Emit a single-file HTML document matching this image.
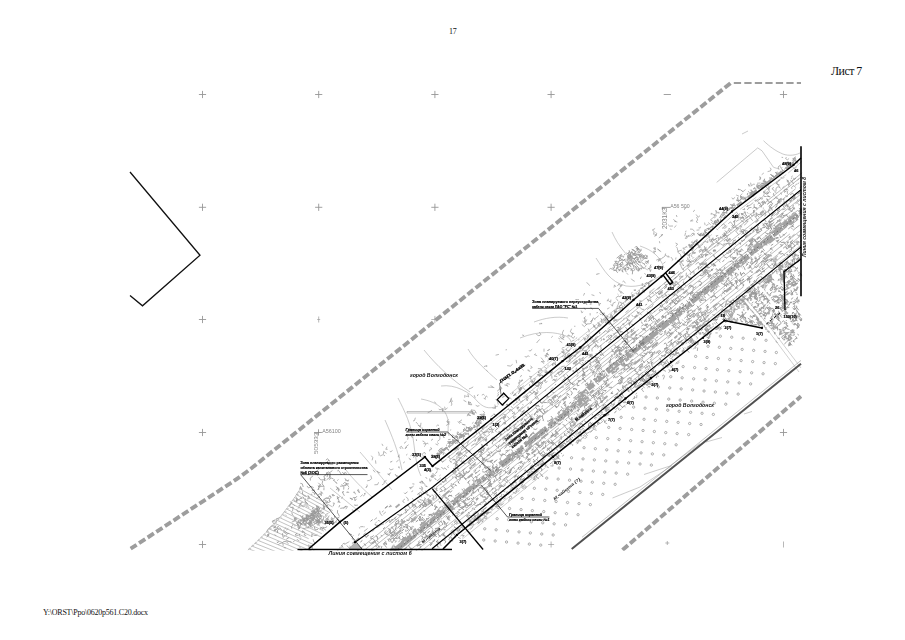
<!DOCTYPE html>
<html><head><meta charset="utf-8"><title>Лист 7</title>
<style>
html,body{margin:0;padding:0;background:#fff}
body{width:905px;height:640px;overflow:hidden;position:relative;font-family:"Liberation Serif",serif;color:#111}
svg{position:absolute;left:0;top:0;will-change:transform}
.pn{position:absolute;left:449px;top:27.3px;font-size:8px;line-height:10px;letter-spacing:-0.3px}
.sh{position:absolute;left:831px;top:63.6px;font-size:11.9px;line-height:14px;white-space:nowrap;letter-spacing:-0.5px}
.ft{position:absolute;left:43px;top:608.2px;font-size:8px;line-height:10px;white-space:nowrap;letter-spacing:-0.24px}
text{font-family:"Liberation Sans",sans-serif}
</style></head><body>
<div class="pn">17</div>
<div class="sh">Лист 7</div>
<div class="ft">Y:\ORST\Ppo\0620p561.C20.docx</div>
<svg width="905" height="640" viewBox="0 0 905 640">
<defs><clipPath id="mc"><rect x="129.5" y="81" width="672.6" height="469.7"/></clipPath></defs>
<path d="M198.9 94.5h7.2M202.5 90.9v7.2M198.9 207.3h7.2M202.5 203.7v7.2M198.9 319.5h7.2M202.5 315.9v7.2M198.9 432.5h7.2M202.5 428.9v7.2M198.9 544.5h7.2M202.5 540.9v7.2M315.1 94.5h7.2M318.7 90.9v7.2M315.1 207.3h7.2M318.7 203.7v7.2M431.3 94.5h7.2M434.9 90.9v7.2M431.3 207.3h7.2M434.9 203.7v7.2M547.5 94.5h7.2M551.1 90.9v7.2M547.5 207.3h7.2M551.1 203.7v7.2M779.9 94.5h7.2M783.5 90.9v7.2M779.9 432.5h7.2M783.5 428.9v7.2M663.7 94.5h7.2" stroke="#969696" stroke-width="0.9" fill="none"/>
<path d="M318.7 316.5v6M317.2 319.5h3M783.5 541.5v6M431.3 319.5h7.2M434.9 315.9v7.2M548.1 544.5h6M551.1 541.5v6M665.3 543h4M667.3 541v4" stroke="#9a9a9a" stroke-width="0.7" fill="none"/>
<polyline points="130,172 200,255.3 142.5,305.8 130,295.5" fill="none" stroke="#111" stroke-width="1.3"/>
<g clip-path="url(#mc)">
<path d="M130.6 548.7L232 482.2Q244.7 473.8 257 463.8L731.4 82.4" fill="none" stroke="#9d9d9d" stroke-width="3.9" stroke-dasharray="7.38 2.93" stroke-dashoffset="0.2"/>
<path d="M733.8 82.9H801" fill="none" stroke="#9d9d9d" stroke-width="2" stroke-dasharray="7.3 3.2"/>
<path d="M622.5 550L801 396.3" fill="none" stroke="#9d9d9d" stroke-width="3.9" stroke-dasharray="7.2 2.8"/>
<path d="M447.8 457.6L509.2 408.2M522.6 397.7L560.5 367.2M568.6 360.7L605.2 331.2M607.3 329.2L678.9 271.5M682.4 269.3L753.3 212.3M757 209.1L809 167.3M449.6 459.9L534.7 391.4M554 376.3L589.5 347.7M595.9 341.9L640.6 306M647.7 300.3L755.1 213.9M767.2 204.3L823.5 159M452.9 464.1L490 434.2M495.4 430.2L590.1 353.9M597.3 348.2L683.2 279M690.2 273.6L795.7 188.7M801.5 183.8L827 163.3M317.5 582.9L416.9 502.9M436 487.6L478.2 453.6M493.4 441.5L538.7 405M541.1 403.3L634.7 327.9M646.4 318.2L759.4 227.2M773.5 216.1L831.8 169.2M320 585.9L429.6 497.6M439.4 489.1L532.6 414.1M547.1 403.1L638.7 329.4M654.8 316L712.6 269.5M726.1 258.6L759.4 231.8M763.8 228L805.9 194.1M821.3 181.8L833.8 171.7M322.1 588.6L434.8 498M444.7 490.6L527.2 424.2M543.2 410.8L655.1 320.7M664.3 313.8L729 261.7M747.5 246.3L792.8 209.9M798.6 205.4L836.4 175M324 590.9L379.7 546.1M389 539L454.7 486.2M473.3 471.1L569 394.1M581.4 383.7L675.8 307.8M693.8 293.9L797.9 210.2M813.5 197.2L838.3 177.3M332.5 601.5L422.9 528.6M425.7 526.5L476.4 485.7M484 479.4L520.1 450.4M524.5 447.1L565.1 414.4M567.2 412.9L680.1 322.1M684.2 318.5L739 274.5M747.3 268.2L789.9 233.9M809.1 218.1L846.8 187.8M335.1 604.7L375.8 571.9M382 566.8L490.7 479.3M492.8 477.9L612.8 381.3M616.8 377.7L698.8 311.7M710.1 303.3L832.7 204.6M846.6 193L849.2 190.9M338 608.3L441.3 525.1M456.7 512.5L518.7 462.6M535 450L658.2 350.8M674.2 337.8L781.9 251.2M787.3 246.5L852.1 194.4M340.4 611.3L374.2 584.1M380.6 579.4L476.5 502.2M486.1 494.6L604.9 399M623.2 383.6L688.5 331.1M694.1 326.5L743.6 286.7M756.6 276.7L854.7 197.7M342.8 614.3L435 540.1M438.1 537.6L531 462.8M546.4 450.1L647.7 368.6M652.4 364.7L757.3 280.2M773.3 267.5L856.8 200.3" fill="none" stroke="#a0a0a0" stroke-width="0.7"/>
<path d="M513.2 395.4L653.4 282.5M511.3 393L651.5 280.2M459.9 536.5L545.6 467.5M462.1 539.2L547.8 470.2" fill="none" stroke="#a0a0a0" stroke-width="0.5"/>
<path d="M511.1 406.2l1.6 2M680.4 278.5l2.1 -1.7l-0.2 -1.2M491.5 433.3l1 -2M527.6 395.2l-1.1 2.1l2.3 0.9M731.1 243.2l-2.2 1.2l2.1 2.6l-1.9 1.5M742.2 229l1 1.2M657.4 292.1l1.5 1.9l2.5 -2l-1.8 -0.1M663.2 295.3l-2.2 -0.1M644.1 309.4l-2.4 -0.1l-1.1 -1.4M799.4 188.1l2.4 -2M595.9 341.3l-1.4 1.1l1.7 2.5l1.8 2.2M785.1 200.9l-2.3 1.8M513.2 414.3l-1 -1.2M574.9 356l-0.9 -1.1l1.6 1.9M594.7 346l1.9 -1.5l-2.7 2.2M556.1 384.1l-1.4 1.1M770.1 207.7l-1.3 -1.7l2.2 -1.8M747 217.3l1.4 -1.1M746.9 215.6l-1.3 0.4M578.1 360l2 -1.6l-0.3 3.3M522.4 411.7l-0.5 1.8l-1.8 1.5l3 0.7M457.8 456l-1.9 1.5M493.4 433l-1.7 -2.1l2.7 -2.2M763.9 213.3l1.5 -0.2l-2.4 2l-1.7 1.4M777.9 201.3l2.5 0.7l1.3 -1M553.4 387.3l-1.5 1.2l-1.3 1.1l1.3 1.6M546.1 389.8l-1.4 1.1M669.3 283.7l1.5 -1.2l2 -1.9M595 342.3l-1 -1.2l1 -0.8M687.5 275.2l1 1.2l1.9 2.4l-1.1 0.9M615.6 320.6l-2.6 0.2M454.7 463.7l2.8 1.8l-2.4 0.4l0.3 3M731.3 230.8l-2.2 -2.7l-0.3 1.3l0.4 1.2M673.6 279.1l2.3 -1.8l-1 0.8l2.7 -2.2M701.7 255.8l1.2 1.4l-2.2 -2.7l3.4 0.4M625.3 326.9l2.2 2.7l-1.1 0.9M757.6 214.7l-2.2 1.8M595.2 339.1l1.7 2.2l1.4 1.7M760.6 203.1l2.4 -2l-0.7 2.8M589.1 348.2l0 -1.4l2.5 -2l2.4 -2M542 383.8l0.4 -1.9l-1.7 1.4l-3.1 -1M715.9 239.9l1.4 1.6l2 2.5l-1 -1.2M564.3 374.5l-0.6 1.7l1.6 1.9l-2.1 1.7M656.2 295.3l2.2 2.7l1.9 -1.5M575.1 354l0.6 2M461.7 459.5l-1.3 -1.7l-1.8 0M664.3 287.1l1.5 -1.8l1.3 -1.1l-1.9 0.9M570.3 371l-0.9 -1.2M482 444.2l0 3.2l1.1 -0.9l-2 -2.7M736.4 230.8l2.3 -1.9l-1.1 -1.4l-1.5 1.2M647.8 301.8l1.1 -0.9M593.5 341.6l-0.8 -0.9l1.4 -1.2l1.8 -1.4M461 451.7l-1.5 1.2l2.8 1.6l-1.1 -1.3M531.5 388l-1.8 -2.2l-0.1 -1.7M637 306.2l0.2 1.9M536 397.7l-1.1 -0.9l2 2.5M595.4 339.9l1.2 -1l-1 -1.3l2.6 -1.2M571.2 358.9l-2.3 1.8l-2.9 1.1l1.1 -0.9M586.3 360.7l-1.8 1.7M736.6 228l0.5 1.3l-1.5 -1.9M590.6 356.2l-2.1 1.7M461.9 444.1l2.4 -1.9M733.8 241l1.6 -1.3l-0.7 1.6M549.5 373l3.1 -1.2l-1 0.8l-1.8 -2.2M749.9 228.3l0.9 1.2l1.3 -2.7M740.8 230.1l2 2.5l1.5 1.9M539.5 382.2l1.4 1.8M478.7 431.7l1.6 3.1l0.9 1.2M733.6 240.2l-0.8 2.8l-1.4 1.2l2.3 -1.8M517.9 402.6l-2 -2.5l1.1 -0.8M638.2 305.8l2.2 1.6M631.2 322.1l-2.6 2.1l1.4 -1.1M797.5 180.1l1.7 -1.4M491.3 430.7l-1.6 1.3l-1.2 1l1.1 -0.7M758.3 219.8l-2.2 1.7l-1.1 0.9M651.9 291.7l1.7 2.5M651.9 302.4l-1.8 -2.2l1.7 2.1M568.2 368.2l-1.7 1.3l-1.7 -2.1M787.3 189.3l-2.1 0.5M658.3 297l-1 1l-1.8 1.5M508.4 409.1l0.9 1.1M566.6 374.4l2.2 2.7M679.3 280.1l1.5 -2.9M513.3 416.4l0.9 2.5M628.3 319.8l-1.3 -1.7M582 349.5l2.4 -1.9l-2.1 1.7l-1.6 -2M691.8 264l-2.1 0.7M610.5 324.3l-2.2 -2.7l-2.9 0.8l1 1.3M474.7 439.7l0.9 1.1l-1 0.8M741.7 227.5l-1.7 -2.4M739.9 220.2l1.4 -3.2M527.6 408.5l0.5 -1.8l0.5 2.7M763.3 212l-0.2 1.5l-2.4 1.9M526.6 396.1l1.1 1.4l-1.3 1l1.4 2.4M740.9 221l1.3 -0.3l1.4 1.7l-1.1 -1.4M725.6 237.9l-2.2 -2.7l1.5 -1.2M519.1 411l-1.2 -1.5M694.2 274.4l-0.4 -3.3l-2.3 1.8l-1.6 -2M782.4 187.9l2 -1.6M450.5 459.1l-1.5 -1.9M669.9 286.8l1.1 1.7M458.8 460.5l1.2 -1l-2.6 1.9l-1.4 1.1M673.9 283.3l0 3.4l2.6 -2.1l1.7 -1.3M788.3 182.7l1.5 1.9l-1.7 -0.1l1.2 2.4M564.8 366.1l-3.5 0.5M651.1 298l-1.8 -2.3l-0.1 1.6M688.3 263.5l-0.3 3.3l-0.6 -1.2l2.7 -0.5M565.2 377.2l0.9 1.1M545.9 380.2l-1.3 1l1 1.3l1.8 -1M651.2 299.7l-2.6 1.1l-1.8 -2.2l1.9 2.3M659.3 287.7l1 -0.8M576.6 353.7l1 -0.8M713.6 254.3l1 3M702.6 265.8l2.6 -2.1l1.3 -1l-0.7 3M484.6 426.9l-1.3 1l-1.4 1.1l1.1 -0.7M739.4 231.1l3.1 0.6l1.3 1.7M582.3 359.4l1.2 -2.2l-2 1.6l0.9 -0.8M452.4 460l2.7 -0.6l-2.6 -0.2M663.9 283.7l2.6 -2.1M493.2 429.9l-2.2 -0.9M488.4 428.1l1.3 1.7M610 336l1.3 -1l0.2 2.1M623.5 323.1l-1.7 2.4l-1.5 1.2l1.3 2.4M617.4 332.4l1.3 -1.1l1.8 -1.5l-0.5 -2.8M674.9 278.3l1.5 -1.2M513.8 413.7l0.6 -2M724.5 240l-0.3 1.4M781.5 194.6l-0.7 -2M639.2 312.3l-1 0.8l-0.9 0.8M713.8 251.4l1.7 -1.4l-2.6 0.8l1.6 1.1M610.3 338.3l-2.2 1.8l-1.8 1.4l1.7 -1.7M783.8 190.3l1.3 1.6M465.5 450.5l0.9 2.7M584.1 360.5l-2.4 -0.2l-2.6 -0.4M608.3 342.9l2.7 -2.2M724.5 243.3l-1 0.8l-1 0.8l-2.3 -1.3M490 426.4l2.1 2.6l-3.4 0.8M516.2 416.7l-3 0.6M658.6 289.3l0.8 -1.8M755.8 215.5l0.5 -2.9l0.3 2.3M715.8 251.6l-1.7 -2.2l-0.9 1.8M633.3 316.9l-1.7 -2.1M766.4 199.4l2.1 2.5l3.1 0.3l-0.7 -1M540.8 381.8l-2.5 2M577.3 353.3l2.4 -1.9l0.6 -2.7M761.8 205.7l-1.3 1.1l2.1 -1.7l1.4 -1.1M628.3 319.7l-1.8 1.4l1.4 -1.1M509.2 411.2l1.3 -2.1l1.3 1.6l1 1.3M454.5 450.2l2.6 -2.1l1.5 1.8l-0.9 -0.9M580.7 363.5l-1.9 -0.7l-2.6 2.1M609.3 334.9l-1.5 1.1l-1.8 1.5M745.5 221.2l2.2 -1.8l-2.3 1.9M650.8 292.3l-1.1 0.9l0.6 -2.5M792 188.9l-0.6 -1.4l2.5 -2l1.7 2.1M485.9 427.4l1.7 -1.4M591.7 354l-1.9 1.6l1.3 -1M613.2 333.4l1.5 1.8M739.5 227.7l2.1 2.6l1.7 2.2l1.4 1.8M481.6 436.2l1.7 2.1M703.2 251.5l-1.3 1.1M459.5 458.5l2 -1M589.9 354.1l2.7 1.6l-2.6 0.6l2.6 -2.1M714.7 240.2l-2.4 -2.2M594.6 342.3l-1.6 0.1l-0.8 -1l1.8 -1.4M588 353.7l-1.9 -2.4l-3.1 -1.4l-1.5 1.2M778 202.2l-1.1 2.9M614.6 336.8l1.3 1.6l2.4 -1.9M569 362.1l1.9 -1.7M469.6 452.4l0.5 -1.5l-2.5 0l-1.5 -1.9M746.3 218.2l2.6 -2.1l1.7 2.1l2.1 2.6M746.5 222.7l1.9 -1.5M538.6 392.3l-2 -2.5l1.8 -1.5M519.9 400l-1.2 -1.5l1.3 1.7l-1.8 0.1M773.7 199.3l2.3 -1.9l1.2 1.6M483.4 429.9l-1.5 -1.8l2.6 -2.1l1.4 -3.1M462.4 446.7l1.6 -1.3M662.6 297.8l1.8 -1.4l2.8 -1.5M711.3 244.3l2.4 -0.7l-1.7 -2.1M767.4 204.3l2.7 -2.2M473.5 444.2l-2.4 2M468.5 440.7l-1 3.2M674.3 286.3l-1.4 -1.8M497.1 423.9l1.9 -1.1M784.2 192.6l2.4 -1.9M481 439.4l-2.5 2l-2.6 2.2M455.2 450.2l1.5 -1.2l2.1 -1.7M723.2 236.4l1.9 -1.6l1.1 1.4M461 454.6l-1.5 1.2l-0.9 -1.1M497.8 432.4l2.4 -1.2M663.2 296.6l-1.4 1.1M610.3 328.8l-2.6 2.1M603.3 332.6l2.7 -2.2l1.4 1.7l2.1 -0.8M556.7 373.7l2.6 -2.1M499.6 416.4l2.2 -1.8M764.3 216.3l1.8 -1.5l-1 -1.1l1.3 -1M477.5 444.3l-3.1 -0.4l-1.6 1.3M483.8 433.3l0 1.5l2.4 0.6M714.1 250.9l2 -0.4M476.3 438.4l-1.3 2.8M715.7 246.1l-1.5 1.2M613.6 321.8l1.2 -0.9l1.3 -1.1l1.2 1.5M461.9 460.3l-1.3 1l1.9 1.4l3.1 0.9M496.8 424.4l2.3 -1.9l1.7 -1.3l-2.5 2M727 233.1l-2.1 -2.6M675 282.9l0.4 -2.1M575.1 356.7l-2.6 -1.1l-2.7 2.2M763.8 201.4l-0.9 1.2l3.2 0.2l-1.1 0.9M612.8 331.2l-1.1 -1.3M745.1 232.6l1.3 -0.2l-0.9 -0.9l-2.3 -2.4M748.2 213.6l-1.1 -1.4M535.2 385.1l1.4 1.3M677.1 287.6l2.5 -2.1l-1.4 -1.7l-2.1 -2.6M538.2 383.6l1.2 1.4l-2.1 1.7l-1.4 -1.8M624.5 318.2l-1.5 1.2M793.4 179.6l-1.5 1.2M561.7 381.1l1 -0.8l2 -1.6M647.1 309.6l2.3 -1.8l3.2 -1.4M608.2 337.9l1.6 -2.2M758.1 214.5l3.2 -0.1l-1.2 -1.3l1.8 2.2M454.8 463.1l0.9 1.1l1.5 -1.5l-1.6 -2M708 250.7l-1.2 -1.5l-2.1 1.7M591.4 344.7l-1.5 1.2l-2 1.6l1 -1.7M614 337.7l-1 0.8M563.3 371.6l-2.4 -0.3l-1.8 1.5M585.5 354.8l1.7 -1.4l-1.9 1.5M639.5 312.3l-1.2 1l-1.5 -1.8l2.3 1.5M585.3 350.8l1.9 2.4M694.3 261.8l2.4 -2l-1.7 1.4M753.4 212.6l1.7 -1.3M587.3 360.6l2.9 0.2l-1.1 -0.4l2.1 2.6M671.5 286.9l-1.5 -0.7M780.1 203.7l-2.2 -2.7l2 -1.6l-1 0.8M759.6 215l-2.4 -1.3M502.3 415.2l1.2 -1l2.9 1.2M523.6 405.1l-1.2 -0.7M680.5 272l1 1.2M572.1 371.1l1.8 -0.5l0.1 2.3M598.6 346.6l-1.3 -1.7M462.5 458.8l1.2 -1M457.1 463.4l-1.9 1.6l1.9 -0.5M612.4 338.9l-1.4 1.1l-1.2 -1.6l2.1 -1.7M538 384.6l1.3 1.3M619.6 331.8l-1.2 1M595.9 353.1l1.2 1.5M535.4 392.5l-2.8 -1.9M619.9 334.3l0.4 1.7l2.5 -2l-1.9 1.5M463.5 455.2l1.2 1.5M713.1 255.4l1.5 1.2M659.8 290.8l-2.3 1.8l-1.1 0.9l-1.2 -1.4M744 232.4l-2.6 2.1M706.4 258.7l-2.5 2l-1.1 1.4M683.2 268.7l0.4 1.8M703.3 256.5l-1.2 1l-1.5 -0.5l-2.4 -1M536 392.9l-1.1 -1.4l-2.6 2.1l-2.8 -1.7M715.3 257.2l0.4 1.4l2.8 1.7l1.8 2.2M552.3 372.3l-1.7 1.4l0.6 2.3M705.6 262.7l-1.8 1.5M513.1 405.2l1.4 -1.1l1.2 -1l1.3 -1M707.3 254.8l-1.4 1.1l-0.5 -1.4M502.6 423.6l1.9 -1.6l1.2 2.2l-1.7 -2.1M763.9 207.8l-1.1 0.9M628.7 310l-1.5 1.2l-1.7 1.4M617.9 328.3l1.2 -1l-2.3 0.2M728.8 234.7l-1.9 1.6l-2.1 -2.6l-0.8 -1M689.5 277.3l2.5 1.3l-2.3 1.8l2.4 -2M787.4 193.9l-0.1 -3M570.2 359.6l-1.2 -1.5l2.4 -2M466.9 449.8l-2.7 1.9l-1 0.8l-1.8 1.5M677.3 281.5l-2.2 1.7M688.1 268.7l2 2.5M716.8 238.4l-2.8 1.4l-1.8 -0.2l-1.7 1.4M458.2 463.9l-2.6 2.1M455.1 463.6l1.6 -1.3l-1.5 -1.9l2.3 -2.6M685.4 278.3l-2.2 1.8M661.4 290.5l-0.7 2.2l2 0.3M523.1 406.6l-2.2 1.7l-1.6 1.9M540.2 388.5l1.1 -0.9l-1.9 1.5M691 262.5l-1.1 -1.4l1.1 1.3l-2.6 -1.2M770.9 207.2l0.9 1.2l-2.6 -0.3M624.5 325.1l-1.5 -0.6l2.3 -1.9l1.7 -1.3M457.4 457.9l1.8 -1.4M613.6 337.6l2.7 -2.2l1.6 2.9l2.3 -1.8M756.2 208.8l-1.5 -1.9l-2.2 1.8M488.5 432l-0.7 -1.3l-1.4 1.1l-1.2 0.5M746.6 223.2l-2.4 1.9M779.1 200.4l-2 1.6M575.8 354.6l1.8 -1.5l-0.8 -1.1l2.5 -0.5M709.5 252.3l2.9 1.5M571.4 359.2l2 -1.6M759.2 217.4l-1.6 -2l-1.5 1.2M571.4 355.7l-2.2 -2.4l-2.2 1.8M553.1 379.2l1.3 1.6l2.7 -2.2M779.5 201.9l-2 1.6l2.4 -1.9l-2.2 1.7M727.5 239l-0.4 -1.7l-0.9 -1.7l-3.2 -0.1M788 195.8l-1.2 1l-1.3 -1.7M799.2 182.7l-1.5 1.2M475.6 435.9l-2 1.6M739.8 227.6l2.4 -2M551.8 375.7l0.2 2.9M454.3 450.4l1.1 -1.3l2.1 -1.7M483.3 441l1.5 -1.2l1.8 0.2l-1.5 1.2M575.3 365.9l0.7 -2.2l0.5 -1.5l0.2 -1.4M458.8 451.7l-2.7 2.2l1.2 -1l1.3 0.8M754.5 215.6l1.6 2.3l2.2 2.7l-2.3 1.8M738.7 234.8l-1.7 -2.1l-1.6 -1.9M630.1 320l-1.3 0.9l-2.4 -2.4M496.9 425.1l-1.9 1.6M730.2 243.9l-3.1 -0.6l-1.9 0.7l-2.5 2M786.8 189.1l1.5 1.2M721.2 235.9l-2 2.7l-1.1 -1.3l0.5 3.3M542.9 383l-1.4 1.1l-0.9 2.8M660.8 286.3l-2.6 2.1l-1.4 1.2M774.7 196.2l-1.7 -2.2l1.3 -1.1M771.3 207.8l1.2 2.7M778.3 206.9l1.6 2.3l-2.6 2.1M509.3 418.7l-1.8 -2.3M483.2 432.5l2.8 -0.4l1 -0.8l0.8 1M667.6 290.6l-0.5 1.1l-2.5 2l2.2 2.7M519.4 409.6l1.7 2.1M652 305.7l1.6 -1.3M722.3 238.8l1 -0.8M520.3 397.3l-2.6 2.1l-2.7 -0.8l2.4 -0.3M779.6 200.8l-1.4 -1.7l-2.2 -2.7M783.2 199.5l1.1 -0.5l-1.3 1.2l1.4 -1.1M484.4 436.7l-2.6 2.1M706.4 254.7l1.9 0l-2.9 -0.2l0.3 2.6M688.4 274.7l-1.6 1.3l-1.1 2.3M686.4 272.7l-0.3 3.3M768.5 212.3l1.5 1.9l-2.7 2.2M647 304.1l-1.4 1.1l1 -1.3M698.3 269.7l0.9 -1.9l-1.2 0.9M589.9 347.1l-1.9 -2.4l-2.1 1.7l-3.3 1.1M632.4 320.8l-1 1.1l-1.9 1.5l-0 2.4M654.4 288.5l-1 0.8l-2.6 2.1M759.1 205.9l1.8 -1.5l-1.6 -1.5l-1.6 1.3M587.3 343.3l-2.2 -2.7l1.3 1.6M793.9 179.7l2 -1.6l-1.5 1.2l-1.3 -1.6M743.4 218.9l-1.4 -1.8l1.4 1.7l1.4 1.7M703.7 262.4l-0.7 2.4l-1.2 -1.5M492.5 422.8l-2 1.6M486.1 437.7l0.7 2.1l-1.9 -0.6l1.9 2.3M599 334l1.2 -1l-1 -1.3l-0.9 -1.1M658.7 294.3l2.2 -1.7l2 -2.5M544.3 380.8l1.5 -0.7M698.1 266.2l0.6 1.9M795.1 185.4l2.2 -1.8M604.3 339.1l-1 0.8l0.6 -1.8M671.8 282.8l2.1 0.8l2.1 0.7l-2.5 2M522 411.9l2.3 -1.8l-0.8 2.6l1 1.3M791.4 182l1.8 -1.4M695.1 260.5l2.2 -1.7l2.6 -2.1M761.7 207.5l-0.9 -3.1M718.1 242.8l1.1 1.6l-2.4 1.9M462.1 450.2l-0.6 -1.8l1.3 -1l1.6 1.4M757.3 207.9l-3.4 -0.6M558.2 372.3l1 3.1l1.4 -1.2M525.9 400.5l2 -1.6M468.1 444.5l-1.8 1.4l-0.5 1.5M477.3 441.2l2.3 -1.8M673.2 281.8l-0.8 -1M689.4 262.7l2.4 -2l1.7 1.1l0.6 -1M562.2 367.5l-2.5 2M552.4 380.5l1.8 -1.4l1.5 1.8M557.3 376.7l-3.2 -0.7M536.9 384.9l2.1 2.6M706.1 251.1l1.2 -1M610.5 335.2l1.6 0.9M664.8 284.4l1.9 2.3l-2.4 1.9l2.7 -2.2M754.1 214.5l-2 1.6l-2.1 -2.6M465.5 454.9l1.7 2.3M576.4 353.8l-0.9 -3.2M776 191.3l0 -3l2.1 -1.7l2.6 1.7M717.8 243.9l-1.9 -2.4M504.2 424.5l1.6 -2.9l-1.9 -2.4M596.4 346.9l-1.9 -0.4l-2.6 2.1l0.2 2.9M671.1 285.3l1.9 -1.6l-1 0.8M687.6 275.9l1.9 2.4l0.4 -1.7M702.5 266.3l-2.4 1.9l1.9 -1.8M627.8 317.4l1.8 -1.4l-0.9 -1.1M680.6 272.8l-2.7 2.2M603.5 339.3l1.4 0.4M755.8 210.3l1.5 -1.2l-1.3 -1.1M784.2 191.3l0.5 -1.9l2.5 -0.5M592.7 338.4l-1.1 0.9M727.8 241.7l-1.5 -2.5l-0 1.5l-1.4 -1.7M621 332.9l-0.7 -1.8l3.1 1.2M695.6 264.4l2.7 -2.2l1.6 1.9l2.8 0.6M569.2 359.6l1 1.2l-2.7 2.2M683.1 269.8l-0.8 -1l-1.2 -2.4l-0.5 -2M707.2 251.1l2 2.4M746.3 220.9l1.5 0.6M566.2 369l-1.5 1.2l-2.2 2.6l-2.2 1.8M523.1 400.1l-1.4 1.6l-1.9 0.3M496.7 432.3l-1.5 -1.7l2.3 -1.9l-1.2 -1.4M730.3 232.5l-1.8 -2.2l-2.5 2M735.2 224.2l-1.9 1.6l1.4 -1.1l-2.5 2M764.7 212.7l1.2 -1l-1.9 -2.3M600.4 341.1l1.6 -1.3l-1.5 -1.9M499.4 419.5l2.6 -2.1M770.9 206.9l-1.7 1.4l1.8 -2.4l1.2 -0.9M641.6 315.2l-1.7 -2.3M776.1 192.9l-2 -2.5l-2.2 -1.7l2 -1.3M565.2 366.8l-2.2 2.7l-2.2 1.8l1.1 1.3M618 327l1.6 2l1 0.8M535.9 395.3l2.1 2.7l0.4 1.6M767.5 212.2l2.2 -1.8l-0.8 -1l-0.3 2M480.9 430.2l1.5 1.9l2.6 0.9M590 350l-2.7 2.2l-1.6 -2l1.3 1.1M515.1 414.5l-1.8 -2.3M744.1 230.7l-1.3 1l2.6 -1.4l2.6 1.1M775.7 204l1.5 1.9l-1.9 1.6l1.5 -1.2M708.6 252.5l1.9 2.4M582.3 362.2l1.9 2.3l-3.3 0.5M754.9 210l-1.9 1.5M526.9 395.7l-2.6 2.1M616.2 332.6l-1.4 0.6l-1.2 1M464 456.6l1.8 -1.4M770.4 201.3l2 2.5l-0.9 0.8l1.6 -1.3M668.5 293.9l1.8 2.2l1.6 -1.9l1 -1.2M629.8 324.3l-1.2 -0.9l1 -0.8l0.8 0.9M690 273.3l0.5 1.7M450.9 460.8l0.3 1.7l-1.8 -2.1M792.5 182.2l1.4 1.8M738.3 237.1l0.8 1.4M638.8 303l2.6 -2.1l-2.5 -0M683.5 276l-1.1 0.9l-2.1 -0.8l-1.3 1.1M530.8 400.9l1.1 1.3l-2 1.6l2.1 -1.7M771.7 209.6l-1.1 0.9M732.8 228.1l2 -1.6l0.9 -0.8l0.6 2.7M599.3 350.8l2 -1.6l-0.7 -3.2l0.7 -1M374.4 529.9l-2 1.6M407.5 491.8l-2.5 2l-0.9 -1.1M420.5 492l-1.4 1.1l-1.9 1.5M438.2 468.5l-3.2 -0.6M355.7 540.3l-1 0.8l1 1.2M441.3 467.4l2.4 1.5l1.3 -1.1l1.8 2.2M446.5 459l-2 1.6l-2.3 1.8M441.7 461.4l-1.5 -2.2M411.3 486.8l-0.9 2.4M384 523.8l-3.1 1l-2.5 2.1l-2 0.7M409.2 487.6l2 0.4l2.4 -1.9M424.7 485.6l2.4 1.2l-0.7 -1.2M352.3 536.5l1.2 -1M365.7 532.8l-2 1.6l0.8 0.9l2.1 2.7M344.7 544.4l2.3 -1.5l1.4 -0.7l1 -0.8M420.7 492.1l1.7 2.1M425.6 477l1.4 1.8M377 524.7l1.3 1.7M437.6 470.8l-1.1 0.9M370.6 521.3l1.9 -1.6l-1.8 1.5M381.9 512.2l1.8 -1.5M439.9 469.6l-1 -1.1l-1.1 0.9l-1.3 0.2M346.8 545.4l1.7 2.1l2.6 0.5l-1.4 -2.3M368.4 534.9l-2 2.1l2.6 -2.1M411.7 492.1l1 -1.6M351.7 537.9l2.1 2.6M343.1 547.8l-1.5 -2.8l0.6 1.6l-1.8 1.4M412.4 483.8l2 0.3M360.1 528.4l-1.2 -1M377.7 521.2l1.2 -1l1.1 1.4M447.4 457.6l2.5 -2l-1.7 1.4M419.2 482.4l2.6 -0.7l-1.5 1l1 0.8M355.3 546.9l-1.4 -1.7M425.2 484.9l-1.6 -2l-1.7 -2.1l1.2 3.1M387.8 506.4l-2.9 1.8l2.6 -2.1l-2.2 1.8M338.9 548.4l1.7 -1.4M374.3 519.8l2.7 -2.2M385.8 512l-2.5 2.1M363.9 531.4l1.2 -0.9l2.5 -2M435.7 475.8l-0.9 -1.1l-2 1.6l-0.7 -1.8M408 501.1l0.2 -2l-2.1 -2.3M413.6 499.9l-1.2 -1.6M375.9 524.8l-1.1 -0.7l1.3 1.7l1.1 -0.9M439.5 475.8l1 -0.8M443.5 461l-1.1 0.9l-1.4 -1.7M361.1 541.5l1.2 -1l-2.2 1.8M358.5 535.7l0.9 -2.4M419 493.3l0.3 2.1l2.5 1.7M390.1 504.7l1.4 1.7l-2.6 0.5l1.7 -1.4M342.3 544.5l1.9 -1.5l0.2 1.3M352.7 543l1.7 -1.4l-1.3 1l-1.2 0.9M421.7 490.9l0.9 -2.6l-1.3 -1.6l1.1 0.7M433.3 474.9l-0.4 -1.9M434.3 478.2l1.9 1.5l-0.9 -1.1M382.2 515.8l-2.1 -2.6l-0.4 -2.4M350.8 533.8l0.9 1l-3 -1.1M431.6 479.9l-1.7 1.4l-0.2 -2.8M404.9 499l-1.1 0.9l-1.2 1l1.8 2.2M375.3 523.2l1.4 -1.1M437.2 472l-2 1.6M363.1 526.6l-2.9 0.2M432.4 476.6l0.8 1M448.5 465.4l-0.9 1.3l1 1.3M432.3 477.7l2.3 -1.9M440.8 477.8l-1.3 1.1l-2.6 2.1M364 527.4l0 -1.2M419.2 488.2l2.9 1M432.4 470.3l-2.4 1.9M367 535.1l-0.8 -1.5M422.4 490.9l2 2.5l3 -0.4l-2.1 -2.6" fill="none" stroke="#989898" stroke-width="0.75"/>
<path d="M790.4 180.2l1.8 2.2M691.3 253l-2.6 2.1M780.4 179.7l-2.1 1.7l-2.6 2.1M722 228.5l2.3 -1.8l2 -1.6M687.6 257.5l0.8 3.1M728.3 223.7l2.2 -1.8l1.4 1.8l1.8 2.2M702.8 243.3l2.3 -1.9l2.8 1.1l-0.2 -2M701.3 248.9l-2.6 2.1M780.7 176.9l1.6 2M706.6 248.1l-2.5 2l1 -0.8l-0.7 -3.2M776.5 183l2.1 2.6l1 1.2M738.4 218.6l2 -1.6l1.5 1.9M788.7 180.7l-1.5 -0.4l0.2 1.7l1.6 -0.2M777.1 181.2l-0.4 2.8l3 1M791.2 177.1l1.5 -1.2M784.2 177.1l-1.1 1.4M738.3 215l1.3 -1.1l-2 1.6l-1 -1.3M786.7 179.6l2.1 2.6l1.4 1.8M710.1 238.2l-2.1 -2.7l-2.3 1.8M768.6 192.5l-1.9 1.5l1.8 -1l-1.3 -1.7M701.2 249.2l1.8 2.3l0.5 -2l-1.4 2.2M732.8 217.7l1.5 -0.2M766.7 198.5l1.5 1.8l-1.3 -1.6M767.8 193.3l-1.6 -0.7l-2.5 2M689.7 260.5l-1.9 1.5l-1.2 -1.5l1 -0.8M779.4 179.7l-1.3 1.1l1.2 -0.8M691.1 250.8l2.6 -2.1l-1.7 1.4l2 2.5M767.9 196.2l2.5 0.6M682.7 264.8l1 1.2l-0.8 -1.4l-2.2 -2.7M723.4 228.2l1.7 -0.1l2.2 -1.8M767.1 196.2l2.4 0.5l-2 -1M744.1 217.6l-2.6 -0.2l1.2 -1l1.3 2M768.9 192.7l-1.9 1.5l-1.9 -0.9l-1.8 -2.2M763.5 194.8l0.4 1.6l2.7 0.1M758.6 198.8l-2.3 1.8l-1.6 0.1l1.6 0.9M700.9 250.9l-1.7 1.3l2.2 -1.8l1.1 -0.9M762.9 196.7l-2.4 1.9l-2.1 1.7l2.4 -2M768.7 190.1l-1 -1.3l-1.8 -2.4M718.2 235.4l-2.1 0.4l0.9 1.2M770.8 185.5l-1.7 2.3l-0.2 3.2l1.5 1.8M692.7 258.6l1.2 -1.2M688.3 254.9l1.3 -1l-0.2 2.7l0.3 1.6M796.9 166.7l-2.6 2.1l-2.3 -2.5M755.3 208.3l-1.1 -1.3l-0.1 -3.1M710.7 239.2l1.8 2.9l-1.7 -2.2l2.6 -1.9M746.9 216l-1.3 -1.6l-1.1 1.2l2.2 2.6M762.9 203.6l2 -1.6l-1.2 -1.5M741.4 213.2l1.8 2.2l-1.2 -2.1l-0.6 1.9M680.1 264.9l0 -2.4M709.2 235.8l-1.5 -3l2.2 -1.8M720.2 237.1l0.8 1l1 -0.8l2.6 -2.1M726.6 232.8l-2.7 2.2l-0.2 1.4M698.2 247.9l1 -0.8l-2 -2.9l-1.5 -0.5M731.2 228.2l1.9 -1.5l1 1.2M700.8 247.6l-0.9 -1.1l1.9 -1.5l1.4 -1.1M714.3 240.9l-2.5 -1.6M738.4 217l0.9 -1.5M741.8 214.6l2 -1.6M716.5 238.5l-1.5 1.2M690.5 259.4l-1.4 1.1l1.7 1.4M753 211l1 -0.8l-0.7 3l1 -0.8M747.9 205.4l-1.3 1.1l1.4 0l1.1 1.3M735.8 219.9l-2.7 2.2l2.1 -1.7M735.7 221.9l1.1 -0.9l2.1 -1.2M692.4 254.4l-1.4 1.1l1.6 1.9M742.5 209.4l2.2 0.3l-0.3 -1.6M790.9 178.8l1.1 -0.9M712.1 244.2l-1.3 1.5l-2.2 1.8M736.6 212.3l1.5 1.9M765.5 191.1l-2.2 1.8l1.1 -0.9M683.4 259.7l-2.7 2.2l3.2 -1.1M755.8 199.4l1.2 1.2l1.3 1.6l1.8 1.9M681 262.6l-1 -1.3l-1.4 0.5l-1.3 -1.6M753.3 202.6l-1 0.8l-2.2 1.8l-3.1 0.9M689.6 254.8l-1.3 1.1l-1.8 -2l2.2 -1.8M725.7 226.4l-2.1 -2.7l-2.4 1.9M745.9 214.1l-1.8 -2.3l1.6 0.4l-1.2 0.9M736.2 216.7l-1.3 1l0 1.3l1 -0.8M736.3 215l-1.8 1.5l-1.4 -1.7M706.2 246.9l-1 1.8l1 2.6l-1 -0.8M717.7 230.1l-1.1 -1.4M695.8 252.5l-2.7 -0.2l-1.2 0.9l3.5 0.3M709.3 238.6l0.1 1.8l1.6 2M751.5 207.4l-1.8 0.2l-2.7 2.2M743.7 214.3l-2.9 -0.9M734.5 224.3l-0 -3.5M724.2 233.5l0.9 -0.8l-1.3 1l-1.8 1.5M753.7 211.1l0.9 1.1M732.7 226.5l-1.1 -1.3M763.1 198.2l-1.4 1.2l-2 -2.4" fill="none" stroke="#989898" stroke-width="0.75"/>
<path d="M692 252.7L711.9 234.4M717.9 228.8L737.1 211.7M740 209.4L756.4 197.1M763.7 191.5L786.3 174.5M788.3 172.9L802 161.4" fill="none" stroke="#a0a0a0" stroke-width="0.55"/>
<path d="M599.4 373.6l-1.7 0.5l2 2.4M677.3 318.6l1.9 2.4l-0.1 2.7M651.2 319l2 -2.2l-1.2 -1.5l-2.2 1.8M493.7 476.8l3.2 -1.3l-0.1 -3.1l-1.5 1.2M585.1 395.8l2.4 1.9M631.5 329l-0.4 3.4l2.5 -2l-1.1 0.5M762.1 261.3l-1.4 1.1l2.5 -2l0.9 1.2M669.7 313.5l3.3 -0.2l-0.4 2.2l-0.4 -3.3M435.6 490l1.6 -1.9l-1.5 0.3l1.9 2.3M481.8 502l-1.4 1.1l-1.3 1.1l-1.8 1.4M723.6 303l-1.7 1.3l-2.4 1.6M590.1 369.2l1.4 1.8M659.1 319.1l-2.4 1.9l-1.6 1.3l1.3 1.6M500.9 478.4l-1.7 -0.6l1.8 1.8M723.8 269.5l1.2 -2.8M559.3 423.6l-1.3 1l-0.7 1.5M659.4 329.4l1.2 -1l1 1.2M556.1 416.5l0.4 1.2M624.1 363.8l-2.2 -2.3M647.9 367.6l-1.7 -2.1M758.3 281.1l2.2 -1.7M783 216.4l1.1 -0.9M456.3 478.5l-1.2 -1.5M465.3 511l1.1 -0.9l-1.4 0.4M568.8 378.9l-1.3 1.1M553.7 442.9l-1.1 -1.3l-1.7 -2.1M480.3 496.1l1.3 -1.1l1.4 1.8M790.4 223.8l-0.8 -0.9M762.6 248.4l2 2.5M400.4 535.6l-2.1 1.7M700.8 301l1.5 -1.2M485.6 489.7l1.6 2.6l1.4 -0M491.5 484.3l-1.8 -2.1l2.1 2M568.2 405.9l1.3 1.6l-1.6 1.3M671.5 342.4l1.5 1.9l-0.2 2.5M795.5 203.8l2.3 -1.9l2 -1.6M454.1 501.9l-0.7 -1.2l-2.8 1.1M711.1 268.9l1.3 1.7M743 258.2l1.1 -0.9l-2.5 -0.9M628.7 333.4l-1.9 -2.4l2 -1.6M632.9 381.8l2.1 2.6l2.5 -2l-2 1.6M672.5 310.6l-1.7 1.4l1.5 -1.2l-0.9 -1.1M436.9 490.3l-2.4 2l-1.3 -1.6l1.6 2M471 502.8l2.4 -1.9l1.9 2.4l-1.1 1.4M696.6 327.8l1.9 1.3l-2.1 1.7M660.9 333.7l-1 0.8l-1.3 -1.6M674.4 324.6l-1.5 1.1l1.3 1.6l3.4 -0.2M578.8 417.4l2.2 -1.7M769 266.6l-2 -2.5l1.2 1.5M769 254.7l-1.4 -0.3M586.1 413l0.3 1.5l-2.5 2l-1.5 1.2M442.1 506.2l2 2.5l-1.2 0.8M456.2 502.1l1.8 2.2l1.4 -1.1M535 461.3l-1.9 -2.3M621.4 381.7l-2 -2.5M526.6 422.5l-1.8 -3l1.2 1.5l-1.9 -2.4M577.7 372.6l-1.7 -2.2l0.5 -2.7M557.9 412.7l1.5 -1.2l2.4 -1.9l-1.3 1.1M422 514.7l-1.5 -1.6l0.7 1.4l0.9 1.1M791.1 241.1l2.1 2.6l1.9 2.3l-1.7 1M733.1 269.9l1.5 -1.2M772.9 262l1.5 -2.4l1.6 2M553.2 444.8l-1.5 -1.9l-1.4 0M552.3 419.6l-0.9 -1.1M665.7 315.4l0 3.1M623.2 355.4l2.5 0.9l-1.5 1.2M567.9 409.8l-2 1.6l1.8 0.5l1.1 1.5M700.5 311.6l0.4 -1.2M449.1 495.7l2.9 -0.4M728.9 283.8l3.2 -1M457.5 496.6l-2.6 2.1l-1 -1.2M797.5 194.5l2.4 -1.9l-1.3 0.9M623.6 386.5l-1.5 1.2M393.3 536.2l0.8 -1l-2.2 0.2l2.4 -2M739.1 253.6l-0.1 1.3M783 215.6l2.6 -0.3l1.7 -0.9M496.3 475l-1.5 0.5l1.2 2.8l1.6 2M460 504.9l-2.5 2l2.3 -1.9l-1.3 -2.6M745.7 266l1.1 -0.9l1.2 -1M681.6 336.7l-2.1 1.7l-1.5 1.2M705.1 312.6l1.5 -1.4l-0.8 -1.1l-2.3 1.8M549.7 403.6l2.4 -1.9l-2.1 -2.6l-2.5 2M525.6 425.6l-2.3 1.9l-1.3 1l-1.7 2.6M661.3 334.9l-1.6 -2.5l-1.2 -1.5l-0.5 1.9M785.5 247.4l1.5 1.8l2.3 -2.4l2.1 0.3M774.8 258.6l-2.9 1.4l-0.2 -1.2M693.9 315.9l0.3 1.4M520.5 440.1l-2.6 0.8l1.4 1.7l-0.9 -1.1M732.9 298.9l1.3 1.6l-1.7 -0.1l-2.7 2.2M492 467.6l0.8 1l2.6 0.9M471.4 460.4l-1.6 0.6M607.2 377.1l2.2 -1.8M680.9 309l2.4 -1.9l-1.2 1l-1.3 1.1M507.1 476.4l-2.1 1.7l-2.7 2.2M432.1 534.2l0.2 -3.4l0.6 -1.4M709.9 267.7l-3.4 -0.7l-2.1 1.7M530.7 443.6l-0.8 -1l-1 2.8M455.1 509.3l-1.6 -0.6l-1.8 1.4M632.8 369l-1.5 -1.9l1.5 1.8l1.8 -1.5M505.4 473l0.2 -1.8l1.7 2.1l1.2 1.4M696.2 286.3l-1.6 1.3l-1.8 -0.9M425.4 534.8l1.3 1.6M493.2 481.8l1.7 -0.7l-0.6 -1.7M611.6 357.6l-1 0.8l-0.2 3l-1.2 -1.6M475.3 482.1l-1 -1.2l-1.2 -1.5M460.7 497.6l1.5 1.8l0.5 -1.9M618.1 365l-2.6 2.1l2 -1.6M773.1 215.1l-1.9 1.5l1.3 1.6l-1.5 0.7M682.7 288.2l1.3 1.6l-3.4 -0.4M402.9 532.6l-1.7 0.3l-2.6 2.1M444.1 522.1l1.1 3.3M622.9 387.8l1.7 2.2M627.7 335.9l-0.2 -1.4M498.3 473.4l-0.9 -1.1l-2.1 -2.6M581.1 414l1.2 2.8l-1.3 1M676.1 315.5l2.9 1.7l-2.2 -1.7l-1.1 0.5M644.7 363l-2.1 -2.6l-1.9 1.5M428 499.2l1.7 2.1l1.5 1.8l-2.2 -0.1M640.2 368.5l-1.7 1.3M427.7 535.6l-2.4 1.9l1.4 -1.2M570.5 413.2l-1.4 -0.3l1 1.3l-1 0.8M434.8 488.1l-1.3 0.1M787.3 241.5l1.1 1.3l-1.5 0.3l1.8 -1.4M757 282l1.8 2.2M708.9 307.4l-2.1 -1.1l1.5 0.5l-1.4 1.1M614 348.5l2.1 -1.7l-1.6 -1.9M399.1 529.1l2.7 -2.2l-1.5 1.2M563.3 415.8l0.8 1l-0.7 3.1M564.3 399.7l2.6 -2.1M569.6 424.1l1.7 -1.4l1.9 -2.4M556.2 396l-1.7 1.4M671.5 322l1.5 0.1l1.3 1.7l1.6 2M619.7 355.2l-0.4 -2.6l-0.3 -2.4M596.7 403.2l0.9 1.2l2 2.5M793.5 226.1l-3.1 1.1l-2.2 1.8M442.4 514.1l1.3 -1l-2.2 1.8l-1.3 -1.7M405.8 529.6l-0 2.2M677.3 312l-2.4 1.9l-3.5 -0.3M626.9 338.6l-1.9 -0.5l-1.1 0.5l1.1 -0.9M380.4 546.2l-1.5 1.2l-1.4 -2.8M675.9 294.5l2.4 2.1l-1 0.8l-2.5 2M428.7 518.2l2.3 -1.8l2.5 -2l0.4 -2.1M620.1 376.7l1.6 -0.2l-0.5 2.6l1.4 -1.1M629.6 366l2.6 -2.1l-3.2 -0.3M483.9 478.8l-1.9 1.5M593.5 384.9l-2.1 -2.6l1 1.2l1 -0.8M418.9 515.6l2.1 2.7l1.9 2.4l1.9 -1.5M389.4 531.4l1.3 -1l-1.5 -1.9M528.2 455.3l1.3 -1.5l-3.2 -0.7l1.9 2.3M624.8 367.3l-2.5 2M434.8 539l-1.2 2.8l-0.5 -1.4M516.6 439.2l2.1 2.6M499.7 451.6l1.1 -0.9l-1.7 1.1l-3 -1.1M510 440.5l2.4 -1.9M691.1 316.7l-1.3 -0.2l-1.6 -1.9M391.5 534.5l-1 -1.2l2.8 -1.3l1 -0.8M729.6 301.1l1.3 2l-0 -2.4M534 432.9l0.1 1.2l-1.2 -1.5M792.2 199.8l-3.1 1l-2.5 -0.5M797.3 234.5l1.5 1.9l0.9 -1.8M535.5 461.2l-2.3 0.5l0.9 1.1l1.1 1.4M559.7 415.7l-2.1 -2.6l2.3 -0.2l-1.1 -1.3M389.3 541.8l-1.2 -2.1M429.9 503l-1.3 1.1M463.7 463l-1.8 -0.7l2 -1.6M571.2 402.1l-1.7 1.3l1.2 -1.1M777.7 256.1l-2.5 2l2.2 1.9M512.3 457.2l-1.6 3M707.7 312.4l-1.4 -0.9M742.3 241.5l2.7 -2.2l-2.6 2.1l-1.1 -1.3M467.3 491.3l-0.9 -1.1l2.5 -2M494.8 438.6l1.1 1.4l-1 -1.4M499.1 441.8l1.7 -2.4M553.6 403.2l-2.1 -2.6M750.7 258.3l1.3 1.7l-1.3 -0.4M758.3 228.3l-1.2 -1.6l1.7 -1.4M755 258.8l1.2 -1.4M774.2 222.2l-2.7 2.2M482.2 450.7l-1.1 -1.4l1.3 -1.1M377.6 544.2l-2 1.6l1.2 1.5M738 268.3l0.8 1.8M574.5 425.4l-1.1 0.9M756.9 231l-1.8 -2.3l-1.6 1.3l-0.6 2.3M781.9 215.2l-0.1 -1.7l1.8 -0M543.5 451.5l1.5 1.9l-0.8 1.5M421.6 522.4l1.4 1.8l1.9 -1.5l-1.4 0.9M649.9 343.2l1.6 -0.6l1.9 -2.8M766.5 261.1l3 -1.7l1.8 2.2M679.7 324.4l1.7 -1.9l-1.8 1.4M734.6 274.1l1.9 2.3M726.5 257.6l-2.1 -0.4M666.1 353.9l-2.5 2l-2.6 -0.3M699.9 327.3l0.4 -2.5l2.9 1.6l-2.3 1.8M767.9 237l-1.5 0l1.8 2.2l-1.2 -1.5M702.1 321l-1 0.8l-1.6 -2M479.5 456.5l2.5 -2M442 520.8l-2.1 1.2l-1.4 1.1l1.2 2.3M466.1 489.3l2.5 -2M589.1 413.2l-1.7 -2.1l-2.6 -0.7l2.2 -1.8M711.5 299.2l-1.2 1M526.9 458.1l0.9 -0.8l-2.5 2M510.1 443.3l-1.8 1.5M674.8 329.4l2.1 2.5M757.6 253.2l0.9 1.2M599.6 363.6l1.6 2l-2.1 1.7l0.6 1.2M499.6 444.7l-1.4 1.2l0.3 2.5M515.1 426.5l-1.3 1l1 1.2l3 -0.1M596.4 409.8l1.4 -1.1M576.5 411l2.1 -1.7l1.3 0.2M678.6 322l-2.3 1.8l-1.1 -1.4l-1.9 -0.8M632 383.7l-3.4 -0.8l2.8 -0.7l0.7 3.4M620.6 361l1.4 1.7M579.5 393.3l-1.4 1.1l-2.4 1.9l-2.2 1.8M500.5 434l-0.5 1.5l1.8 -1.5M569 432.8l-1.5 -1.8l1.6 2M505.8 446.5l0.9 -1.9l1.3 -0.9l1.3 -1.1M638.8 376.2l0.2 2.6l1.7 2.2l-2.2 -2.7M526.1 448.6l1.3 1.6l0.3 1.8M468.9 485.8l1.1 -0.9l-2.2 -2.7l2.4 -1.9M522.3 461.5l-0.9 1l2.2 2.3M762.4 261.6l1.5 2M576 398.5l-0.3 -2.1M460.2 513.4l-2.6 -1.8l0.7 1.1M443.3 486.4l2.2 2.5l-1 0.8l1.8 -0.7M554.5 403.7l2.5 -2l1.8 -1.5l-1.7 1.4M493.1 460.1l-1.3 1M559.6 437.8l2.3 -1.8M685.5 285.6l-0.9 -1.2l-1.6 -2l1.1 -0.9M380.9 534.9l1.1 1.4M721.1 282l2 -1.6M672.1 294.7l2.6 0.2M458.2 481.7l1.1 -0.9M622.1 369.4l-1.3 1M726.9 279.9l1.1 -0.9M467.2 504.8l1.3 1.6l-2 1.6l-2 -2.5M565 402.4l-2.1 1.7l2 -1.6l-0.8 -1M604.4 377.4l2.6 -2.1l1.1 1.4M536.7 449.8l-1.6 1.3M445.5 480.9l-2 1.6l-1.2 -1.5l1 1.2M682.3 319.6l0.9 1.1M489.6 478.2l-2.1 -2.6l-1.4 -1.8M508.2 481.2l-1.7 -2.1M506.8 441.7l-1.1 0.9M641.1 356.7l0.8 1l2 -1.6l2.2 -1.7M438.4 530.5l-0.4 3.4l2.1 2.7l-1 -1.3M629.1 383.5l-1.7 -1.4l1.7 -1l2.6 -2M759 236.8l-2.3 1.9M432.5 543.4l-2.2 1.8l1.4 -1.1l-1.8 1.4M489 472.6l-1 -1.2M721.4 272.2l-1.1 0.9M648.7 340.8l1.1 1.3l-2.2 1.8l-1.5 1.2M579.9 390.5l-2 1.8l1.1 1.4l2.1 -1.7M484 491.8l-0.9 -1.3l0.9 -1.6l2.4 -2M537.3 423.6l-1.9 -2.3M583.1 397.2l1.1 -0.9l-1.5 -1.9M770.8 260.9l1.6 -1.1M583.4 371.7l1.2 1.5l-2.2 2.6M484 499l0.1 2.9M685.8 323l-1.3 -1.6M611.1 393.1l1.5 -1.2l-1.8 1.5l2.3 0.2M618.3 349.6l1.4 2.1l1.4 -2.6M748.9 286.7l1 1.3l-2.5 2l-0.8 3.1M511.3 446l-2.3 0.9M579.3 423.8l2.7 -0l1 1.3M738.7 265.5l1.3 -1.7M705.5 323.3l-1.2 1l-0.9 -1.1l1.2 -1.6M699.6 316.9l-1.3 1l-1.7 -2.1M794.3 208.3l-1.9 1.5l-0.6 2.1l-1.4 -1.8M541.2 416.7l1.2 -1l0.3 3.2M771.1 260.4l-0.1 -2.3M707 271.2l-1.7 -2.1M720.1 304.3l2.1 2.6l0.9 -1.1M518.2 439.5l2.7 -2.2l0.1 1.3l-2 0.6M413.6 527.2l-1 -1.3M649.9 347.7l-1 -1.2l-1.4 1.1M635.9 373.6l3 0.8l0.8 1.1M713.5 264.4l1.5 1.8M523.9 443l2.4 -1.9M694 305.1l-1.9 1.5M678.8 291.1l-1.8 1.5l0.2 -1.3l2.5 -1.2M597.5 362.1l-2.2 -2.7M669.2 331.8l1.7 2.1l1.5 -1.6l-2.7 2.2M740.2 273.1l0.8 1.5l-0.7 -2.7M678.2 312.2l-2.5 -1.8l1.8 -0.4l2.6 -2.1M688.5 329.2l-1.4 -1.7l1.7 2.1l-1 0.8M642 348.9l0.2 1.4M675.9 314.8l0.8 1l-1.5 -1.9l0.3 -1.6M561.2 419.5l1.9 -1.5M644.5 346.7l-2.5 2l-1.9 -2.4l1.3 -1M555.2 405.8l1.3 1.6l-2 -2.5M520.5 454.3l-2.3 1.9l1.2 1.5M424.1 497.7l1.7 1.1M408.4 544.7l0.7 1.8l2.2 2.7l0.9 1.1M741.9 263.6l2.5 -1.6l2 -1.6l0.8 1.1M589.4 363.1l1.9 2.3l-2.3 1.9M453.8 474.4l2.1 -1.7l-0.2 -1.2l-2.5 -1M734 252l0.7 1.1M702.9 270l-1.3 1.1M395.2 542.6l1.3 -1.9M429.6 542l1.6 1.9M431 495.5l-0.7 1.5l-1.9 -2.3l-1.4 -0.1M647.7 327.7l-2.1 -2.6l1.2 -1l-0.2 1.5M358.6 547.1l2.1 1l-1.8 1.5l-1.8 1.5M786.2 223.3l2.3 -1.8M766.3 258.8l-2.3 -0.1l1.6 1.9M761.7 272.9l-1.4 1.1l-2.5 2M466.1 506.1l-1 -1.3l-1.2 -2.2l1.3 1.7M406.9 527.3l1.7 2.2l-2.1 1.7M480.4 473.6l-1.8 1.4l-1.7 1.4M749 278.1l-1.2 1.3M574.1 427.6l1.6 -1.3l0.9 -0.8l-1.3 -0.5M667.7 342.9l2.3 -1.6l2.2 -1.8l-1.4 2.1M390.8 539.4l1.7 -1.4l1.1 1.4l1.9 -1.6M473.8 496.9l-1.2 2.7l-1.8 -1.6M542.3 454.6l-1 -1.6l2.4 -2M709.8 270.9l-3.5 -0.1l-2.5 2l-1.4 -2.7M471.2 490.9l-1.5 1.2l1.4 -1.2M658.3 336.3l-2.6 2.1M600.4 370.4l1.5 -1.2l-1.4 -1M763.9 252.8l1.9 2.4M406.1 548.4l0.7 -1.1l-2.1 1.7l-1.1 0.9M455.4 521.2l1 -0.8l-2.3 1.8l1.1 1.3M542.4 455.4l2.6 1l-3.2 -0.3l-1.6 -2M473.2 484l1.4 1.8M437.7 512.1l-2.2 1.8l2 2.5l-2.2 1.7M535 421.1l1.8 -1.5M703.8 290.1l-1.8 1.5l2.1 2.7l2.4 -1.9M576.3 405.8l-1.3 -1.6l0.3 -3.2M416.7 521.1l1 -0.8M671.8 322.8l1.7 2.1l-1.5 1.2l0 -1.3M775.8 227.8l1.1 1.4l-3.3 -1M561.1 439.8l0.3 -2.6M455.2 513.9l1.2 -1l0.8 1l1.6 0.4M396.5 520.1l-1 -1.2l-1.4 -0.4l2.4 -1.9M692.6 323.8l2.2 -1.8l1.4 2.2l2.4 0.4M459.7 492.4l-2.2 1.8l-2.5 2M602.6 394.3l-2.7 2.1l-1.7 1.3M732.3 258.3l1.6 1.6l0.5 -2.3l-1.6 1.3M661.5 322.7l-1 0.8M678.1 332.7l1.6 2l1.6 2l-2.6 2.1M483.6 469l-1.5 1.2M592.7 362.5l2.2 -1.8l2 2.5M663.9 344.1l1.5 -1.2l1 1.3l0.8 1.8M532.7 448.6l1.1 -0.9M383.2 544l1.5 -1.2l1.3 -1l-0.9 -1.1M748 278.7l1.3 -1l-2.3 1.9l2.6 -2.1M633.8 339.9l1.2 1.5l-1.9 1.6M386.4 530.4l-2 1.6l1.8 2.3l1.4 -1.1M797 200.6l1.1 -0.9M757 228.1l1.6 2.2l-0.9 -1.1l1 1.3M469 504.7l3.1 -1l-2.1 1.7l-3 0.4M612.2 370.3l-0.8 -3.2l-1.7 1.4l-1.4 1M698.3 281.8l1.9 -0.6l1.5 1.9l-1.7 2.9M715.6 283l1.8 2.2l2.1 1.4M707.3 314.9l0.2 1.3l1.5 -0.8M628.9 357l-1.6 1.1l-1.8 1.5M676.8 301l-1.9 -2.4M554.1 436.3l-1.5 -1.8l-1.9 1.6l1.9 -1.5M547.8 410.1l-2.7 2.2l-2.3 1.9M499 482.2l1 1.3M731.8 249.2l-1.7 1.4l-1.6 -0.8M391.1 536.9l1 -2.7M565.9 419.7l1.2 1.5M597.1 372.8l-2.6 2.1l0.6 1.3l-1 0.8M649.5 368.3l-1.6 1.3l1.2 -0.5M682.6 340.1l-1.4 1.1l-1.3 1.1l1.7 -1.4M459.6 480.5l1.1 -2.4l-1.4 -1.7M443.6 497.5l2.5 -2M424.4 503.7l2.3 -1.9l2.2 -1.8M571.4 382.9l1.6 2.2l1.9 -1.5M543.8 446.7l0 1.5M460.1 474.7l-1.4 -1.8l3.1 1.4l1.7 2.1M766.1 255.4l2.1 1.8M747.7 251.8l0.1 -3l1.3 1.6M501.4 473.4l-2.2 1.8M531.2 446.7l-1.3 -1.6M533.7 449.8l-2.1 0.4l1.5 -1.2M703.1 293l0.7 -1.7M471.4 467.7l-1.5 1.2l2.6 -2.1M573 389.7l1.5 -1.2l2.5 1.5l-1.7 -2.1M759.5 237.2l1.6 2l-1.4 -1.7l-2.7 2.2M689.4 316.3l-1.2 -1.5M562 387.1l2 -0.2M388.7 535.4l-2 -1.2M615.3 397l-1 0.8l1.8 -1.4l2 -0.4M650.4 319.4l-1.2 1l1.2 -1l-2.3 1.9M733.6 263.3l-1.5 1.2M513.4 440.9l-1.6 1.3l1.6 2M766.8 241.1l-1.8 2.2l1.3 1.6M500.7 450.1l-1.2 1M795.6 195.9l-2.4 1.9l-1.8 1.5M708.4 274.4l-1.5 -1.8l-2.7 0.4M622.4 346.4l1.7 2.1l-1.6 1.3l-2 -2.5M795.2 199l-1.1 -1.3l-2.5 1.4l1.1 -1M692.9 290.1l0.5 -2.2l-1.9 -2.4M665.6 355.4l-1.4 1.1M489.6 480.1l-2.7 -1.6l2.3 -1.8M603.9 386.2l-1.6 1.3l-1.9 2.2l-1.4 -1.7M400.8 524.5l0.3 -1.3l-0.8 2.4l-2.2 2M578.8 382l-0.9 -1.2l2.9 -0.4M725.1 292l-1 -1.3l2.8 -0.2M652.4 321.5l-2 -2.4l-1.7 -2.2l-0.9 -0.8M550.8 443.9l2 -1.6l1.3 1.7M568.9 389.7l1.4 -1.1M480.7 466.6l-1.2 1l1.1 -0.9l-1.2 -1.5M691.9 286.1l-1.5 1.2M409.9 528.8l2.4 -2.3M492.4 467.9l0.9 -3.4l-2 -2.5M505.3 453.4l2.5 -2.1l2.1 -1.7M634.9 368.6l0.2 2.6M665.5 347.9l-1.3 1.1l3.2 -1.2M485.7 497.6l-1 -1.3l0.9 1.1l-2.9 -0.4M619.1 347.9l-0.4 -2.3l-2.3 1.8l1.8 -0.3M789 252.6l2.5 -2l0 -3.4l1.8 1.3M635.7 335.5l1.3 -0.6l-1.4 0.5l0.8 -1.1M439.6 492.3l1.1 -0.9M713.8 296.4l1 -0.8l1.7 2.2l1.4 -0.2M487.8 462.2l-0.8 -1l2 0.1l3.1 -0M734.1 251.1l2.5 -2l2.1 2.6l3 -0.8M603.9 355.9l-2 -2.5l-2 -2.5M606.4 400.9l1.5 -1.2M683.4 310.1l2.3 -1.8M559.5 440.6l-0.7 2.5l2.2 -1.7M485.2 492.5l-1.1 0.9l-2.4 2.4M691.8 320.1l-2.6 2l-1.3 1l-0.8 1.7M517.9 430.6l-2.5 2l-2.1 -2.6l2.5 -2M798.9 208.2l2.8 1.9l-0.5 1.5l-2.6 2.1M634.5 350.7l-0.3 -1.9M635 378.3l1.8 2.3M791 200.5l-0.8 1.2l1.1 -1.8M712.9 287.1l1.5 -0.2l2 2.5l-1.9 2.2M716.6 284.7l1.6 -0M681.2 343.2l2.1 -0.9l-2.2 1.8M529.9 416.2l1 1.2M613.6 372.6l2.2 -1.8l1 1.2M435.8 520.4l-1.5 -1.4l-0.9 -1.9l1.9 2.4M633.7 355.3l-2.5 -2.4l-2.5 1.7M581.3 391.7l-2.3 1.8l-1.2 1M604.9 391.5l1.3 -1l-2.5 0.2l-1.6 -1.3M713.9 276.5l1.6 1.9M540.3 419.9l-2.2 1.8l2.4 -1.9M512.6 458l-1.2 0.3l2 1.4l-2 1.6M534 414.2l2.2 -1.7l0.6 -1.7l-0.7 1.7M728.4 270.3l-1.5 1.2l-1.2 0.9M587.8 370.5l-1.3 1M541.7 444.9l-2.7 0.5l-3.2 -1.1l1.6 -1.3M528.9 448.1l-2.7 2M468.1 477.4l-1.9 1.5l-2.7 -1.8l-1.3 -1.7M638.4 375.8l2.6 -2.1l1.7 -1.3M439.3 494.1l1 1.2M789.9 242.4l1.8 -1.4l1.4 -1.2M714.3 275.5l-1.8 1.5l-2.6 2.1l1.8 -1.4M434.4 535.7l1.4 -1.1M544 433.3l1.5 -1.2l-0.8 -1.1l1.3 1.6M790.1 208.6l-1.5 -2.3l-1.5 -1.8M562.3 386.8l-1.3 1l-2.4 1.5M467.9 499.8l2.1 -0.8l-0.8 -1M791.9 244.1l-1.5 -1.8l1.3 1.7l1 -0.8M622 350.3l-2.7 1.1l0.2 -2.2M788.6 220.3l-0.1 2.5M511.1 449.4l1.9 2.3l-1.3 1.1l1.4 1.7M671.6 301.2l2.1 -1.7l-1.9 1.5M526.6 431.2l-1.4 2.4l-1.4 -1.8l-2.5 1.2M572.7 431.2l-1.8 1.5l1.2 1.5M755.6 259.6l1.2 -0.9l-1.9 -0.3l0.3 -1.9M688.5 329.2l1 -0.8l-3 1.3l1.8 -1.5M759.8 257.8l-1.7 1.4l-1.7 1.3M487.3 481.7l1.7 -1.3l-1.4 -1.7M492.2 492.2l1.1 0.4l1.2 1.5l2.3 -1.8M471 462.1l-0.8 -1.5l-1.8 0.4M423.3 537.8l-1.7 -1.9l1.6 2l-1.9 1.5M730.2 281.8l0.9 1.1l-0.8 -1l-0.9 -1.2M486.4 444.8l1.6 0.4l-1.9 -0l1 -0.8M773.2 244.1l-2.4 1.5M576.1 412.6l1.8 2.2M394 525.3l1.7 -1.4l-0.1 -1.7l2.2 -1.7M395.5 532.3l-1.9 -2.8l-1.9 -2.4M619.2 362.9l2.3 1.9l1.9 0.6l-0.6 -2.9M486.3 475.1l-1 -1.2l-0.7 2.9l0.6 2.1M549.5 428.9l-2.2 1.8l-0.9 1.8M680.6 308.8l-1.2 1l0.9 -2.2M594.2 371.2l-1.9 1.5l1.7 -1.3M634.4 340l-1.9 -2.4M710.5 271l2.7 -2.2l-2.1 1.7M555.9 435.4l-1.8 -1l-2.5 2l1.6 -1.3M564.9 407.2l1.3 -1l-1.6 -2M604.2 404.3l-1.7 1.3M509.4 437.7l-0 -2.9l-2.4 0.1l1.6 2M708 304.2l-2.3 1.9M474.6 483.6l1 -0.8M498.5 481.2l2.3 -1.8M429.9 537.4l-0.3 -2.1l1.3 1.6M541.9 412.4l1.1 1.3l-2.2 -2.7M446.8 517.6l2.5 -2l-1.3 2.6l-1.1 0.9M583.7 395.9l1.8 -1.5M543.6 410l-1.3 -1.7l-1.3 1.1l-1.6 1.3M521.4 446.6l-0.5 -1.3M469 481.7l-1.3 1M665.7 330.7l-1.3 1.1l1.7 -1.4M433.1 532.5l1.4 1.7l-2 1.6l-1.3 -1.6M765.4 242.9l1.9 2.3M500.6 446.5l1.8 -1.4l1.6 -2.9l1.4 1.7M421 533l0.9 -1.6M793.3 204.9l-0.2 1.6l1.5 1.8M432.1 502.4l-1.4 1.1l2 2.5l-0.8 -2.2M532.5 433.1l-1.7 2.3l-2 1.6l2.6 -2.1M595.9 358.2l-0.4 -2M596.3 407.4l0.4 -3.2l1.3 -0.6M643.1 365l-1.5 -1.1l-1.3 0.7l-1.5 2.1M687.1 314.6l0.3 2.4l0.5 1.2l2 2.5M494.2 468.4l-2 -2.5M409 540.2l1.6 -1.3l-2.2 1.8l-1.7 -2.1M482 487l-2 0.1l-1.8 1.4l-1.9 2.1M504.9 460.5l-2.3 1.8l2.6 1.6l1.1 1.3M501.6 486.3l-2.6 2.1M712.6 314l1.1 1.4l1.6 -0.9M436.8 506.1l-1.1 1.7l-1.1 -1.4l0.6 -1.7M617.7 355.5l-1.5 -1.9M486.2 497.5l-0.6 2.3l2.3 -1.8M493 444.4l-1 -1.3l2 -2.7l-1.9 -1.6M777.3 220.2l0.8 1l-1.9 1.5M520.3 447.7l2.3 -1.8l0.7 1.8M769.8 234.8l0.4 -3l-0.2 1.7M600.7 373.4l-2.2 -2.7M737.2 260.2l-2.1 1.8l2.2 -1.8M583.6 369.7l-1.2 1M727.6 278.2l-1.9 1.6l-1.9 -2.4l1 1.1M598.9 358.3l-1.1 -1.4M648.7 337.8l-2.2 1.7l1 1.2M522 453.2l-1.1 0.9l-0.8 -1M498.7 473.7l2.7 -2.2M441.2 499l1.4 -1.1l-1.1 0.9l1.7 -1.3M710.6 309.9l0.8 1l-1.4 1.2l-2.6 1.2M507.3 462.8l1.7 2.1l-2.5 0.3M587.6 400.3l-1.1 1.3l0.3 2.7l-2.6 2.1M797.7 203.2l1.1 1.4M686.5 293.9l1 -0.8M674.6 315.9l0.9 1l-1.9 -2.4l-1.8 -2.2M504.7 459.2l1.9 2.3l-1.5 1.2l-1.9 -2.3M517 420.6l1.3 1.6M532.4 434.3l-1 0.8M452.6 472.9l0.2 -2.7l1.5 1.9l-1.3 1M644.2 337.1l-1 3M582 416.7l1 -0.8M585.9 382.1l-2.1 -2.6l-1.5 -1.8M387.5 539.3l2.4 -0.1l1.5 0.7M658.1 322.5l-1.9 -2.4l-1.5 -1.8l-1.4 1.1M776.1 228.5l0.3 -1.7M429.9 517.2l-2.4 1.9M716.7 309.6l-0.9 -1.5l-1.4 -1.7l-1.3 1.1M725.4 276.4l1.1 -2.9M736.5 284.7l-0 -3.2M492.2 453l-1.2 -1.4l0.7 1.7M745.2 270.1l-0.9 -2.5l-1.4 -1.8M584.4 370l-1.7 -2.2l0.4 3M665.1 351.2l1.4 1.7l2.4 0.3M773.9 233.9l-1.5 -0.9M523.6 465.7l-1.1 0.9l-1.2 1l-1.8 -2M786.8 245.8l-1.6 -2l-1.6 -2M679.7 306.1l-0 2.6M537.9 437l-3.3 0.9l1.6 -1.3l1.8 -1.4M613.3 370.5l-2.3 1.5l1.6 -1.3M656.4 340.9l-2.1 -2.6l-2.7 0.7M641.5 342.2l-0.9 -1.1l-2 1.6M578.5 405l1.7 -0.4M603.2 370.5l-1.5 1.2l-2.5 2M556 395.4l-2.1 1.7l-0.2 3.3l1.1 0.9M674.3 302.7l1.2 1.5l-2 -2.5l-2.3 -1.7M390.7 527.9l1.8 -1.4M515.2 440.7l1.5 -1.2M752 268.8l-2.1 -2.6M508.6 473.4l2.2 -1.8l0.6 -2.4l-1.7 2.6M782.9 205.4l-0.9 -1.1M684.7 340.8l2.3 -1.9l-2.1 1.4M692.7 291.2l-1.2 1l2.1 0.4M645.9 323.5l-0.5 2.3M410 519.4l-2 1.6l-1.2 -1.4M434.4 509.9l2.2 -2.5l-1.6 1.3l0.1 1.2M552.5 420l-2.1 -0.2l-1.6 1.3l-1.8 0M488 468.2l2.5 -2M661.3 305.2l-1.5 0.7l2.2 1.4l0.6 -2.3M712.7 300.6l1.2 -1M787.8 206.9l-1.1 -1.1l-2.7 -1.1M766.4 222.1l-0.9 -1.1l-1.4 -2.4M415.6 533.6l2.3 -1.8l-1.8 1.4M732.6 250l2.5 -2M509.6 462.6l-1.6 -0.9l-1.5 0.9M691.7 292.5l1 1.2l1.1 1.4M591.9 415.2l1.1 -0.9M632.7 359l-2.3 2.6l2.9 1.5l2.5 -2.1M697.9 328.5l-2.2 -0.8l-2.2 -2.7M649 363.4l-1.8 -2.3l2 2.4M568.1 379l1.5 1.8l0.4 -1.4M410.7 529l-2.3 2.7M560.5 424l-1.2 0.6l1.2 -1M509.5 453.9l1.2 1.5M764.7 253.6l1.6 2M389.3 522.6l1.7 -1.3l2.6 -2.1l-2.6 0.9M624.9 351.5l2.2 -1.7l-2.5 2M602.4 387.4l-1.1 0.9l0.2 -2.5M670.5 349.9l1.8 2.3M471.9 496.1l-0.7 -2.3l2.6 -2.1l-1.5 -1.9M738.4 297l2 -1.6M703.7 320.8l3.3 0.7l2.4 -1.9l-0.9 -1.1M445.5 498.1l1.2 -0.9l1.4 1.7M533 417.4l1.4 1.7l-1.9 1.6M556.7 437.2l-2.9 -1.3M599 394.2l-0.5 -3.2l0.6 1.6l-1.8 -2.3M770.1 253.1l1.4 -1.2M790 239.4l0.2 -3.1l-1.5 1.2l1 -0.8M707.6 316.9l-2.3 1.9l-2.3 1.9M448.4 499l-2.1 1.7M621.3 379.5l2.9 -1.7M700 275.4l2.2 0.4l2.6 -2.1l1.3 0.5M440.4 483.7l0.9 1.2M747.5 275.8l1.5 1.8l1.4 -1.1l1.5 -1.2M708.3 306.3l-1.5 1.2l0.8 3M680.2 298.4l2.6 -2.1l1.3 1.7l2.1 -1.7M617.3 383.7l3 -0.5M424.8 514.3l-1 1.7M645.4 330.5l-1.2 -0.9l-0.4 -1.4l2.1 2.6M450.1 501.5l-1.8 -2.2M672 313.5l0.4 2.2l1.7 2.1M722.4 262l2 -2.3M680 332.5l1.6 2l-1.8 -0.7l-1.6 -1.9M749.4 247.6l2.4 -2l1.3 -1l-3.1 0.1M624.9 352.8l1.1 -0.9l1.6 -1.3l1.9 -1.5M503.2 486.8l2.6 -2.1M642.6 337l-1.5 -1.8M673.7 332.8l-2.4 1.9M583.7 380l-1.5 -1.9l1.6 2M783.9 224.6l-0.4 -2.2M686.5 305.1l1.9 2.4l-1.5 0.8M545.4 438.8l-1.4 -1.8M746.3 251.9l-1.5 1.2M452.9 512.8l0.2 -1.4M695.5 310.4l-1.4 1.1M735.7 276.9l2.2 2.7l-2.5 2l-0.2 -1.6M452.5 485.3l1.4 -1.1M527.2 416.5l-2.1 -2.7M420 518l0.5 1.7l-1.4 1.1M478.1 483.2l2 2.5l-1.5 -1.9l-3.2 -1M766.4 256l-1.9 1.5l-1.7 1.4l1.7 -1.4M462.3 476.7l-1 0.8l1.4 0M665.6 351.2l1.6 -1.3l-0.2 -2.8l-2.7 2.1M568.5 396.2l1.4 1.7M396.4 530.6l-1.2 -1.5l1.3 -2.8M483 453.4l-1.3 -1.9l-3.4 0.1M635.8 371.8l-1.2 -1.4l1.8 -1.4M630.8 368.2l-0.6 1.2l-1.7 1.4l-1.7 1.4M603.7 381.8l1.7 -1.4M499.1 470.9l-2.6 2.2M741.9 276.1l-1 -1.3l2.6 -2.1M428.1 501.2l2.3 -0.6l0.2 2.4l-2.6 2.1M663.6 315l-1.7 1.4l1 -0.8M432.4 502.1l-1.7 -1.5l-1.2 -1.5M635.3 354l1.2 -1l1.3 1.7M432.9 516.1l-2.5 -1.5l-1.4 1.1l-0.9 1M467.9 463.6l2 -1.6M775.1 259.7l1.3 -1M479.5 488.9l-1.2 -0.3l0.3 3.2M415.7 516.3l-2.6 2.1l-1.7 1.4l2 2.5M713.6 292.2l0.9 2.5M602.4 402.9l-1.3 -1.6l-0.8 -2.1l-1.4 -1.7M679 320.3l-1.1 -1.4l1.3 -1l0.8 -1.6M475 505.2l0.9 1.1M544.8 412.3l-0.8 -1.7l1.3 1.7M495.5 493l1.8 2.6M452.1 477.2l1.1 -0.5M583.1 398.5l3.1 0.7l-1.5 -2.6M686.2 331.3l1.7 1.2l-1.5 1.2l3.2 1M423 519l-2.4 1.9l-2.1 -2.6l1.6 1.9M744.6 290.7l1.4 -1.1l-1.9 1.5M476.1 469.8l-2.1 2.8M741.1 242.6l-1 1.6M793.1 230.3l1.6 -1.3l1.1 -0.9l2.6 -2.1M428.6 537l1.9 -1.6M498.1 490.3l1.3 -1M724.4 256.3l-1.6 -2M590.2 379.6l1.5 1.8M493.6 488.1l-1.9 1.5l1.3 -1.8M735.6 275l-0.2 -2l1.4 0.3l1.3 1.6M480.4 449.5l0.8 1l-1.5 1.2l-1.5 1.2M428.9 518.8l-2.9 -0.1l1.1 0.9l-1.4 1.1M680.3 341.4l-1.2 1l-2.4 1.9M467.7 500.2l-1.7 -2.2l-2.7 -1l-2.4 2.2M423 518.2l-0.8 -1l1.2 1.5M653.3 362.3l-1.8 1.4l0.6 2.6M419.8 540.7l-1.5 1.2l1 1l-1.2 0.9M681.4 287.8l-1.7 1.2l2.4 -1.9M647.4 341l2.2 0.7l2.6 -2.1M770.3 218.1l0.2 1.3l-1.7 1.4l1.1 1.4M769.1 256.9l-1.6 -2l-1.8 -1.6M441.3 506.6l-2.5 2M734 258.6l2.1 -1.6l-0.8 1.8M672 303.5l0.8 -2.6l2.2 2.7l-0.3 -1.8M513 443l2.7 -2.2M598.8 360.6l-0.2 2.5l1.2 -1M697.6 328.8l-1.2 1l-1.4 1.1M513.5 443.7l-1.4 1.1l-1.3 1.1M795 213.5l-0.8 -1l-2.6 1.9M774 265.9l-1.2 2.3M622.9 384.9l-0.2 2.8l2.5 -2l2 -1.6M591.5 383.2l-2.6 2.1l-1.2 -0.7M765.3 227.2l-2.4 0.3l-1.6 1.3l-1.1 0.9M626.9 365l-2.5 0.9M497.3 459.7l-1.6 1.2l-1.9 1.5l1.8 -1.4M756.5 282.9l-1.8 -2.2l-1.1 0.9l1.5 -1.2M702.8 313.6l-0.9 -1.1M466.1 492.3l-1.6 -1.2M675.3 323l-1 2.4M457.4 522.6l-0.7 2.1M672.4 315.4l2.8 2.1l-1.5 1.2M391.1 536.8l-1.7 -2.1M476.1 505.8l1.4 -1.1l2.4 -0.2l1.4 0.2M698.6 318.4l-2.3 2.5l1.8 2.2M555.2 444.4l1 1.3M720.6 273.3l1 1.2M358.9 548.3l3.3 -0.7M480.2 487.8l3.3 0.5M668.9 353l2.3 -1.9l-0.8 -1M583.3 368.4l3 -0.2l1.7 -1.4l-2.4 0.6M500.5 433.2l1.1 1.4M582.8 374.2l0.2 2.1l1.2 1.5l-1.9 1.5M662.4 322.3l-2.7 1.4l2.4 0.3M793.7 241.3l1.2 1.5M662.4 318l1.6 -0.9l-0.9 -1.1M704.8 287l-0.4 1.5l2 2.4l-2 1M553.5 434.6l-1.8 -2.2M770 223.1l-1.4 -1.7M486.4 498.5l-2.5 2M607 383.2l-1.3 -2l2.1 -1.7l-1.9 -2.7M518.4 463.5l1.8 -1.5M568.5 417.3l0 -2.4l1.7 -1.3l-1.7 -0.3M476.9 472.4l-1.9 0.8M424.4 537.4l1.1 -0.9M627 387l1.8 2.3l0.2 2.4M650.3 354.2l-1.6 -2l2.7 0.4l-0.3 -1.3M460.4 509.4l-1.9 0.3M437 519.8l1.2 -1M696.9 305.7l1.8 2.2l-1.1 0.9M566.1 409l-2.2 0.2l-1.8 -1.2l-0.9 -1.7M455.9 474.1l0.9 2.4l1.6 -0.3l0.4 1.2M758 241.6l1.9 -0.3M611 362.2l0.2 1.4l-2.6 2.1M597.1 391.7l-1.9 1.5l-2.7 2.1M539.9 421.8l-2.1 1.7l-1.5 1.2M558.8 434l-3 -0.4l0.7 -2.1l1.5 2M726.9 281.7l-0.2 -1.7l2.4 -1.9M613.6 369.2l1.5 0.6l-0.3 3.3M702.9 319.9l-1.8 1.5l1.3 0.4M690.5 315.9l1.4 -1.1M622.4 354.4l-2.7 -0.7l1.3 1.7l-1.4 -2.7M780.2 218.8l-1.6 1.3l0.5 1.3l2.2 -0.9M770.1 224.2l-1.1 0.7l1.1 2.1l1 -0.8M567.3 393l-0.4 1.4l1 -0.8l1.4 1.7M794.7 198.7l-0.2 -3.1l-2 -2.5l-2.4 1.9M699.6 299.2l-1.2 -1.5M721.1 296.2l1.1 -0.9M596.4 360.4l0.2 -1.7l1.8 2.2M570 386.8l-2 1.6l-2.2 1.8M613.1 372.3l2.7 -2.1M762.1 271.7l2.8 -1.2l-1.7 1.4M407.3 535.5l-1.6 -1.1M779.9 244.6l2.6 0.6l-1.7 1.4M574.8 388.2l-0.6 1.1l-1.2 -1.3M445.7 517.2l1.5 -1.2M603.2 380.4l2.1 2.7l0.9 1.1M397.2 546.4l1.7 2.1l-1.8 -1.1l-1.4 1.1M533.3 428.9l2.6 0.6l1.5 -1.2M715.9 287.9l-2.6 2.1M709.5 284.7l2 -1.6l-1.9 1.5M755.6 260.9l0.3 -1.4M552.7 424.1l1 -0.8M452.7 506.1l1.3 1.6M460.5 500.5l2.6 1.8l2.9 0.8M569.4 407l1.5 -1.2l2 2.5l-1.9 -2.3M508.6 454.9l1.2 -1l0 1.6M377.6 539.5l-0.4 -2.7l-1 -1l1.6 2M487 454.4l0.9 1.1l2.1 -1.7l-1.8 -2.2M390 522.6l-0.2 -2.8l-1.8 1.3l-2.6 2.1M449.8 495.2l-1.8 1.5l1.7 -1.4l2.6 1M406.8 512l-1.9 -2.3l1.1 -0.9M584.8 375.3l-2.2 -1.4l1.1 1.5l-1.1 0.9M626.3 357.8l3.3 0.5l-2.5 -1.3l1.5 1.8M452.7 523.9l-1.3 1M569.1 430.2l1.5 -1.2M481.9 453.5l-2.3 1.2l2 2.4M628.2 353.6l-1 0.8l1.8 0.8l-0.8 1.4M524.4 438l-2.6 0.6l1.3 -1.7M450.9 510.6l2.5 -1.4l-1.5 -1.9M765.5 226.6l-1.1 -1.4l-1.5 -1.8M422 499.6l1.9 2.4l2.4 2l-2.7 0.4M553.6 426.6l-2.6 -0.2M558.6 430.8l1.8 -1.5M589.8 405.8l0.9 1.2l1.5 -2.5M430 521.3l-2.6 2.1l1.6 -1.3l2.7 -0.7M462.5 495.9l2.1 -1.7l-2.3 1.9l1.4 1.7M575.4 423.6l-2.5 2l-1.5 1.2l0.9 1.1M776.6 265.7l-2.1 -2.6M627.5 337.1l-1 -1.2l-1.2 1M584.3 375.6l1.1 -0.9M667.6 311.9l1.2 2.9M525.6 457.7l1.3 -1l1.5 -1.2l-2.5 2M754.3 249.9l1.9 -1.6l0.5 -2.2l-1.9 -1.1M633.4 326l-1.7 -2.1M723.6 289.3l1 -0.8M715.4 283.6l-1.4 -1.5l-2.1 -0.6l-1.5 0.6M410.3 508.3l-1.7 -2.2l-1.7 -2.1M675.5 310.5l-2.4 0.6M615.9 352.1l-0.9 -1.1l1.6 -1.3l2.6 -2.1M438.7 500.9l1.1 1.4M596.3 401.8l-1.5 1.2M670.9 331.1l-2 -2.5M751.9 284.2l2 2.4M548.2 448.1l-1.1 0.9M641.4 320.1l-1.2 -0.3l0.4 -1.2l-1.3 -0.7M648.5 325.6l-1.2 -1.5M740 266.3l-1.5 1.2l1.9 -1.6l2.1 2.6M482.3 471.7l2.5 0.5l1.7 -1.3l-1 0.8M702.7 324.8l-2.5 2M497.6 465.4l-1.3 -1.1M753.2 283.3l-2.4 1.9l1.1 1.4l-2 1.6M415.8 507.2l-0.8 -2.5l-2.6 -0.5l-0.9 -2.2M393.8 544.6l-1.9 2.5l1.5 1.9l2.1 2.6M769.8 226.7l2.1 2.6l-2.1 1.7M564.1 405.8l1.6 -1.3l-1.6 -2M486.4 449.9l2.7 -2.2M468.3 461.8l2 2.4l1.1 1.4M654.8 333.8l-1.6 -1.2M578.5 397.3l1.8 -1.4l2.1 -1.2l1.9 1.8M783.7 217.4l-1.6 -0.2l-2.5 -0.4l-2.3 0.4M620.7 352.8l0.8 1.3M680.1 327.1l-1.6 -2M782.4 209.7l3.3 -1M529.4 445.2l-0.3 2.8l1.7 -0.4l0.8 -3.2M686 307.4l-1.4 -1.7l-2.4 -2.5l-1.6 1.3M756.2 231.3l1.6 -1.3M644.9 368.8l1.8 -1.5l2.5 -2l1.2 3M538.5 451.9l1.8 2.3M719.7 275.5l-2.5 2l-2.4 1.9M640.6 335.1l-0.1 1.4l-1 -1.3M535 446.5l1.4 1.7l2.1 2.6l0.8 3.3M440.8 501.6l-1.6 1.3M761 263.9l1.3 0l-1.1 1.9l-2.2 1.8M598.4 362.3l1.4 1.7M589.9 394.6l-0.9 -1.1M530.6 460.6l-2.1 1.7M472.5 474.9l-1.2 1l1.3 1.6l1.5 1.8M394.3 536.5l1.7 -1.4l-1 0.8l1.2 -1M763.2 271.1l1.4 0.7M669.4 309.2l2.1 -0.8l-2.4 -2.2M518.6 457l1.6 2M540.9 411.8l-1.2 -1.5l-2.3 -0.7l-1.8 -2.2M398.4 519.5l-0.1 3.4M565.4 401l-0.7 2M779 265.3l1.9 2.3M613.7 363.9l-2.6 0.9l2.2 -1.8l2.9 1.2M586.7 394.9l-2 1.6M569 421.7l1.7 2.1l0.3 2.5l-0.4 -1.2M723.8 298.5l1 -0.8M762.6 224.8l1.4 1.7M516.5 423.8l-1.9 1.6M627.5 343.8l-1.7 1.3l-1.2 -1.4M508.6 467.9l-1.5 1l1.5 -1M526.9 453.2l1.1 0.8l2.3 0.8M468.2 512l1.3 1.7M693.4 314.2l-0.1 1.3l-1.8 1.4M541 433.1l1.3 -1.1l-2.2 -2.7M407.1 511.5l-1.7 1.4l1.4 -1.1M749.9 270.1l2.2 2.7l0.4 -1.3M634.2 355.1l-1.5 1.2l-0.8 -1M550 448.3l-2.7 2.1l2 -1.6l2.2 -1.8M539 443.5l-1.4 1.1M678 297.6l1.7 1.7l-2.1 1.7M696.4 292.6l3.1 0.2l-1.9 1.5l-0.7 1.4M592.5 373.5l2.5 -2.1M473.3 507.7l-1.5 1.2M760.6 276.1l1.5 1.9M383.4 543.5l1.9 2.4l1.3 1.6M404.1 529l-2.3 1.9l2.2 -1.8M700.4 312.3l3.1 -0.1l2.9 1.8l-1.7 1.3M365.7 545.6l-1.5 -1.9l1.3 1.6M534.2 415.2l1 -0.8l-1.4 0.1M421 516.3l-2.2 1.8M620.3 347.7l-2.6 -0.2M730.6 247.3l1.3 -1.7l-1.7 1.4M503 486.9l-1.8 -2.3l-2.7 2.1M699 327.9l2 2.5l2 -1.6M481.5 456.2l2 2.5M722.1 293.4l1.7 -1.4l2.3 -1.8M505.5 451l2.6 -0.8M537.9 456.8l-0.5 2l-1.9 1.5M672.9 350.5l2.5 -2l2.2 1.2M473.9 481.8l-1.6 -2M571 412.9l-0.8 -2.2l-1.3 -1.6l1.4 -0M577.2 382.7l0.1 3.1l2.1 -0.5M456.9 521.6l-1 0.8M695.7 328.2l2 -1.6l1.8 2.2l-1.3 -1.1M533.5 445.8l-1.2 0.8M582.1 416.6l-2.3 1.8l2.4 -1.9l0.9 -0.8M647.9 323.7l-2.4 1.9l-2.2 -0.9l-1.9 1.5M643.2 358.3l-1.8 1.5M536.9 414.6l1.4 1.8l-0.9 3.1M387.7 528.3l2.3 1.5l0.6 2.4l-0.9 1M410.3 532.9l-1.2 2.4l1.4 -1.1l1.2 1.5M576.1 423.5l-1 0.8l-2.3 1.8M736.2 283.5l1.4 -1.2l-1.4 -1.6M413.3 508.1l1.3 -1.1l1.1 -0.9l1.1 1.4M607.2 383.2l-2.2 1.8l1.4 -2M483 497.2l-1.8 -1.2l-1.3 -2M633.7 341.6l-2.5 2M777.9 237.2l-1.4 1.1l2.3 -0.5M579.7 403.6l1.6 -0.7M769.8 225.5l-1.3 1l-1.5 -1.8M532.8 427.4l-1.3 0.3M597 369.2l1.3 -1.1l2.4 -1.9M508.6 445.9l-0.4 -2.3l-0.8 2.2M486.9 458.7l-1.2 2.1l-1.3 -2.5l-1.8 1.6M740.6 244.6l-1.6 -2M479.9 470.1l-2.4 1.9l-2.3 1.8M409 544.4l2.1 -1.7M470 490.8l3.3 -1M713.3 263.3l1.3 1.6l-1.9 -1.6M581.9 415.9l-1.9 1.8M550.9 416l2 2.4l-2.5 2.1M737.8 288.4l-0.9 -1.1l-1.8 1M749.7 283.2l-0.4 -2.9l0.4 -1.4l-2.6 2.1M394.5 536.5l-1.8 1.5l1 1.2M736.6 268l-1.4 1.2l-2.6 2.1M396.7 538.7l0.3 -3.1l1 -0.8M591.7 359.2l2.6 -2.1l-3.1 0.3l-1.7 -2.4M606 398.9l-1.6 -2M621.4 382.3l1 -2.2M698.8 323.6l-1.9 -2.3l-0.4 2.3M421.7 544.7l-3.4 -0.7l-1.7 1.4l3 0.3M602.4 400.1l-1.4 2.7M713.2 266.5l1.7 -1.4l1.2 0.3M449.1 491.2l0.9 1.1l2.3 -1.6M778.3 240.1l-0.8 2l-1.5 -1.9M610.7 364.1l-1.9 -2.4l2.3 0.8l-1.3 1M728.3 251.4l1 1.2l-1.1 0.9l-2 -0.6M659.2 318.5l-0.2 2.7M544.6 441.5l0.8 2.3l1.4 -1.1M466.2 480.2l-1.7 -2.1M441 529.8l1.5 -1.2l2.2 -1.8l-1.4 1.1M677.5 341.9l2.6 0.2l1.5 -1.2M548.4 401.8l1.1 1.3M527.1 448.2l0.9 1.1M522 456.8l1.3 -1.7l-2.7 1.8M440.4 488.4l2.2 2.7l-2.5 0.4M749.5 282.1l1 -0.8M647.1 318.7l-1.7 1.4l-1.3 1.2M615.6 365.3l1.3 1.6M499.5 453.6l1.9 2.3l2.1 -1.7M648.4 318.4l2.9 -0.7l1.9 -1.5l0.3 3.5M436.7 496.1l-1.1 0.9M710.4 296.7l0.8 1l2.7 -2.2l-2.4 1.9M571.5 432.3l2.2 -1.8l-3.3 -0.5l-0.3 -2M646.8 350l1.6 -1.8l2.3 -1.8l-1.1 0.9M702.5 274.7l2.1 -1.7l1.2 -0.9l-1.9 -2.4M463 507.1l-0.5 1.3l2.7 -2.2M720.7 282.7l1.7 1l1.4 1M765.3 232.2l0.9 1.2l2.4 0.5M704.1 317.4l-1.7 -2.1l1.5 -1.2l1.9 2.4M466.2 503.3l0.9 1l-2.3 1.9M458.5 523.4l2 -1.6l-0.5 1.8M521.5 449.7l0.4 -1.7M425.7 503l1.2 2.5l-1.7 1.3M581.5 414.8l0.9 1.2l1.5 -1.2M628.7 364.9l-1.3 1l2.1 -1.7M584.1 405.2l0.8 3.4M776.4 264.1l-2.5 2l-2 -2.6M370 538l3.1 0.7l1.9 2.3l1.3 2.9M686.9 326.2l-1.2 -1.5M618 381l2.2 -1.8l1.4 -1.1l1.5 -0.8M732.3 254l-2.5 2l1.6 2M738.2 252.1l1.5 -1.2l1.3 0.2l-1.7 1.3M484.1 467l1.5 1.9l2.2 -1.7l0.4 -1.3M556 423.7l2 -1.6l1.2 1.5M501.2 475.9l-2.1 1.7M666.1 303.5l2 -1.6M595.1 394.8l1.8 -1.4M536.6 416.4l0.8 1M422.2 507.8l1.9 -1.6l-1.7 -2.1l-2.7 1.2M396 526.5l0 -2.1l0.9 -1.5M798.5 216.7l1 -1.7l1.5 -1.5l1.9 -1.6M778.5 209.7l-1.3 1l1 -0.8M537.6 447.2l2.1 -1.7l-2.9 -0.2l1.1 -0.9M695.9 323l-1.5 -1.9M462.8 470.2l2.7 -2.1M406.8 537.2l1.6 -1.3M671.4 335.6l-1.6 1.3l-2.1 1.7M617.5 356.6l-1.9 1.5l1.8 -1.5M675.9 301.8l-1.3 -1.7l2.3 -1.8l2.4 -2M543.1 405.6l-1.6 1.3M638.4 337.5l-2.5 2l0.8 -2.1l-2.7 2.1M677.6 302.7l-1.9 1.5l1.6 -1.3l-2.1 1.7M519.8 438l-0.2 -1.2l0.9 -0.8l-0.9 1.1M467.1 493.7l1.1 -0.9l2.1 -1.7M762.6 267.6l-0.5 2.2l2.6 -2.1M785 224.1l-2.4 2.1M597 404.5l-2.2 1.8l2.1 -1.7l0.5 -3.4M662.3 304.7l-1.5 -1.8M768.3 240.9l-2.7 2.2l0.3 2.8M509.5 472.3l1.2 -2.6l2.5 -2.3l1.6 1.1M434.9 534.8l1.6 2l-2 -2.5l0.3 1.9M483.8 463.5l-1.5 -1.8l2.6 -2.1M734.1 263.1l-2 -2.5l-2.5 1.3M508.8 455.7l-1.6 0.3l3 -1.6l1.3 1.7M529 460.4l-1.5 -0.7l2.8 -0.5l-2.4 -0.4M571 395.3l1.4 -2.3l-1.8 -2.3M604.8 404.1l1.4 1.7M623.5 362.2l1.4 1.8l-2.6 2.1M499.2 470.5l1.9 -1.5l2.7 2.2l2 -1.6M484.4 448.3l-1.4 1.1M701.6 318.2l-1.9 1.6M419.5 548.4l1.6 -1.3l-2.1 -2.6l-1.7 2.1M472.1 492.7l2.4 -0l1.9 -1.5M654.3 324.3l1 -0.8l1.7 2.1l1 -1.2M744.8 255.8l1.1 1.4l-1.6 1.3l1.9 2.3M482.7 480.4l0.4 1.8M585.4 398.5l0.5 2M586 403.2l-0.3 2.8l2 -1.6l-1.2 0.9M601.2 402.3l2.1 -1.7l-1.4 1.2M703.1 323.5l1.3 1.7l-2.7 2.2M550.7 437.7l1.9 -1.5M624 368.7l3 0.7M687.2 295l1.6 -1.3l-1.2 -1.5M567 385l2.4 -2.2l-2 1.6l-1.9 1.4M756.7 230.2l1 0.6l-1.5 -1.8l1.9 2.4M514.9 472.9l2.2 -1.8M727.6 288.7l0.8 0.9l-1.4 1.1l0.1 -1.3M726.4 272.5l2.6 -2.1l-1.9 1.6l-0.9 -1.1M780 211.1l-2.3 1.3l0.8 1l-2.2 1.7M432.9 541.7l-1.8 1.5M784.4 219.6l2 2.3l-2.3 -0.7M535.8 455.4l-1.8 -1.2l0.8 2.6M523.3 422.6l-1.9 1.5l1.8 1.9l-1.1 0.9M411.3 518l2.1 2.6l0.4 -1.4l1.3 1.6M678.3 309.4l-1 -1.3M675.5 340.9l-2.4 1.9M414.3 512.4l1.4 -0.2l-2.2 1.8M504.5 439.5l-1.1 0.9M793 199.1l-1.4 -1.7l1.5 -1.2M660.8 332l1.4 1.7l-1.4 1.2M388.9 532.6l1.3 -1.1l-1.6 1.5M557.7 434.1l-2 1.6l-0.1 -1.2M437.8 507.5l-2.6 -1.4M435.5 522.1l2.7 -2.1l2.6 -2.1l-2.1 1.7M490.7 481.5l-1.4 1.1l1 -0.8l-1.7 1.4M452.2 509.1l-1.8 1.5l1.2 1.6l1.6 2M467.5 515l-1 0.8l1.6 2M565.3 425.7l-2.7 -1.3M537.9 405l1.7 2.1M757.9 242.8l-1.1 -1.4l2 2.4M598.6 384.8l-2.1 -2.6M751.9 264.8l-1.8 -2.3l1.5 -1.2l0.6 -2M683.2 304.8l0.6 2l-1.1 -1.4M418.8 508l2.3 -1.9l-1.6 -0.6l1.5 1.8M427.7 527l2.9 -0.8l2 2.6M671.7 344.9l-0.8 -1l-2.4 2M561.1 401.7l-2.5 2.1M662.6 332l-1.6 -2l0.4 1.1M587.1 386.8l-1.5 1.2M781.2 237.1l2.1 -1.7l2.2 -1.8l1.2 -1M407.8 527l-0.6 1.3l0.1 -1.6l-1 0.7M688.5 287.5l1.3 -2.4l1.5 0.2l-1.5 1.2M548.4 440.3l2.3 2.3l1.4 -0.3M566.1 427.5l-1.3 -0.8M722.2 272l0.9 1.1l2.7 0.9l-1.5 -1.8M395.6 541.4l-1.8 -2.1l2.4 -2M750.3 244.3l2 -0.6l-1.3 -0.9M529.7 438.7l-1.4 -1.8l-0.5 2.4M754 283l1.7 -1.4l1.1 -2.4l2.7 -2.2M793.9 227.4l-1.5 -1.8l1.5 -1.2M573.7 421.7l-1.9 0.9M619.5 382.4l-0.8 -1M532.5 416.2l-2.7 2.2M450.7 484l1.3 -0.2M635.5 331.5l-1.2 1M412.4 527.5l-0.9 2.3l-0.2 -1.3l-1.9 -2.4M687.9 314l0.6 -2.7l-1.5 1.5l2.1 -1.7M623.3 344.5l2.5 -2l-1.1 -2.3M659.2 354.4l-1.7 -2.1l-1.4 1.1M706.7 268.1l1.1 -1.5l-2.1 -2.6l-1.3 0.5M491.8 474.3l1.9 -1l-0.3 3.1l-2.2 1.8M752.9 259.7l-1 -1.3l-1.5 -1.9M381.9 546l-0.7 2.6M480 492.5l0.8 0.9M731.1 261.5l-1.6 -0.1M395.4 548.3l-0.3 -1.8M629.4 337.4l2.3 -0.6M423.3 506.7l-1.9 -2.4l2.2 -1.8l2.3 1.8M437.4 510.9l0.5 -1.1l1.2 -1M763.7 252.1l-2.6 -1.3M619.1 357l-1.7 1.5l2.5 -2l-3.4 -0.8M556.6 406.4l-0.5 1.5l2.5 -2l0.4 -1.7M700.1 296.3l-0 2.1M646.6 342.1l-2 -1.4M474.4 477.6l1.6 -1.3l0.5 2.3M728.7 301.2l0.6 1.1M394.1 533.9l1.2 -0.9l-2.7 -1.6M670.4 315.1l1.6 2l2.2 -1.8l-1.4 -1.7M725.6 273.1l1.7 2.1M492.5 456.1l0.6 -1.8l2.7 -2.2M760.4 252.9l2.4 -1.9l-1.7 1.4M475.7 455.8l-1.5 -1.6l1.2 -1l-2.1 0.8M600.7 378l-1.1 -1.4l1.5 1.9M796 217.4l-0.9 0.8l-2.2 1.8M576.6 376.7l1.9 -1.5M553.8 445.1l-1.8 -1.7M744.2 257.6l-2.3 1.9l1.6 -2.9l-2.7 -2.1M643 350.2l2.2 0.4l0.9 -3.2l-0.9 -1.1M457 514.9l0.4 1.5l-0.9 -1.2M515.2 450l-1.4 3l1.5 0.3l-1.5 1.2M443.5 520.6l1.6 1.4l0.1 1.6l-2.1 -2.7M731.4 285.4l0.7 -3.4M745 237.8l2.4 -1.9l2.3 -1.8l1.5 -1.2M410.7 515.3l2 -1.6M729.6 279.9l-1 0.8l-0.9 -1.6M689.4 316.7l2.4 -1.9l2.3 -1.8l1.3 1.7M776.3 238.4l1.1 -0.8l-2.8 0.7l-2.7 2.2M701.2 317.9l-0.7 -1.3l2 -1.6l-1.7 -2.2M671.2 351.1l-1.4 1.2M764.9 222.6l2 2.5l-1.3 -1.6l2.5 0.1M441.5 525.3l1.6 -1.2l-0.9 -1.1l-1.3 -1.6M798.3 226.2l1.3 -0.8M490.6 483.6l-2 -0.1l1.1 2.3l1.8 -1.5M578.4 423.6l-1.2 1M687.4 300.8l0.6 1.4l-1.5 -1.9M647.9 351.7l-1 0.8l-0.8 2.4M446.9 501.9l-1.8 1.5l-0.5 2.2M465.9 492l-1.5 1.2l-2.3 1.8l-1.5 1.2M739.1 281.7l2 -1.6M710.4 282.6l-2 1.6M639.5 340.1l1.9 2.3M628.5 341.8l-2.1 1.7M435.5 514.8l2.4 -1.9l-0.9 -2M461.8 488.9l1.5 1.9M667.5 303l-1 -3.1l2.5 -2M775.6 212.3l-1.8 1.4l-2.5 2M484.3 487.1l1.6 2l2.1 1.9l-2.5 2M600.7 389.9l0.9 -1.1M424.6 533.1l1.6 2l2 2.5l-2.1 -2.7M498.9 486l3 -0.1l-2 1.6M700.6 318.9l-0.4 1.3l-1.5 -0.3M705.8 297.9l-2.6 -2.3l-1.7 1.4l-2.3 1.9M508.3 467.7l1.2 -1M723.9 286.3l1.5 -1.2l1.5 1.9M760.9 273.2l1.2 1.4M689.1 326.4l3.3 -0.7l1.7 2.1M509.4 482.4l2.2 2.7l2.2 -2.8M778.7 240.4l-1.8 0.8M449.8 520.6l-1.7 -2.1l1.1 -0.9l1.5 -1.2M720.7 271l-1.1 -1.4l1 1.3M586.8 384.1l0.6 -1.4l-2.2 1.8l1.2 1.5M588.3 401.1l1.4 -1.1l1.6 0.7M617.7 393.4l-1.9 1.5l1.9 -1.5l-0.4 1.2M726.8 304.4l-1.3 -0.6l-0.1 2.8M748 245.4l1.7 2.1l-2.6 2.1M506.3 436.8l1.4 -3.1M790.7 246.9l-0.7 -1.4l1.4 -1M522.8 427l1.2 -1l-2.6 2.1M495.2 472.2l-2.2 1.6M558.8 427.9l-2.6 2.1l-1.3 1l1.7 2.1M543 442.2l1.2 -0.7l-2.5 2l2 -1.6M433.3 513.3l-2.3 1.8l-2.3 -0.4l3 -0.5M501.2 457.6l-1.5 1.2l2.1 2.7l-2.4 2M794 199.9l-1.7 -2.2l1.6 2M546.8 402.5l-3.2 0.1M500.6 471.2l1 1l-1.2 -1.5M456.4 471.4l-1.2 -1.2l-1.8 -2.2l1.6 2M667.3 345.4l-0.7 1.1M577.4 408.5l1.9 -1.5M655.3 327.6l-0.4 1.7l-2.1 -2.6M756.5 261.1l-2.3 0.6M487.9 470.6l1.6 -1.3l1.4 1.9M761.7 272.5l-2 -2.5l-1.4 1.1l-2.7 2.2M431.7 498.8l2.3 -1.9l-1.8 -2.3M736.9 252.7l1 1.2l-1.1 0.9M600.4 372.9l2.1 -1.7l-2 1.3M510.6 425l-1.2 1.7l1.9 2.4M536.7 434.3l-1.7 1.6l2.2 -0.1l-2.7 2.2M686.2 319.7l1.4 -0.2l1.3 -1.1l1.7 0.1M579 370.3l-1.3 -1.5M542.6 454.3l0.9 1.1l0.8 1M700.7 291.2l-1.1 0.9l0.8 1.9M538.5 405.9l-2.7 -0.7l0.1 1.3M771.7 247.6l-1.8 1.4l1 -0.8l1.8 2.3M501.8 463.1l-2.6 2.1M574 406.5l-1 0.8l-1.8 -0.7M577.6 400.1l-1.8 -1.1l-2.5 2M558.5 417.4l1.5 1.9M784.2 235.6l-1.4 -1.7M556.2 394.7l2.2 2.7l2.5 -2.1M433.8 533.1l-1 -1.3M700.7 299.9l2.5 -2l-3.2 -1.1l-1.6 1.3M434.8 494.4l1.5 1.8l0.2 1.9l-1.3 1M445.6 529.8l-2 -0.1M730.8 286.9l-2.1 1.1M415.6 512.9l-1.1 -1.3M474.9 460.1l-2 -2.5l-1.6 1.3M443.7 490.2l1.2 1.5M457.7 504.1l1.4 1.7M791.7 228.1l0.7 1.2M751.2 266.3l-2.6 2.1l2.1 -1.7l-1.5 -1.9M422 521.9l-1 3.2M730.5 304.4l-0.9 2.6l0.5 -3.1M719.7 268.6l1.2 1.4l1.9 0.2l-1.7 1.3M461.5 508.3l-2.2 -1.7M453.4 514.4l-1.2 1M431.2 538.8l0.9 -0.8l-1.7 1.4l-1.5 -1.9M445.2 496.9l0.9 1.2l0.9 1.1M716.2 268.3l1.9 2.3l1.4 -0.8l-2 1.6M618.4 390.1l-1 -1.2l2 2.5l-0.8 -1M663.9 333.5l2.2 -1.8M658.1 342.6l-2.5 2l1.8 -1.4M476.7 500.6l1 -2.3M741.6 249.1l-1 0.8l1.1 -0.9l1.5 1.8M705.7 301.1l-0.2 -1.6l-2.9 0.9l-2.2 0.1M458.5 501.4l1.1 -0.9l-2.4 1.9M547 397.7l0.3 -2.3l1.4 1.7M473.3 493.6l-1.5 -3l-1.6 -3.1l-1 0.8M697 327.9l2.7 -2.2l-2 1.6M794.5 234.3l-1.9 1.6l-1.1 0.9M541.7 441.7l0.2 2.1M729.6 252.5l1.8 -1.2l-1 -1.2l0.2 2.5M617.7 376.1l-2.1 1.7l-1.5 -1.8l-0.9 -1.1M463.8 488.3l1.2 1.5l-1 0.8l0.4 1.9M423.7 510.4l1.5 0.8M487.7 484.3l1.9 2.4l1.7 -1.1l0.2 1.5M631.8 378l-1.1 0.9l-1.2 -1.4l-2.5 2M440 516l1.9 -1.5M495.8 440.6l-1.5 -1.9M623.2 370.3l1.6 -1.3l-0.7 1.5M693.5 322.1l-1.6 1.3M486.8 456.2l2.3 -1.7l1.6 1.9M385.5 533.5l1.3 1.6M672.1 343l-1.5 -0.2l0.9 1.3M752.6 239.4l-0.7 3.3l-1.1 -1.4l2.5 -2M778.1 242.7l-1 -1.3l2.3 -1.9M737.5 289.4l-1.9 -2.3l2.3 -1.9M635.1 381.3l-1.5 1.2l1.3 2.3M596.7 357.2l0.9 1.5M601.4 355.5l1.7 -1.4M445.8 477.9l-0.6 2.8l1.3 0.2l-1.4 -1.2M735.6 244.5l-0.8 -1l1.5 -1.2M428.8 500.6l1.2 3M469.9 471.2l-2.2 1.8l-1.4 -1.7l-0.5 2.5M522.5 418.1l-0.7 1.9l-1.1 0.8l2.1 -1.7M434 500.6l-0.3 -2.4M629.2 367.8l-1.5 -1.9M754.8 240.7l2.4 2l0.3 1.5l-0.8 -1M759.3 265.1l-1.1 0.9l-2.2 1.8l-1.7 -2.2M738 255.3l-1 -0.9l0.2 -3.2M487 497.2l2.6 -2.1l-3 -1l2.6 -0.2M444.3 532.6l-1 0.8l-2.1 1.7M650.7 327.6l-0.7 1l2.5 2.1M418.2 520.1l-2.4 1.9M573.2 382.7l-0.8 1.5l-2.5 -2.2l1.6 2M658.3 353.3l2.4 -2l-1.5 -0.7l-1.4 1.1M582.1 423.9l1.4 1.7l-0.8 1.7M425.3 532.8l0.7 -1l-1.9 1.5M520.9 423l2.5 0.8M747.4 287.4l-0.8 2.2l2.7 -2.2M536.6 423.2l-1.1 -1.3M705.6 319.9l-1.9 -2.3l2.2 2.7M661.4 326.5l-0.7 -2.3l1.9 -1.6M688.4 299.8l1.9 -1.4l-1.2 -0.5l1 -0.8M421.7 523.9l1.3 -1M475.7 462.3l-1.8 2.1l-2.2 1.8l-2.7 2.2M508.5 472.9l2.5 -0.5l-2.2 0.2l1.2 1.5M431.1 539.2l-1.5 1.2M716.4 310.5l-1.5 -1.9l-1.3 0.6M567.8 412.8l-1.3 -2.3l-2.3 2.1M424.4 526.7l2.1 -0.9l-1.6 1.3M392 533.8l1.1 1.4l-2 -2.5l-1 0.8M667.4 335.8l-1.1 -1.3l2.7 -2.1M540.9 431.4l-1.9 1.5M783.1 248.3l2.5 -2.1l1.7 2.1M664.6 325.8l-1.1 -1.3M622.2 346.2l2.5 2.1l2 -1.6l-1.2 0.8M404.6 524.2l3.3 0.8l-2.5 2.1l-1.3 -0.3M442 510.2l0.5 -2.1M770.3 222.2l1.6 -1.3l-2.1 1.7M747.2 244.5l-1.5 1.2l1.2 -1M383.1 528.9l1.6 -1.3l-1.3 1.1M652.5 357.3l-1.8 -2.2M763.2 224.8l1.6 -1.3M452.8 501.9l1.5 1.9l-2 -2.5M731.9 284.1l2.6 2.2M504.6 431l-1.9 -1.5l2.6 -2.1M754.2 238.6l1.5 2.1l-1.8 -1.2l-2.4 1.9M676.4 329.5l-1.1 -1.4M408.7 525.8l-2.5 2M735.2 282l1.5 -1.2M602.9 397.8l-1.2 1M540.6 402.9l-0.5 -1.7l1.8 2.2l2.5 -2M425.3 506.9l-1.1 -1.3l-1 0.8M644.6 337.1l-0.8 -0.9l-1.3 2.2M543.6 443.4l-1 2.2l-2.7 2.2l-2.2 -2.7M403.6 539.1l1.2 2M644.6 356.8l-2.7 -1.7l-2.2 0M409.3 506l-3.2 -0.7l-2.4 2M798.4 245.2l-1.6 -1.9l-1.5 -1.8M509.9 429.2l-2.2 1.7l-1.4 -2.8M689.4 321.2l-2.4 1.9M490.8 479.9l-1.5 0.1l1.6 2M715.1 266.3l-0.1 -1.3l-3 -0.1l-1.8 -2.2M583 371l1.7 2.1l-1.8 -2.2M768.8 228.9l-2.8 -0.8l2.4 -1.9l-0 2.7M530.1 435l1.8 -1.4l2.1 -1.7M624 363.4l2 2.5l2 -1.6M397.6 538.7l1.6 -1.3l1 1.2M536.4 412.6l-1.6 1.3M595.5 393.5l2.4 -1.9l1.7 -1.3l-1.8 -0.2M572.1 421.3l1.8 2.3l0.9 -1.2l-1.2 -1.5M718.4 259.7l2.1 0.1M792.9 225.1l-1.5 1.2M692 312.3l1.3 -1M409.7 516.8l1.7 2.1M621.6 391.9l-0 2l1.7 2.1M475.7 482.1l1.6 -2.9l-2.4 2M627.8 365.8l1.8 1.2l-1.1 0.9l-1.8 0.9M690.1 336.8l1.2 1.5l-2.1 2.8M784.5 242.2l-3.3 0.4l-1.3 -1.6M631.3 337.7l1.9 1.6l2.3 -1.9M572.1 403.6l1.9 -1.6l-2.7 2.2l1.7 -1.4M417.6 516.8l-1.7 1.4M585 375.4l-1.5 -1.8l1.8 2.2M425.1 525.2l-2.4 1.9l1.4 -1.2M708.8 275.1l-1.5 -3.1l-1.8 -2.3l1.4 0.8M654.2 326.5l0.9 1.2l-0.4 -1.4M665.4 352.6l1.2 -1l1.5 -2.2l1.5 -0.4M696.8 315.7l0.3 -2.6M728.9 304l1.4 1.7M453.5 488.4l-1.4 -1.7l-0.9 -1.1l1 1.3M781.3 250.8l-2.6 2.1M427.8 532.8l2 -1.6l-2.5 2M724.6 299.9l-1.6 -2l0.3 2.2M748.9 262.2l-1.2 1l-1.7 1.3M439.6 514.6l1.3 1.6l-2 1.6l-1.3 -1.6M456.4 486l-1.3 -1.6l1.3 1.7M411.8 547.9l-0.4 2.7l-1.4 -3M573.9 414.8l1 -1M769.9 255.1l0.9 1.2l1.1 -0.9M378.5 542.4l-1.6 -2M695.8 315.3l-1.5 1.2l-1.1 0.9M767.5 258.8l-0.6 2.1l-2 1.6l-0.9 2.7M425.4 537l-1.4 0.6M755.6 246.1l3 -0.7l-1.3 1.1l-1.4 1.2M772.7 268.6l-2.8 -0.8l-1.6 -2M641.2 327.7l1.9 2.2l1.4 -2M655 312l-0.9 -1.2M515.8 442.5l1.9 1.6l1 -0.8M482.4 460.1l2.4 -2M426.7 494.2l1.3 1.6M597.5 369.3l-1 0.8l1.5 -1.2l1.2 -1M637.6 345.5l-1.1 0.9M488.9 485.6l1.9 -1.5l-2.6 2.1l-1.9 1.5M517.4 450.8l3.1 1.3M545.5 444.6l0.1 2.5l-1.5 1.2l-2.2 0.7M637.9 373.1l-1.5 -1.8M631.1 354.8l1.9 -1.5l1.2 1.5M664.1 317.4l-1.2 -1.6l-1.5 1.2l3.1 -0.3M500.7 432.4l-2 1.6l-2.7 2.2l1.1 1.3M717.3 272.7l-1.7 1.4l2 2.7l1.1 1.5M452.8 508.7l-1 -1.2l0.3 2.1M522.6 433.5l-2.2 1.8M663.5 306.8l1.6 2.9l2.5 -2l1.5 -1.2M731.9 276.5l-0.8 -1.3M599.6 353.5l1.3 1.6M628.8 335.7l-2.1 2.6l1.3 2.3l-2.5 2M735.9 273.6l-3.3 -1.1l-1.1 0.9l-1.4 2.2M786.9 207.2l1.2 -0.9l-2 -2.5l1.5 -3.1M764.1 240.2l-1 1.8l1.8 1.7M555.8 424.5l-2.6 2.1l1.1 -0.9l-1.4 -2M602.4 391.5l0.9 1.1l-1.6 1.3l1.9 -1.5M750.8 246.3l-1.4 -0.2l1.3 -3.2M697.2 315.5l2.3 0.8l-1.7 -2.4l2.7 -2.2M740.3 258.2l1.2 -1l1.3 -1.1l1.8 2.3M514.1 426.7l-0.1 -2M688.3 315.2l2.3 -1.8M658 332.2l-1.2 -2.7M470.6 488.4l1.2 -1M647.4 343.9l2.2 -1.5l1 1.3l2.5 -2M651.5 326.9l0.1 3.1l2 -2l-1.6 1.3M766.5 260.1l-0.4 1.9l-3.1 -0.9M760 231.3l-1.3 0.9l-2.5 -0.2l3.1 1.1M448.4 522.2l-2.4 1.9l0.8 1.9l-1.8 1.5M436.6 519.3l-1.1 -3.1l1.2 1.5M792.1 220.5l-2.4 1.9l1 -0.8M645.8 353.5l-2.2 -0.3M540.8 411.4l-2 -2.5l1.3 0.2l0.8 1.1M651.8 358.6l-1.8 1.5M625.5 366.8l-2.3 -0l-1.6 -2M621.2 363.2l1.9 1.4l1.2 -1.9M607.3 379.6l1 -0.8l-1.3 1.1l1.6 1.1M435.9 534.5l-2.7 2.2l-1.9 -2.4M439 527.4l0.3 2.9l-1.2 -2.1l-3.2 0.3M393.9 539.8l-1.8 3l-2.1 -2.7M385.1 543.4l-1.5 1.2M651.2 354.8l1.4 -1.2l2.5 -2l-1.6 1.3M549.1 440.6l-1 0.8l1.2 1.6l-2.2 -1.7M402.2 536l2 2.5M653.8 343.8l-2.5 2M647.6 370.7l-2.2 1.7l1.6 2l3 1.4M728.6 299.9l-2.7 2.2l1.9 2.7M589.8 394.5l1.1 1.3l1.8 2.2M404.9 527l-2.5 -1.3M445.8 511.2l-0.5 1.2l-2.2 1.5l0.7 -1.9M795.3 218.4l0.3 2.2l-1.9 -2.4M747.7 235l-2.4 2l1.1 -0.9M399.6 515.9l2.4 -1.9l-1.8 1.4l-2.8 -0.9M771.8 224.9l-1.9 1.6l2 2.5M477.4 478l-1.3 -1.6M418.5 500.6l1.7 2.4l1.2 -1M401.2 519.1l1.7 2.1l-1.8 0.2M734.4 258l-2.6 -1.2M651.4 312.3l-1.8 1.5l-2.7 -2M766.3 236.2l-0.8 -1M701.5 300.4l1.2 -0.9l1.5 -1.2M687.1 311.1l2.8 -0.3l1.4 -1.1l2.2 2.7M495.4 445.1l1.9 2.4M534.5 444.3l2.6 -0.9l2.5 -2l2.1 -1.7M685.4 325.3l-2.8 -1.6l1.7 2.2M756.4 260.4l-1.9 1.5l-2.5 2l0.1 -2.9M789.4 215.5l2.1 2.6l-2 1.6l1.2 -1M731.2 278.5l1.1 -0.9M780.6 238l-1 -2.7l-1.4 -1.8l-2.1 1.7M724.4 284.6l0.4 -1.8l2.1 -1.7M602.3 394l-1.9 -0.7l-2.7 2.2l2.7 -2.2M759.9 231.8l2 -1.6l-1.2 -1.5l-1 0.8M417 533.8l-2.7 2.1l-0.6 1.2l-2.5 0.8M481.2 451.3l0.8 1l-1.1 0.9l-0.1 -3.5M605.5 384.1l-1.3 1M459.3 506.8l1.1 -0.9l-1.5 -1.9M697.6 324l-1.4 0.5M700.2 327.2l-2 -0.6l-1.1 -1.4l0 -1.7M468.9 460.2l2 -1.6l1.9 2.3M765.6 240l1.6 2l1 1.3l1.3 1.6M589.3 403.9l-1.6 -0.5M744.5 281.1l-2.4 1.4l-2.4 2M798.6 242.5l-1.6 -2M486.1 468.3l-1.1 -1.4l-2.1 -2.6M539.9 453.9l1.5 -1.2M596.7 401.6l-1.9 1.6M779 252.3l1.6 1.9l2.3 -0.8l2 2.4M766.2 275.4l-0.7 3.3M636.6 345.4l2.3 1M631.6 367.4l-0.5 2.1l-1.8 -0.5M721.1 278.8l2.1 2.6l1.1 -1.3M373.7 535.5l-1.8 1.4l-1.6 0.1M657.6 334.5l1.6 -1.3M572.7 429.6l-1.9 0.4l-1 -1.2l1.8 0.2M463.2 476l2.1 -1.7l-1.7 -2.2l-0.7 -2.4M517.1 475.5l-2.5 2l1.1 -2.3l-2.1 1.7M775.7 229.9l0.2 1.3M624.5 346.3l2.1 2.6l1.7 -1.8l2 2.4M673.7 296.1l1.2 -0.9l0.1 -2.8l-1.3 1M740.4 283.1l3.2 1.2l-0.6 1.9l1.1 -1.3M459.3 471.3l-1.4 -1.7l0 -2.2M437.7 515.4l-1.4 1.1l-2.1 2.3l-2.3 1.9M397.5 538.5l-2.3 -0.3M668.5 312.7l2.2 -1.7M621.6 342.3l2 -1.6l1.1 1.4M482.4 450l1.1 1.3l0.2 -1.4l1.4 -2.3M457.5 476.5l-1.7 1.3l1.5 1.9M793.8 199.3l2.5 -2M614.5 352.4l1.9 -1.5l-1.2 1l-0.7 3.3M453.6 504.5l-0.8 -0.9M701.6 314l2.1 2.6M582.4 421l-0 1.3M699.2 285.2l2.2 -1.3M543.8 419.2l-1 0.7l1 1.2M463.9 506.5l-2.8 0.7l1.6 2l1.4 0.7M661.4 325.1l1.6 1.9M407.2 537.6l2 2.5l-2.1 1.7M617.2 350.8l1.6 -1l2.2 0.4M602.4 400.4l-2.2 1.8M398.5 544.9l3.2 0.5M597.3 404.6l-0.9 0.8l-0.7 1.7l1.1 1M384.3 542.2l2.1 2.6l0 -2.1M691.1 295.7l-1.3 -2.8l2 0.9l-2.2 -0.5M747.6 278l0.7 1.4l1.6 -1.3M751.3 278.2l-1.1 0.9l2.3 -1.9M599.1 359l1.6 -1.3M748.1 247.4l1.9 2.4l1.2 -1l-0.9 -1.1M612.1 369.7l-2.2 -2.7M506.6 477.7l1.5 -1.2M788 254.3l-1.6 0.4M677.5 341l1.7 2.3l-1.5 1.2l-2.1 -2.7M428.1 501.8l2.2 -0.3l-2 -2M527.6 412.5l2.1 2.6l2 2.5M400.8 547.9l2.7 -2.2M402 525.6l-2.8 -1.8l-1.6 0l-2.2 1.7M668.3 308.4l-1.9 1.5M669.1 332.5l1.6 2l-2 1.6M660.1 311.5l-1.1 -1.4l2.8 -0.7l1 1.5M618.3 349.3l-1.8 -2.3M676.3 300.1l1.6 1.9l2.7 -2.2M406.2 534.4l2.2 -1.8l1.9 2.3M421.6 500.3l-2 -1M754.4 284.1l-2 -0.1M784.4 207.5l-2.1 -2.6l-2.5 2l-1.2 1M694.7 304.3l-1.9 1.5M523 456.2l1.5 1.9M552.8 392l0.9 1.1M645.4 336.1l1.7 0.5M599.8 399.5l1.2 -1l-2.8 -0.7l-1.2 1M772.8 227.9l1.4 0.6l1.7 -1.4l-1.7 -2.1M661.1 360.1l-1.9 -2.4M582.4 411.3l1.5 -1.2M596.1 360l2.6 1.6l-1.9 1.6M412.1 509.5l1.9 2.4l0.8 1l1.9 2.6M733.8 284.9l-1.1 0.9l-2 1.6l0.2 2.2M754.5 240.4l1.8 2.2M624.8 340.8l2 -1.6M701 293.4l0.8 1M715.7 297.6l-1.2 -1.5M732.6 276.1l-2 -2.5l-2.7 2.1M492.4 440.9l-1.4 -1.8l2.4 -2M745.3 274.5l-1.4 -1.8l-2.3 1.8M713.5 273.7l3.3 0.2l2.3 -1.8M538.2 438.2l2 -1.6M579 404.2l0.6 -1M596.6 403.8l-1.8 0.5l-2 1.6l-2.5 -0.2M494.1 491.9l2.3 -1.9l-1.5 -1.9M422.7 535.2l1.7 -1.4l-1.9 -2.3M509 454.4l-2.5 2l-1.5 -1.9l-2.9 -0.3M408 510.9l-1.4 -1.7M707.2 293.3l2.1 2.6M523.2 463.4l1.6 -1.3M398.4 541.9l1.9 -1.6l-0.7 -2.9M483.1 458l-1 0.8l2.1 2.1M533.4 452.2l-1.6 1.3l1.7 -1.4M490.3 462.7l0.3 -1.9l1.8 -0.8M698 297.7l0.9 1.1M501.7 466.3l1 -0.8M506.9 446.4l-2.6 2.1M752.7 249.7l-2.4 2l2 2.5l1.3 0.9M475 510l-1 -1.3M467.3 503.6l-1.2 1.9l-0.7 -2.8M791.3 208.5l1.3 -1l1.5 1.8l0.4 -1.2M604.4 405l-1.7 1.1M679.3 328.9l-1.8 -2.2l1.3 1.6M629.2 332.2l-2.1 1.7l-1.9 1.5M593.5 395.8l0.5 1.9l1.6 -1.3M633.6 381.5l1.3 2.8M716.9 304.7l1.8 -1.5l0.9 1.1M761.4 254.6l-2.5 1.9l1 1.2M644 321.7l1.1 -0.9l2 0.5M722.8 291.5l2.1 2.8M593.4 387.5l0.8 1M622.1 371.8l-2 1.6l-1.8 0.6M519 460.2l1 -2.5M726.7 283.9l2.5 1.3M670.7 305.5l0.1 -2.9l-1.8 1.5M588.1 397.1l-0.7 2.2l1.1 0.4l-2.1 1.7M776.1 263.2l-2 1.6l2 -1.6l-2.2 -2.7M594.1 398.3l1.2 2.3M678.6 340l1.6 -1.3M620.8 392.6l2.5 -2l1.9 0.7l0.7 -1.2M568.1 430.3l-2 -2.5M476.6 456.8l0.8 1M693.2 290.7l-1.9 1.1l-1 0.8M639.3 342.8l1 1.2l1.7 2.2M612.2 357.1l-0.5 -2.5M641.1 371l-1.1 -1.4M528.7 437.8l1.5 -1.2M462.8 475.1l-0.3 2l2.1 -1.7l-1.5 -3M568.8 412.9l1.8 -1.5M476.3 482.3l1.3 0.4l-2.3 1.9l-0.9 0.9M564.6 382.7l1.3 1.6M591.7 395.4l3 0.2l-2.2 0M753.5 253.3l-1.6 -2l0.8 1M406 544.3l0.8 1M615.4 376.2l-2.4 1.9M786.8 223.3l-2.3 1.9M602.9 399.7l1.7 -1.4l-1.4 -1.8l-1 0.7M748.5 240.8l2.4 1.7l-2.1 -2.6M571.9 420.2l-0.4 -2.7M612.1 387.3l-3.4 -0M426.4 504.9l-1.9 -0.3M701.2 303l-2.1 -2.6l2.4 -1.9l0.8 1M502.3 453.6l-1.1 2.9M679.6 295.8l1.8 0.6M424.5 505.6l1 0.9l2.6 -2.1M652.6 352.2l-0.1 2.9l-2.1 2.7M403.8 537l-1.3 1.5l2.7 -1M592.7 368.5l-1.2 1l0.9 0.9M796 241.6l1.7 0.9l1.1 -0.9l-1.2 1M504.2 480l1.4 0.9l1.8 2.2M651.5 361.4l-0.4 2.3l1.4 -1.1l-1.5 1.2M779.7 215.1l1.3 1.6l1.8 -2.7M648.5 349.3l-1.8 -2.2M480.6 449.1l2.4 -1.9l1 1.3l-2 1.6M568.9 417.4l0.5 1.3l2.4 1.3l0.2 -3M369.3 541.8l1.3 1.6l3 -0.9l-1.2 0.9M644.4 366.6l1.3 1.6M412.3 504.4l0.1 1.9l2.1 -0.9M400.9 541.5l1.9 -0.1l-1.1 -1.7l-2.9 -1.8M661 323l0.9 1.1l2.5 2.2l-0.9 2.1M578.9 410.6l-1.9 -0.5l1.6 2M555.1 397.7l1.1 -0.9M682.1 287.7l-2 1.6M541.2 433.8l-1.9 1.5l-1.3 -2.2M595.6 398.7l1.2 -1l-1.4 -1.8M686.5 307.1l1.2 -0.9l2.3 -1.7M728.1 276.6l0.8 1l-2.6 2.1M458.1 468.7l-3.1 -0.9M611.4 348.6l1.4 1.7l-1.1 0.9l2.3 0.6M425.5 499.2l-1.9 1.5l1.4 -1.1M714.6 279.3l1.9 2.4l1.8 -1.4M459.3 483.6l-1.4 -1.8l1.2 1.5M720.5 281.3l-2.1 1.7M641.5 321.7l0.8 2.1M685.7 337l-0.3 -2.8l-2.2 1.8l2.2 2.7M706 293.8l2.5 -2.1l-2.5 2l-2.2 1.8M570.6 382.7l-1.6 -1.9l0.6 1.1M621.9 365.2l-2.1 -2.6l-2.9 0.5M726 275.1l-1.8 0.4l1.6 -0.6l-1 -1.2M549.9 403.6l2.9 1.1l-1 1.2M772.9 213.6l-1.3 1.1l1.2 0.5l0.1 -3.2M694 310.2l0.8 1M481.5 463.9l2 -0.2M724.1 283.6l1.9 2.4l1.8 -1.4l-1.7 -2.2M521.8 467.9l-2.4 1.9l-1.5 -1.8l1.1 -0.9M565.2 432.9l-1.2 1l1.6 2M739.7 281.2l-0.8 -1.1l1.9 2.4l-0.8 -1M735.8 250.7l1.4 -1.2M650.1 324.6l1.6 3l1.8 1.4l1.3 -1.1M737.7 262l1.2 -0.4M450.1 518.5l-1.8 1.4l-1.1 -2.9M780.5 232.7l-0.3 -1.4M458 494.7l1 -1.2M666.1 302.6l-2.2 -2.7M627.2 364.5l-3.3 0.8l1.3 -0.9M715.9 269.4l0.8 1M789 246.3l-1.3 -1.7l2.1 2.7M772.4 221.4l-3.4 0.4l-1.2 0.5M417.6 500.6l1.2 2M742.1 280.4l1.9 -1.5l-2.7 2.2l-1.6 -2M502.3 438.1l2.5 -2l0 2l-2.4 1.2M786 214.3l1.8 2.7l2.8 0.7l1.3 1.7M655.9 346.1l0.9 -0.8l-1.1 -1.4l-1 0.8M774.2 219.1l-2.6 2.1l-2.2 1.7l1.2 -1M760 258.5l-2.6 2.1l-0.5 2.6l-2 1.6M741.2 254.3l0.4 1.7l-1.8 -2.2l1.3 1.6" fill="none" stroke="#989898" stroke-width="0.9"/>
<path d="M677.8 353.5l2.5 1l-1.4 1.1M552.1 453.8l-1.9 -2.4l-1.6 -2l-1.4 -1.8M620.6 399.6l-1.7 0.7l0.8 1l1.9 -1.5M771.9 276.2l-2.7 2.2l0.1 -1.9M644.7 376.6l-1.6 -2l-1.1 0.9l-0.9 0.9M612.7 404.6l2.5 -2M512.1 482.8l2.4 -2l2.2 2.7M674.6 353.7l2.9 -0.2l1 -0.8M747.8 298.2l-1.8 1.4l2.5 1M772.7 272.9l-1.4 2.5l-2.1 1.7l-2.7 2.2M482.6 510.2l2.3 -1.9M642 381.3l-0 -2.9l3.2 1.4l-0.7 1.2M519.6 482.6l1.5 -1.2M450.8 537.2l1.4 0.9l-1.1 0.9M519.1 481.8l1.8 -2.8l-2 -2.5M649.2 376.1l1.4 -1.1l-2.1 -1.3l-1.9 -2.4M462.7 528.6l-1.2 -1.5l-1.3 1l-1.6 2.5M771 275.4l-0.6 1.1l1.2 1.4l-1.8 -2.2M560.9 445l-1.1 2.5l2.5 -0.2l-1 -2M642.5 383.4l3 0.5l-1.7 1.4M682.2 345.5l2.1 -1.7M746.4 295.1l-0.7 1.5l-1.2 -1.5M791.2 262.3l-2.7 2.2M501.2 496.5l1.2 0.3M760.7 282.5l0.5 -1.9l-2 1l0.9 1.1M679.1 349.4l1.4 -1.1M691.6 338.4l-2.2 -2.7l-2.3 1.8l-2 1.6M648.5 375.2l-0.7 1.3M608.7 406.7l-2.1 1.7l-2 1.6M481.8 507.9l2.9 -1.7l1.5 -1.2M705.4 327.8l1.3 0.3l0.1 -1.2l2.5 -2M697.1 333.4l-1.3 -1.2M505.3 491.1l-1.2 0.9l-1.6 -2M770 279.1l-1.6 0.3l1.6 2l-2.9 0.6M653.3 371.8l-2.1 -2.6l-2.2 1.7l1.3 -1.1M597.2 417.8l-2.2 -0.2M714.8 319.3l1.2 -1M629.2 392.2l-1.4 -1.8l-2.1 -2.6l-1.3 -1.6M448.7 536.6l0.9 1.2l2.1 -2.5l-2 -2.4M578.5 433.4l1.7 -1.4l1.3 -1.1M542.8 463.6l1.1 -0.9l-0.9 -1.2l1.7 2.1M706.2 331.5l-1.2 -3.2M564 445l-2.9 0.5l1.7 -1.4l-2 1.6M437.4 544.2l-0.2 1.3l1.8 2.2M791.9 257.5l2.5 -2M477.2 517.4l2.4 -2l2.2 -1.8M531.4 466.7l-1.1 0.9l1.8 2.2M612.2 404.6l-1.6 -2.4l1.2 1.5M468.4 517.6l-0.5 -2.6l-1.2 0.9M646.2 375.2l1.2 1.3M445.9 538.8l-1.3 1M612.4 405l2.1 -0.5l-1.7 1.4M484 509.4l2.5 -2.1l-1.6 1.3M494.9 499.5l-1.8 1.4l-2 -2.5l-1.4 1.1M459.2 528.7l0.8 1.3l-1.4 1.1l1.9 -1.5M799.3 251.9l2.2 2.7l2.3 -1.9l1.7 -1.4M493.8 503.3l1.6 0.9l-1 1.9l-3.2 1.3M766.3 280l-2.2 1.8M735.9 304.5l-1 -1.2l2.6 -2.1M648.3 378.3l1.8 -1.4l-2.2 1.8M488.5 503.6l-1.7 0.1M445.2 536.7l-2.1 -2.7l2.1 2.6M544.6 459.6l-1.5 -1.9l0.1 1.5l-0.9 3.3M754.2 291.3l1.1 -0.9l1.3 1.6l2.9 -0.3M470.6 522.7l-1.7 1.4l1.3 -1l-2.6 2.1M780.6 270l1.1 -0.9l-2.9 -0.5M588.4 426.7l1.8 -1.5l1.4 -1.1l-1.8 -2.3M569.7 442.8l-1.4 -1.7M768.8 282.2l-0.9 -2.4l-1.8 1.4l2.4 0M620.9 398.2l-3.3 -0.1l2 -1.6M490.1 501.8l0.5 -1.1M457.8 530.5l0.3 2.6M599.4 419l1.6 -2.2l-2.6 2.1M607 409.6l-0 -1.6l3 -0.2M516.3 482.3l-0.9 -1.2M722.8 315l-1.7 1.3l1.6 -2M711.6 328.2l-2.7 -1.8l1.4 -1.1l-2.1 1.7M642.2 377.6l1 0.9l1.9 2.4M566 441.8l2.1 -0.3M768 282.5l3.1 -1.1l2.1 2.7l1.4 1.8M551.2 454.6l2.1 -1.5l1.3 1.6l-2.7 2.2M686 348.7l-1.2 -1.4M760.5 283.1l2.6 -2.1l0.2 -1.9l-0.2 1.5M545.4 458.1l-1.9 -2.4l1.7 -1.4l1.7 -1.4M723 315.1l1.6 -1.3l-1.5 1.2l-1.8 -2.2M655.6 370.2l-0.8 1.7M580.7 427.6l-1.5 -2l2.6 -2.1l-2.2 -0.4M627.5 390.8l-2.3 -2M542.1 463.5l-2 1.6M742.2 302.3l-2.6 2.1M775.7 270.2l1.8 2.2M470.6 520.7l1.3 1.6l1.9 2.3l-3 0.6M595.6 417.7l-1.4 0.5l1.6 1.2M571.9 438l1.1 -0.9M788.4 264.4l-1 -3.2l1.2 1.5l2.1 2.6M510.4 486.5l1.7 -1.4M515.5 479.6l-2.4 2.2l-0.3 2.4l0.4 1.6M588.6 423.7l-0.2 3.2M641.8 383.4l-1.4 1.1l-1.7 1.4l-1.8 1.5M739.1 300.5l-0.8 -1l-2.3 -2.5l1.3 -1M534.8 466.7l2.3 -0.8l1.1 -0.9l1 -0.8M709.7 328.6l-1.6 1.3l-1.8 -2.3l1.7 -1.4M511.4 488.8l2.3 -1.8l1 -0.8l2.1 -1.7M548.5 459.8l2.1 -1.7l2.6 -2.1l-2.9 -1.1M672.5 354.6l1.4 -1.1l-1.5 1.2M556.6 448.1l-2.1 1.7l-1 1l1.3 -3M665 364.9l1.2 0.8l2.2 -1.8M718.6 317.5l-2.8 0l-1.2 1l2.5 -2M615.9 399.6l-2.2 1.8l1.6 -2.6M652.1 371.8l1.4 -1.2l1.2 1.5M727 313.3l-3.2 -0.7M452.7 533.5l-1.8 -2.2l2.6 -2.1M579.3 428.2l-1.2 -1.5l1.3 1.6l1.1 1.4M551.9 456.5l-1.2 1M570.2 438.4l-1.1 -1.4l-1.6 -0.3l-1.2 -1.4M472.6 518.6l-1.7 -2.1l2.3 -1.9M697.1 333.8l-1.7 1l-1.5 1.2M467.9 524.7l-1.2 1.2l1 -0.8M750.8 294.5l-1.7 1.4M664.4 363.6l-1.8 -2.3l-0.8 2l-2.9 -1.2M672.4 359l1.4 1.8M481.2 513.1l-1.4 1.2l1.4 1.8l2.9 -1.2M689.3 339.7l-2.4 1.1M545.9 455.3l-2.6 2.1M526.6 471.6l-1 -1.2l-1.1 0.5l1.5 -1.2M717.9 318.9l-1.1 0.8l-2.8 0l-0.9 -1.1M462.3 525.8l1 1.2M548.7 454.9l1 -0.8l-1.1 1.2M707.5 331.8l0.9 1.1l1.9 -1.5M730.6 311.4l-2.1 1.7l1.5 1.8l-1 0.8M477.8 512.1l-2.5 -0.6l-0.2 1.9l-1 -1.2M741 303.4l-1.5 -0.8l-2.2 1.8l-2.1 -2.6M473.2 517.9l2.5 -2l-2.3 -0.3l-0 -2.5M677.8 350.3l-1.5 1.2l-0.2 1.6M466.1 520.8l2.6 -2.1l1.4 1.8l1.7 2.2M753.7 290.7l-0.7 -1.4M560.9 449.4l-1 -1.2l1.8 -1.5M691.8 339.7l-1.4 1.1l1.4 -1.1M710.1 328.9l1 -0.8l2.7 -2.1M692.9 339l-2.5 2l1.2 1.3M437.6 542.8l-1.2 -1.5l1.2 1.5M535.3 469.8l1.5 1.8l1.1 -0.9M634.2 384.5l2 2.5M640.1 380.1l2.9 -0.8M768.7 278l1.7 2.1l1.7 1M702.1 331.9l1.2 1.5M496.7 500.7l-1 0.8l1.4 1.8M682.7 347.5l1.6 1.9l-2.1 1.7M570.6 438.8l-2.7 2.1l-1.4 2.4M583.3 425.2l1.7 2.1M693.6 342.6l1.5 1.9l-1.2 -1.4l1.5 -1.2M555.7 453l-1.5 -1M766.2 278.7l1.7 2.1l-1.8 1.4l-2.8 -1.7M767.7 282.1l1.4 1.7M708.8 323.9l1.9 2.4M796.7 255.9l-2.8 -1.7l1.1 2M699.5 334.5l-0.9 -2.8l-1.7 -2.9l-1.3 -0.4M557.7 447.3l2.6 -2.1l-2.2 -1.7M780.2 272.3l2 2.5l-1.8 1.4l1.4 2.1M704 334.2l1.5 0.2l-1.3 -1.6M663.3 365.9l-0.1 1.5l-1 1.3l-1.3 1.1M548.5 455.6l1.8 -1.4l-1.2 2.5l-1.5 -1.9M709.8 329.3l-1.7 1.3l1.2 1.5l1.7 -1.4M755.4 292l-2.4 2l1 -0.8l0.2 1.2M750.8 292.4l0.1 2.2l2.1 2.7M693.7 342.3l-2.5 2M538.6 463.9l1.8 -1.9l2.5 -2M655 372.3l1.6 0.6M691.2 341.5l-0.1 -1.4l-1.2 -2.1M642 380l1.1 1.4l2.6 0.6l2.9 1.2M585.5 423.5l-1.1 0.9M658.3 365.9l2.7 -2.2l0.7 1.6M471.6 516.2l2 -1.6l-2.8 1.8l-0.9 -1.1M681.5 351.2l2.6 -0.5l-1 -1.3M482.3 513.1l-2.1 2l1.8 -1.5l-0.1 -2.9M643.2 381.6l-1.9 -2.7M771.2 279.3l-1 -1.2l-2 -2.5l3.2 -1.3M706.2 330.4l-1.7 -1.1l1.2 -1M498.9 493.8l2 -1.6M792.6 262.2l0.2 -2.4l2.6 -1.3M722.2 318.7l1.1 1.3l1.9 -1.5M731.5 306l1.2 1.4l-1 0.8l-1.8 -2.2M769.7 279.9l1.3 1.6l1.4 1.7M777.3 270l1.3 -1l1.6 1.3M462.7 528.2l1.8 -1.4M497.7 497.4l-1 0.8l0.8 0.9l-0.7 1.2M552.2 454.6l0.5 2.4l0.5 -1.5l2.1 0.7M782 266.9l1 -0.8l-3.2 -1.4M591.7 423.3l1.4 1.7l1.6 -1.4M712.7 323.2l0.5 2M761.7 287.4l-1.4 -1.7M684 350.3l-1.8 2l2.9 -0.6M734.7 305.8l2.5 -2M635.1 383.6l-1.8 -2.2l-2.6 -1M549 459.2l1.2 1.5M707.6 325.7l-0.9 -1.1l-2 1.6M725.8 314.1l1.6 1.3l1.9 2.4M456.4 528.5l-2.3 -2.3M514.1 482.7l1 -0.8l0 -3.2M725 312.2l1 -0.8l1.3 1.6M605.5 407.1l-0.7 -1l-1.7 1.3l-1.9 1M598.9 416.5l-1.9 -1.9l-2.5 2l1.5 -1.2M586.5 422.8l-1.1 -1.4l-1.2 -0.7M688.5 341.9l1.1 -0.9M688.3 342.6l1.1 -0.9M551.9 454.3l2 2.5M606.1 413.2l1.8 2.3l0.6 -1.8l0.5 1.2M635.8 386.8l2.6 -2.1M505.8 492.9l1.8 -1.4M500.9 493.5l1.2 1.5l-1.3 1.2l-1.6 1.3M523.8 478.7l-1.9 1.5l2.7 -2.1M469.9 520.7l-0 1.6l-1 0.8M582.5 431.2l2.2 -1.7M603 409.8l1.5 -1.2l1.2 -0.9l1.3 -1.1M741.9 299.4l2.2 2.7l-0.9 -1.1M753 288.6l-2.1 0.3M771.8 277.3l-0.1 2.2l-1.9 0.9l1.8 -1.8M535 470.4l-0.9 -2.4l-1.5 -0.1M467.3 522l1.8 -1.5l1.8 2.3M455.5 530.2l-2.5 2l-1.2 1l0.1 1.7M637.9 386.4l2.3 -1.8l2.9 1.7l1.5 1.9M753.2 292.1l-2 -2.5M440.9 544.1l-1 -1.3M743.7 299.5l-1 -1.2l-0.8 3.4l2.9 -1.6M512.2 487.1l1.6 2.4l-1.4 -0.6l2.5 -2M631.4 389.3l1.4 -1.1l2.1 -1.7l-1.3 1M685.7 343.7l1.7 -1.3M703.5 333.1l-1.3 -0.4l1.4 0.1M739.9 301.9l-1.2 -1.5l1.6 0.5M654.9 368.5l-2.3 -2l1.1 1.4M649.4 378.5l-0.3 -1.5l-1.5 -1.9l1.1 1.4M575.3 437.1l-2.2 -2.7l-2.6 2.1l-1.4 -1.8M529.1 471.4l1.4 1.7l-1 0.8l-2.5 2M734.8 305.9l-1.4 1.1l2.3 2.1M561.1 446.3l-2.6 0.5l-2.3 1.8l1.8 2.3M471.7 519.1l-1.3 1l1.7 1.5M560.5 447.6l2.1 -1.7l-2.6 2.1M482.3 511.1l1.5 1.8M761.7 282.4l2.7 -2.2l-0.6 -2M767.8 282.3l1.4 0.4l-3 -0.1l1.1 -0.9M709.3 328.8l-2.1 2.4l-1.4 -1.7l1.3 1.6M580.1 432.5l-2.3 1.9l-1.7 -2.1M599.7 416.3l2.2 -1.8M758.9 288.2l-0.8 -1l-0 -1.3M786.3 265.4l-1.8 -2.3l2.5 -2M531 471.9l2.4 -0.6M716 321.8l1.3 1.7l-1.6 -1.9M705.5 328.9l1.7 2.1l-1.9 -0.7l2 -1.6M696.7 339l1 -0.8l-1.6 -2M623 394l-1.1 0.9M705.3 327.2l1.3 -1.1l0.6 -3.3l2 -1.6M453.2 532.8l1.8 2.3M620.6 399.7l-2.1 1.7M778.4 271.9l2.1 -1.7l1.8 -1.4M536.8 464l1.7 2.1l0.7 -2.1M609.4 409.3l-2.6 1l-1.7 -2.2l-0.8 -1M571 437.3l-1.8 -2.2M741 298.1l1.1 1.4l0.1 1.9l2.2 2.7M557 446.5l-1.7 -2.1l-1.7 -2.2M434.4 548.2l-1.5 0.8l-0.9 -1.1M656.3 371l-1.4 0.6l1.7 2.2M436.1 545.8l1.5 -1.2l-0.1 2.7M561.6 446.5l2.7 -1.5M633.7 386.6l1.9 -1.6l-1.1 0.9M620.9 396.2l-1.4 -1.7l2.4 -1.9l-2.2 1.7M799.2 251.4l1.6 -2l1.3 -0.5l-0.8 -1.5M675.5 351.9l1.3 1.6l-2.1 -2.6M472.5 520.8l2.6 -2.1l-1.2 0.1l1.1 1.5M486.4 503.5l-0.9 1.5l-1.4 -0.3l2.2 -1.8M661.9 363l-1.2 -2.6l-0.5 -1.2M677.3 355.8l-1.1 -1.4l-1.3 1M582.5 427.9l0.9 1.1M455.4 528.2l-1.5 -1.1M534.3 465l2.4 -2.2M457.5 527.5l-1 0.8l-2.3 1.9l-0.9 1.4M645.7 381.3l-1.7 -2.1l-1.1 -1.3l0.7 -2.4M588.7 421.2l-2.3 1.9M670.5 358.8l-1 -1.3M489.4 501.5l-1.5 -0.1M617.3 398.5l1 -0.8l-3.3 -0.2M735.9 305.9l2 1.7l2.3 -1.9M486.7 504.9l-0.2 -1.8l-1.7 -2.1l-2.7 2.2M560.3 446.2l2.2 -1.9l2.1 2.6l-1.5 -1.9M763.6 282.2l1.3 2l1.3 1.6M642.4 380.4l1.7 2.1l1.6 2M621 396.6l-2 -2.5M718 316.7l1.6 -2.9M648.8 373.2l-1.8 1.5l-2 -2.4M671.2 356.6l-1.2 -0.5l2.2 -1.9l2.8 1.5M525.4 473l-1.9 1.5M461.3 524.7l0.9 1.1M666.9 363.3l-2.8 0.4l2.3 -1.8M525 477.6l-2.7 2.1l-1.6 0.3l0.5 -1.7M562.6 444.2l1.5 -1.1l1.9 1.3l-2.3 -1.9M499.5 497.3l1.3 -1M531.9 467.1l1.6 -1.3l-3 0.6l2.3 -1.8M632.2 390.8l-0.9 -0.8l1.7 2.1l-1.2 0.3M477.7 515.2l-2.8 1.2l0.5 2.7M462.9 527l-1.4 -0M739 302.3l-1.3 -1.6M531.6 466.7l-1.7 1.4l2 1l-1.2 -1.5M551.4 454.9l2.3 -1.9l-1.5 -1.9l-0.6 -2.7M743.3 300.2l1 -2.1l-2.1 -2.6l1.7 2.1M646 379.6l0.1 -3.4M699.5 333.8l1.5 -1.2l-0.3 1.9l-0.7 -2.1M732.4 309.4l-0.8 -1M530.4 471.4l-2.2 1.8l-2.2 -2.6M635.5 383.7l-0.4 -1.7M482.3 511.4l1.5 -0.2l-0.8 -2.4M728.3 310.3l2.3 -1.9l1 -0.8M577.3 431.2l1.4 1.8l2.2 -1.1l-0.8 -1M490.8 506.4l2.3 1.2l-2.2 1.7M780.7 267.4l1.2 1.5l1.3 1.6l0.7 2M481.4 510.7l-1.1 -1.1M786.4 262l0.5 2.8M659.1 370.7l1.3 1.6M519 479.4l-2 -2.5l2 -1.6M520.9 479.4l-1 0.8M644.2 379.4l-1.4 -1.8l-2.5 2M588.7 427.1l1.6 -1.3M671.9 354.6l3.2 -0.1l2.2 -1.8l1.8 0.3M604.7 409.9l2.1 1.2M749 291.7l1.1 -0.9l1.1 1.3M528.4 471.6l-1.3 1M592.7 422.4l2 2.4l-1.3 2.7l1.9 -1.5M654.8 367.4l1.2 -1M723.2 312.6l-1.7 -2.1l1.5 -1.2l2 2.5M495.5 499.3l1.9 -1.5M748.9 293.4l-0.2 -2.7l1.3 1.6M474.4 516.1l1.9 1.9l2.4 -1.9l-1.6 -2M522.2 478.4l-1.5 -1.9l2.9 -0.2M708.3 330.6l-2.5 1.5l1.3 -1.1M715.7 321.1l1.7 -2.3l-1.3 1l-3.3 0.6M609.7 406.4l2.2 -1.7M558.9 447.2l0.3 -1.6l-2.4 2M567.6 439.1l-1.2 1l2.1 -1.7M445.8 536.1l-3.2 -0.6l2.4 -2M686.6 348l1.8 -1.5l2.2 -1.7M725.9 310.7l-2 1.6l1 2.6M444.3 543.3l1.7 -1.3l-2 -2.4l1.8 2.2M737.1 301.9l-1.3 -1.6M443.7 540.3l-1.5 -0.9M569.4 438.1l0.1 -2.3l1.1 -1.6l-1.9 -2.3M791 259.7l0.3 1.5M458 530l-3.3 0.1l2.5 -2l2.7 1.8M651.9 375.6l0.3 -1.3l-1.2 1l2.2 -1.7M663.6 364.4l-1.6 1.2M730.3 307.8l1.8 2.2M654.8 373.2l-1.6 1.3M569.9 437.5l1.2 2.7M611.5 406.7l3.3 1l-0.6 1.4M538.6 461.6l-1.8 -2.3M641.7 380.9l-1.3 1l-2.2 1.8M764.7 281.9l1.3 1.2l1.9 -1.5l1.2 -1M673.2 355.8l-1.6 2.8l2 2.5M677.1 353.6l1.4 -1.1M694.9 340.9l1.5 1.9l-2.7 2.1l-1.7 -2.1M639.6 386.4l-1.5 1.2l-1.3 0.6l-1.8 -1.4M618.3 403.4l1.6 2M470.3 516.5l-1.7 -2.1M693 341.5l-1.2 -1.5l1.8 2.3M784.5 264.5l1.9 2.3l1.5 -1.2l1.6 2M770.5 277.1l2.5 2.4l-2.4 0.4M450.6 537.8l-1.9 1.5l1 1.3M544.8 456.3l-1.7 -2.1M609.1 410.7l-0.5 -1.6l-1.9 1.5l-1.4 1.1M622.2 397.8l-1.9 -1.5l0.1 -3.3M747.6 293.2l0.7 -1.4l-1.5 1.2M706.3 332.3l-1.2 1l-1.8 1.4l1.8 2.2M623.3 396.1l1.5 1.9M760.7 284.4l-1.3 -1.6l0.2 1.9M600 415.3l-0.9 -1.2l-1.1 0.9M776.2 272.5l1.2 -0.8M530.1 469.8l1.5 0.6M495.8 496l-1.1 -1.5l-1.2 0.9M759.1 287.7l2.4 -2l0.2 1.8l2 -1.6M509.2 486.8l-1.8 1.5M471.6 519.1l1.8 -0.3M439.6 543.8l1.7 2.1M453.3 530.4l0.3 3.4l1.6 2M581.2 433.3l-1.7 -2.1M478.8 513.3l-1.1 -0.5l1.8 2.9l-0.9 0.9M635.6 384.4l-1.8 -2.2l1.2 -1l2.4 -2M721.2 315.4l-3.1 1.2l-1.3 1.1M728.8 311.9l1.2 -1l-1.1 0.9l-1.3 -1.7M667.9 359.5l-2.5 2l-1.6 1.3M511 486.3l1.9 2.3M631 386.6l-0.3 3.3M576.9 435.6l-1.9 -2.3M709 329.4l-2 -0.6l1.7 2.3l-1.7 1.3M606.6 411.8l-0.3 -2.2l-1.2 -1.5l1.7 -0.4M458.9 527.7l-2 1.6l0.9 1.1l-1.1 0.6M644.1 382.9l2.1 -1.7l1.5 -3.1M747.4 298.6l0.4 2.2l0.1 -2.6M689 346.6l2 -1.6l-2.5 2l-1.4 2.7M620.6 396.1l2 1.1l-1.2 0.9l1.4 -0.3M532.7 469.8l0.5 -2.7l-2.5 2M572.3 438.7l-2 1.6l-1.4 1.2M677.2 350.9l-1.1 -1.4l1.4 -1.1l-1 -1.1M692.5 342.7l1.8 -1.5l-2.1 -2.3l-1.3 -2.5M742.5 302.4l-1.9 1.5l-1.8 1.5M454.6 532.4l0.8 1M547 454.4l1.3 -1.8M514.2 482l1.1 1.3M509.6 489.9l1.7 -1.3M689.4 343.4l2.4 -2.4l-1.1 0.9l1.4 1.7M580.6 430.4l1.1 -0.9l2 -1.1M528 476.2l1.2 -1.6l-1.7 -0.1l1.4 2.5M438.9 543.5l-1.3 -2.7l-1.3 1l2.1 -2.3M601.3 410.9l1.1 1.6l-2 0.6l-0.9 -1.1M732.2 305.7l-1.5 1.2M635.4 385.1l1.5 -1.2M654.4 373.6l-1.5 -3.1l0.8 -1.1l-2.1 1.7M714.1 322.4l1.6 2M618.4 402.4l0.6 1.6l0.8 1.5M792.3 262.7l0.8 1.7M662.8 365.5l2.4 -1.9M601.6 413.9l3.2 1.2l2.1 0.8l-1.7 -2.1M541.4 462.9l-1 0.8M553.6 455.3l-1.3 1.1l-2.1 -2.6l1.4 1.7M496.6 507.1l-0.8 -1M483.1 519.5l1.3 -1.8M587.6 435.9l-2 -2.5M522.9 484.3l-2.3 1.8M721.9 326.5l-1.8 1.5l-3.2 -0.5l1.7 -1.4M636.9 394.9l-0.3 3.3M646 385.4l1.6 -1.3l3 0.4l-1.7 -2.2M625.9 400.9l-2.2 1.7M538.1 474.1l-1.3 1l-1.2 -1.3M497.2 506.7l-1.9 -0.2l1.8 -1.5M670.9 366.1l1.5 1.9l1.8 2.2l1.2 1.1M477.6 524.2l2.3 -1.8l1.2 -3M623.8 406.1l-1.6 1.3l-2.1 -2.6l-1.9 -2.3M648.6 381.9l2 2.5l1.4 1.7l1.8 -1.5M519.6 490.3l-2.2 1.7M478.3 521.1l0.2 -2.3M697.7 347.6l-0.4 3.4M596.9 426.5l-2.9 -1.8l0.1 1.9l1.6 2M707.4 336.9l1 1.3l0.5 -2.1l1.6 0.7M624.4 405.3l0.8 2M498 505l0.4 -3.4l-2.4 1.9M666.8 367.6l2.1 -1.7M486 513.5l2.2 -1.8l-0.8 1.5l-2.2 -1.4M542.7 467l-1.8 -2.3l2.6 -2.1l-2.3 1.9M632.5 399.4l2.4 -1.9M671.6 364.9l1.5 0.6l-2.4 1.9M656.5 375.1l2.7 -2.1M650.3 381.2l-2.2 1.3l-1.6 1.3M584.3 438.7l-1.5 -1.5M558.2 454.6l0.1 2.4l-2.2 -1.5M667.9 367.4l-1 -1.3M726.1 319.9l1.4 0.2l1.3 -1.1M657.1 377.9l-1.3 -0.5l1.8 -1.5l1.3 0.5M635.5 394.2l1.6 -1.3M715.4 332.9l2.3 -0M603 421.2l-2.7 2.2l-2.5 -1l0.2 2.1M480.8 519.8l2 2.4M668.9 369.1l0.7 1.9l1.3 -0.4l-2.5 2M577.8 442.8l0.5 -2.6M710.8 334.5l-1.6 1.3l1.3 -1l1 -2.1M502 504.4l-1.3 1l-2.1 -2.7M458 537.3l2.7 1.2M590.3 431.3l-2.4 1.7l-1.4 0.2l-2.4 -0.7M663.2 370l2.8 1.4M627.4 402.7l-3.2 -0.3M731.4 317l-1.2 -1.5l2.3 -1.9l2.3 -1.8M487.7 511l1.5 -0.9l1.3 -1l2 0.3M570.4 444.6l0.1 -2.2l1 1.2l1.2 1.6M485.2 517.4l-0.8 -3.1l-0.9 -1.1l-1.6 1.3M634.5 396.1l-0.3 2.4l1.5 -1.2M579.5 441.5l2.1 -1.7M619.4 410.5l2.2 -1.8M455.6 537.4l-1 0.8l1.1 -2.6M500.6 501.7l-2 -1.4M597.5 422.6l0.2 1.6M651.3 379.9l-1.6 -2l1.9 -1.6M537.3 471.5l-1.6 1.3l-2.1 1.7M509.3 493.8l-1.7 0.6l-1.7 1.4l-3 -1.2M590.3 432l2 -1.6l1.6 -1.3M461.4 535.3l2.9 0.3l-2 1.6M708.4 334.3l-1.7 1.4l1.2 -0.9l-1.3 1.1M590.3 432.2l2.3 -1.9M533.5 477.9l1.8 2.2l-1.2 -1l-1.5 1.2M535.7 475.6l1.7 1.8l1.6 1.7M647.4 387.9l1.1 -0.9M603.9 420.4l1.2 1.5l-2.2 -2.7M538.2 474.5l-2.2 1.8M628.6 401.1l1.2 1.5l-1.1 -2.8M491.5 513l-1 -0.7l-2.8 0.2l-1.5 -1.9M541.2 470.7l1 -0.8l-1.4 -1.8M594.4 428.5l-2.8 -0.8l-2.7 2.2l-1.8 -2.2M697.2 343.7l1.7 -1.4M720.9 328.8l-2.1 1.7M559.5 456.3l-1 -1.3M616.7 410.9l-2.2 1.8l1.2 -1M555.8 458.8l2.2 -1.8l1.4 1.7l0.8 1M710 337.4l-2.4 1.9l1.6 -1.3M452.6 541.5l0.1 -1.7l-3 1.4l-1 0.8M552.7 463.5l0.4 2.6l-2.7 -0.3M679.4 360.5l-2.6 2.1M524.3 481.8l-1.3 1.1l-3.3 0.3M540.7 471.3l1.4 -1.1l-1.4 -2.7M606.6 420.2l-2.5 2l3.1 1.6M679.5 362.1l-1.9 1.5l-1.2 -1l-0.6 1.7M480.2 521.5l-1 0.8l-2.2 0M539.5 472.6l1.2 1.5l2.2 2.7l-2 -2.5M509.4 498.8l-0.8 2.5M718.9 327.2l-0.8 2l-2 -2.5l0.2 3.3M641.4 389.4l1.4 -1.1l-1.1 0.9l2 2.8M480.6 517.2l-2.1 1.7l-2.3 1.8l1.9 -1.5M564 454.8l-1.9 1.6M472.5 527.5l-2.3 1.9M732.4 316.9l-3 -1.7l-1.8 -2.9l-0.9 -1.1M727.5 318.5l2.6 1.5l2.6 -2.1M552.8 458.9l1.5 1.6l-2 1.6l-2.4 1.9M725.5 321.1l1 1.2M698 344.8l-0.1 -3.3M622 407.9l1 -0.8l-1 0.8l2.6 -2.1M662.1 376.1l1.4 -1.2l1 1.2l-1.2 3.3M500.9 503.5l-0.8 -1M670.1 366.1l-0.9 -2.4l-2.1 -2.6l-0.9 -1.4M627.7 403.3l-2.2 1.8M558.9 459.1l-1.6 -2l-1.8 -2.3M480.7 518.2l-1.4 1.1l-2.3 -2.2l0.8 -1.2M560.8 452.7l1.1 1.3M531.6 476.5l2.5 -2l2.5 -2.1l2.7 -2.1M573.8 441.8l-1.6 -1.9M583.2 435.8l1.4 -1.1l2.1 2.6l-1.5 1.2M691.4 348.3l-1.2 -1.4l-2.5 -0.4M547.2 464.7l-2.2 1.8l0.7 -2.6M618.3 410l0.8 -1.1l-1.1 -1.4l-2.6 2.1M499 506l1 1.3M601.6 420.6l-2 -2.5M486.2 514.8l2 -1.6l-3.3 0.4l-1.6 -2M533.6 479l1.2 -0.9M558.2 454.6l-0.8 -0.9M572.1 445.7l1.1 -0.9M515.7 489.9l2.2 -1.8M496.5 504.3l-1.5 -0.7M647.3 383l-1.6 -2l-2.4 -0.7M723.1 326.8l2.2 -1.8M582.2 435.6l-2.6 -0.9l1.9 2.3M512.8 492.1l2.9 1.5l1.4 -3.2l-1.4 1.2M707.8 338.2l-1.2 -1.4M471.5 524.2l-1.8 2l-1.5 -1.9M580.9 441.6l-0.9 -1.1l-1.6 -2M689.2 352.6l-2.1 -2.6M472 527.3l1.4 -1.1M576.8 444.1l1.6 -1.3l-2.7 -0.1M556.5 459.5l2.6 -2.1M715.2 329.5l2.2 -0.3l1 -0.8M483.3 519.3l-1.2 0.2l1.1 1.3l-1.5 1.2M535.1 473.2l2.1 -1.7l-1.3 -0.8l2 -1.6M579.2 440.3l-1.1 0.9l0.1 -1.4l-2.2 1.8M489 512.8l-2.4 -0M505.8 497.8l-2.3 1.5M719.7 328.9l1.6 -0.1l-1.8 -2.2l1.8 2.3M524.2 485.5l2.1 1l-0.7 1.8l-1 0.8M695.4 348.6l0.7 -1.5M624.2 403l-2.4 -2M593.8 428.6l0.8 1l2 0.7M731.6 320.2l-1.3 1.1l2.3 -1.9M584.5 436.5l-2 1.6l-2.2 1.8l-2.5 2M670.1 365.5l-1.9 -2.9l0.9 1.1M653.4 382.6l-1.5 -1.9l-2.4 2.4l-2.4 1.9M646.2 384.1l1.8 2.2l2.2 0.6l-1.4 0M594.2 427l-1.9 -2.3l-1.9 -2.3l-2.2 1.7M503.8 502.7l-2 2.5M499.6 501.7l2 -1.6l-2.1 0.4M552.4 459.7l-0.8 -1l-2.1 -2.6l-2.4 -0.3M718.1 328.6l0.4 -1.7M711 333.1l-2 1.6l-1.8 -2.2M531.5 477.2l-0.9 -1.2l2.1 -1.7l-1.3 -1.6M555.5 457.2l-1.1 0.9l0.5 2.1l1.6 -2.6M729.6 320.7l1.5 1.5M522.1 484.6l-0.8 -3.2l2.1 1.1l-1.3 -0.3M693.3 349.3l1.5 -1.7l0.9 -1.6l2.4 -1.9M546.4 466.8l2.1 0.8l-1 -1.2M531.4 478l-0.8 -1.1l-2.1 1.7l-2.9 0.2M597 425l1.2 -0.3l1.3 -1.1l-1.8 -2.2" fill="none" stroke="#989898" stroke-width="0.75"/>
<path d="M328.7 604.8L356.6 582.4M357 581.6L388.7 556.1M390.7 553.9L417.9 532M418.6 531.7L451.7 505.1M452 504L485.2 477.3M486.9 477L498.3 467.8M500.9 465.6L523.6 447.4M525.3 445.6L546.9 428.3M549 426.8L581.9 400.4M581.7 395.6L587.6 390.8M587.5 388.5L593.7 383.6M595.2 381.9L606.1 373.1M607 371.7L625.2 357M626.6 356.5L640 345.8M640.6 344.4L675.4 316.4M675.7 315.9L691.1 303.5M691.3 301.8L725.3 274.4M726.8 273.2L748.5 255.7M749.7 254.1L772.1 236.2M772.5 234.9L797.6 214.7M799.8 213.3L828 190.6M828.6 189.3L857 166.4" fill="none" stroke="#a2a2a2" stroke-width="5.8" stroke-linecap="butt"/>
<path d="M331.2 607.8L334.8 604.9M346 597.2L351 593.2M356.6 577.8L361 574.3M369.8 576.4L376.3 571.2M379.2 560.2L384.1 556.2M389.6 550.6L395.3 546M402.2 540.4L406.6 536.9M411.9 532.1L415.9 528.9M420.1 525.5L426 520.7M433.8 515.1L440 510.1M443.5 506.3L449.1 501.7M462.8 502L467.7 498.1M473.8 482.9L477.9 479.5M485.9 472.4L490.6 468.6M498.9 463.2L502.1 460.7M516.6 458L519.4 455.7M525.3 451.8L531.1 447.1M541.4 438.7L548 433.4M549.1 423.6L556 418.1M562.5 411.5L569 406.2M579.7 407.3L587.4 401.1M589.8 393.1L593.6 390M598.3 376L604.5 371M611.7 373.6L618.9 367.9M625.6 361.2L631.7 356.3M643.6 347.6L646.1 345.6M650.4 330.5L652.8 328.6M656.4 327L663.9 320.9M676 311L680.8 307.1M692.1 296.7L695.4 294.1M710.4 291.9L717.4 286.3M720.2 274.6L723.3 272.1M739.4 266.7L746.3 261.1M753.3 247.5L758.4 243.5M769.2 243.1L774.9 238.4M775.1 227.7L781.2 222.8M790.2 224.7L797.9 218.6M808.4 211.1L813.9 206.7M813.8 196.4L816.4 194.2M832.9 190.3L839.7 184.8" fill="none" stroke="#a6a6a6" stroke-width="2.0"/>
<path d="M586.5 396.2l0.6 -0.9l-2.3 -0.9l0.2 1.1M582.8 398.4l1.4 -1.6l1.2 2.6M581.1 398.6l1.3 1.9l-2.5 -1.5l1.3 0.9M582.1 400.1l1 1.2l-2.1 -0l0.9 1M583.9 401.3l1.2 0.3l-2.1 -1.1l1.2 -0.5M582.5 396.5l-1.3 -0.2M579.6 398.7l1.3 1.5M581.8 399.9l1 -1.3M581 398.1l-1.2 -0.3l-2 -0.3M582.2 400l2.3 -1.7l2.6 0.3M583.4 393.5l1.7 -0.5l-2.5 -0.3l1 1.1M582.2 394.2l-0.6 -0.8M581.4 398.4l1.9 0.9l1.6 2.3M577.4 397.8l-2.6 0.8l-0.8 -1.2M580.4 396.2l-1.2 -2.1M583.1 398.8l-2.5 0.4M578.4 394.9l1.9 -0.9l-1.5 -0M581.9 395.2l-1.9 -1.2M584.1 399.7l-0.9 1M579.4 396.4l-1 -1.4l1.2 -1.9M580.4 396.6l-1.2 2.6l1 -0.6l0 1M584.2 401.2l1.7 -1.7l0.6 -1.7M583.9 397.6l-0.6 1.4l1.1 -2l-0.2 -1.8M584 400.1l0.1 1.2l-2 -1.6M582.7 400.4l-2.2 0.4l2 1.3l-1.7 0.3M583.5 400.6l-2 0.5M578.4 397.7l0.2 -1.9l-1.2 1.2l-0.6 1.2M581.3 396.6l-2.5 -0.2l0.5 -1.2M579.7 400.2l-2.1 -1.3l2.3 1.6M586.5 397.4l2.2 0.5l0.1 1.4M581.9 398.5l-1.7 0.1M577.4 397.7l1.1 -0.1l0.1 1.2M583.3 400.4l2 0.9M583 398.8l1 -1.4M580.6 401.1l-0.9 -1.9l0.3 -1.7l1.5 2.3M581.5 395.6l0.8 1.7l-1.7 1.5M583.7 398l-0.4 -1.5l-1.1 -1.2l-2.3 -1.7M585.1 396.8l0.8 -0.9M585 398.3l-2.5 -0.7l1.2 1.4M584.1 396.6l-1.1 1.8l0 -2.4l-0.4 2.3" fill="none" stroke="#a2a2a2" stroke-width="1.0"/>
<path d="M658.9 327.9l1.9 0.7l0.9 -0.7M578.3 403.7l-1.5 -0.8M434.5 521l1.5 -1.2l1.6 -1.3M566.6 416.8l-1.1 0.8l1.1 -0.9M471.4 490.6l1.3 -1.1M577.4 406.1l-1.3 -1.7M657.8 331.5l1.7 0.6l0.9 1.1M468.8 492.5l-0.9 0.3M456 503.9l0.8 -0.6M784.3 226.7l-1.7 -0.8l-0.8 -0.9M683.6 310.6l1.1 -0.7M619 360.9l0.7 -0.6M703.3 294.4l-0.6 -0.9l1.1 0.5M683 310.6l-1.3 -1l-1.4 1.1M486.2 473l0.7 0.9M435.1 516.1l1 -0.8M609.8 363.7l1.6 -1.3l-1 0.8M419.8 529.1l-0.8 -0.9l0.7 0.9M688.2 301.3l-0.9 -1.1l1.5 0.7M547.6 425.1l-0.7 -0.9M701.5 296.6l0.4 0.8l-0.6 0.9M605.8 374.2l-0.7 1.2l0.9 -0.8M514 459.3l0.6 0.7M633.3 353.3l1 1.2l-1.2 1M524.4 447.9l-1.2 -1.5l1.3 -1.1M476.8 489.1l-1.2 0.3l1.2 0.4M740.2 265.6l0.5 -1.1l1 -0.8M445.7 512.3l-0.8 -1M662.5 330.9l0.1 -1.1M584 387.3l0.6 -1M483.9 479.4l-0.6 0.5M587 395.1l-0.7 0.6M513 451.9l1 -0.8l1.1 1.4M458.7 499.1l1.4 1.1M594.9 380.6l-0.8 1.5l0.8 -0.6M636.7 344.9l1.8 0.1l-0.8 -1M554.5 416.4l-0.7 1.6M616.1 359.2l1.5 -1.2l1 -0.8M443.3 516.8l-0.7 -1.4M573.8 411.4l-0.3 -1.3l1.5 -1.2M586.6 393l-1.3 1l-1.8 -0.2M585.3 392.4l0.6 -1.3l1 1.2M669.1 315.9l1.2 -1M654.7 338.2l-1.5 1.2l-0.8 0.6M523.7 449.4l1.6 -1.3l1.1 -1M633.5 348.6l-1.7 1.3M722.1 273.9l1.2 1.4M734.6 272.5l-0.3 1.8M603.4 372.9l1.2 -0.9M412.5 533.7l-1.1 -1l0.9 1.1M445.1 508.3l-0.4 0.8l-1.3 1M761.8 249.8l-1.9 -0.8M765.8 240.2l0.8 -0.7M526.8 447.2l1.3 -1l-0.1 -1.3M564.7 419l-0.8 0.7l0.7 0.9M456.5 498.9l-0.6 0.5M451.9 502.9l0.3 -0.9l0.7 0.8M634.1 348l1.7 -1.4l-1.2 1M543.2 427.9l0.8 0.7M414.7 532.3l0.8 1.1M478.9 482.5l1.3 1.6l-0.8 0.6M463.2 495l0 -0.8l-1.5 1.2M726.2 270.8l-1.6 1.3l-0.4 0.9M596.2 383.5l1.6 -1.3l0.8 1M482.3 475l-0.3 1.3M734.2 265.4l-1.2 1l-1.2 -0.5M689.1 307.8l1.5 -1.2M563.5 409.8l0.9 -0.7l1.2 -1M533.6 440.6l-1.1 0.9M754.1 255.6l-0.9 0.8l0.7 0.9M792.8 221l-1.3 -1.6M795.9 219.9l-1.5 1.2l1.1 -0.9M464.9 497.4l1.2 1.6l0.7 0.9M601 375.7l1.1 1.3l0.7 -0.6M571 411.7l-0.8 1.5M736 268.6l-0.9 -1.1l1.4 1.2M658.5 333.4l-0 1M471.7 491.3l-1.6 1.3l-0.7 2M446.9 502.6l-1.6 1.3M592.6 378.9l0.5 -1.9M445.5 505l-0.2 -1.2M488 476.9l-1.2 1M633.7 344.5l1.3 0.6l-0.4 -1.9M557.8 421.9l0.9 1.1l0.8 -1.8M557.1 421.7l0.6 0.7M451.1 504.8l1.9 0.1M652 329.5l-0.5 1.1M794.7 219.7l-0.8 -1.1M447.3 511.2l0.5 -1.4M670.1 324.1l-1.1 -1.4M428.5 519.1l1 1.3M634.6 347l1.9 -0.1M545.9 432.7l0.5 1l-0.9 -1.5M562.6 420.6l0.7 0.9l1.4 0.4M780.9 229.6l-0.6 -0.8M616 369.8l-1.5 0.9l0.8 -0.6M572.5 409.6l0.5 0.6M585.9 393.9l0.2 1.5M488.5 470.6l-0.8 1l-1.1 0.9M622.3 365.8l1.2 1.5l-0.7 0.9M526.3 447.6l-0.9 -1.1l-1.7 1.3M598.3 381.9l-1.4 1.2M395.3 545.8l0.5 -1.4M525.3 449.1l-0.7 -0.9l0.9 -0.7M547.3 429.2l1.6 -1.3M643.7 336.3l-0.9 0.7M725.9 278.6l0.9 1.1l-0.9 -1.2M596.7 377.5l0.7 0.9M475.5 484.2l0.5 -0.8l0.9 -0.8M518.6 454l0.5 0.6l-0.6 -0.8M570.8 407.5l0.5 0.9l-1.5 1.2M750.3 251.7l0.8 -0.5M433.6 524l0.7 -0.6M419 533.7l-1.3 -1.6l-0.7 -0.9M503.9 468.9l-1.3 1l1.7 -1.4M439.5 517.6l1.3 1.6l-1.6 1.3M774 233.1l-1.3 1.1l-1.5 0.4M759.8 250.2l0.7 -1.1M737.9 262.4l0.7 0.8M402.8 548.1l1.1 0.5M580.3 394.2l-1.3 1M647.6 334.3l0.4 -2M563.5 416.2l-0.8 0.7M471.9 482.5l-1.4 1.1M514.3 450.5l1.8 -0.4l0.8 1M762.9 243.3l-0.1 2.2M476.2 489.1l1.3 -1M601.9 371.4l-0.7 -0.8l1.4 -1.2M397.7 543l0.7 -0.6M413.1 534.6l-1.6 0.6M759.3 250.1l-1.6 -1.1M738 261l1.2 0.7M715.3 288.1l0.7 -0.6M576.1 408.4l1.2 1.5l-1 0.8M568.9 414.5l0.8 -0.6M748.3 252.3l0.5 0.6M426.4 529.9l-1.3 1.1M607.3 376.2l-1.2 0.9l-1.3 1.1M615.6 359.6l1.8 -0.9l0.2 0.8M464.5 499.7l-0.6 -0.8l1.2 1.5M438.7 512.4l0.5 0.6M566.7 411l-0.5 -0.7M759.8 245.7l1 -0.8M660.7 333.4l0.9 -0.7l-1.5 1.2M548.3 428.7l-1 -1.2M493.6 469.5l1.2 1.5l-0.6 0.6M516.4 457.4l-1.4 1.1M764.2 245.7l-0.3 1.4l1 -0.8M683.6 306.1l1 -0.8M603.2 375.3l-0.7 1.2M780.2 226.9l-0.8 -1M394.5 547.9l-1.5 -1.1M512.2 456.3l-1.3 1l1.8 -0.7M787.3 221.2l0.4 -1.6M459.6 498.4l-1.1 0.9M679.1 307.6l-0.7 0.6M557.5 421.3l-1.4 1.1l-0.8 -1M472.4 485.9l-1.1 -1.1l-2 0.4M555 420.4l-0.5 -1.3l-1.1 0.9M443.6 507.1l0.2 -1.8l0.8 -0.7M604.5 372l1.1 1.4l-0.8 0.7M563.3 420.9l1 -0.8l-1.7 0.5M586.1 386.6l1.3 -0.6M753.6 248.2l-1.7 0.8l1.5 -1.2M568.9 410.3l1.2 1.5l-0.8 0.7M508.8 464.3l-1.6 1.3l1.3 -1.1M441.9 518l1.1 -0.9M426 521.1l1 1.2M753.2 255.6l1.3 -1.7l1.5 0.1M750.2 259.4l0.4 1M523.6 451.1l-0.9 0.7l1.6 -1.3M429.2 518.3l0.9 -0.7l0.7 -1.8M749.2 251.9l1.5 -1.2M686.7 305.6l0.7 -0.6M519.9 444.7l0.9 0.5M678.6 316l1.2 1.5l-0.9 0.3M661.6 331.4l0.6 0.8M406.1 535.7l0.4 1.6M484.5 476.9l0.6 -1.6l0.7 0.9M700.2 298l1.3 0l-1.1 -1.4M416.9 536.2l0.7 -0.5l0.7 0.8M667.5 319.8l2 -0.5M562.3 412.5l-0.6 0.5M461 502.1l1.7 1.1M513.8 456.9l-0.9 0.7M557 425.5l-0.7 -0.9l1.2 1.5M630.5 348.3l-1.7 0.1l1.1 -0.6M592.2 381.9l-0.5 1l0.6 -0.5M404 542.5l1.4 -1.2M556 416.4l1.3 1.7l1.6 0.7M720.9 275.7l1.2 -1.4l-0.8 -0.3M622.3 362.8l1.2 -1M514.1 451.8l1.1 -1M609.9 375.7l-1.6 1.3l0.5 1.7M615.3 365.5l-1.1 0.9l-1 0.7M464.7 491.1l0.7 0.5M637.7 342.2l-1.6 1.2l0.1 -1.9M604.2 372.8l-1.2 1.6l1.5 -1.2M474.7 483.7l1.9 0.9l1 -0.8M543.5 426.5l1 -0.8l-0.9 0.7M658.1 336.1l1.1 -1.5M683.6 313l-0.7 -1l-0.1 1.9M658.7 329.9l-0.8 -1l0.6 0.7M649.5 336.3l-1.1 -1.4l0.9 -0.7M414.7 533.6l-0.3 1M550.2 426.1l-1 0.2M736.3 262.4l0.8 -0.3M551.9 425.1l0.9 -0.7l0.8 1M678.2 313.8l-0.8 -0.9M541 436.8l-0.9 -1.1M753.4 250.3l0.7 0.9M493.2 473.3l-0.8 -0.4l1.2 -0.1M553.3 425.2l-1 0.8M688.7 302.8l-1.3 1.1l-1.6 1.3M768.5 243.9l1.4 1.7M459.9 492.7l-1.2 -1.5M426.5 527.2l-0.8 -1l0.8 -0.7M489.1 472.8l-1.3 1.1M482.5 481.4l-0.8 -1.1M592 378.3l-1.2 -1.7l1.1 -0.9M699.3 295.5l-0.7 -0.9M573.1 408.1l-0.8 0.6l1.2 -1M452.6 498.6l1.3 1.6M620.6 363.8l-0.8 -0.2M669.2 318.2l-1.3 -1.6l1.8 -1.3M481 475.3l-0.5 -1.9M605.9 374.3l-1 0.8M423.8 530l0.9 -0.6l1.3 -1.1M765.9 245.5l-1.5 1M623.2 355.9l1.2 1.6l-1.4 1.5M463.2 498.7l-1.7 -0.4l-0.9 1.7M572.3 410.1l-1.3 -1.6M418.2 534.2l-0.6 1.6l-1.4 1.2M710.9 287.8l-1.5 1.2M462.7 492.3l-1.3 1.1M517 456.4l-1 -1.2l-0.7 0.6M744.1 259.9l-1.5 1.2M436.5 517.3l1.2 -1M579 394.6l-0.9 -1.1M528.1 437.7l-0.7 0.5l0.5 1.3M441.6 509.5l0.9 -0.7l-1.1 0.8M739.1 264.3l1 0.6l1.7 -0.1M701.8 291l-0.8 -1l1.4 -1.1M538.4 435.9l-0.5 -0.8l1.5 -1.2M584.8 396.4l-1.4 1.1M481.3 476l0.8 -0.7M760.1 242.3l-0.9 0.4M783.5 228.2l-1.4 -0.9M611.5 362.5l0.4 1.1M491.8 470.7l0.9 -1.1M612.8 366.3l0.9 -0.7l-0 1.2M779.3 234.3l-1.7 1.4l2 0.9M410.9 532.6l1.6 -1.3l0.1 -1.1M472.1 491.1l-0.5 2.2M586.2 394.1l1 1.2M413.1 534.7l-1.7 0.4l-0.6 -1.8M632.7 353.4l-1.6 -0.8l-2 0.2M624.8 360.3l-0.8 0.6l1.3 -1M560.6 413.9l1.1 -1.4l-1.2 1M793.4 220.1l-1.4 1.1M747.3 254.9l-1 0.8M654.2 331.6l1.3 -1M479.5 486.8l-1.3 1l1.3 1.6M492.6 477.6l-1.3 -1.6l0.6 0.8M482.8 481.1l-0.9 -1.2M788.6 224.7l-0.1 1.2l-1.5 1.2M637 346.1l1.1 1.3l-0.8 0.6M714.5 289.4l1 1.3l-1 -1.3M436.1 519.7l0.7 1.5M723.9 278.5l1 -0.8l1.1 1.3M582.4 401.2l0.9 1.8M740.7 266.7l1.3 1.6l1.1 1.4M417.5 536.7l0.7 -0.6l1 1.3M400.4 540.7l-0.7 -1.4l1.2 -1M527.6 448.7l-0.7 0.5M637.2 342l0.7 -1.2M594.3 387l0.9 -0.7M412.7 534.6l-1 0.8M597 378.8l1.1 0.7M610 370.1l1 -0.8l0.9 -0.7M631.8 357.6l-1.3 1.1l-1.6 -0.6M702.6 296.2l-0.8 -0.9l1.7 0.1M685.8 312.1l-0.3 -1.6l1.6 -1.4M577 403.5l1 -1.3M631.8 354.7l-0.7 -0.9M489.4 477.7l-1.1 0.9M708.9 285.7l0.8 -1.7M692.4 298.5l-1.2 -1.5M481.5 479.3l-1.4 -0.8l1.4 -1.2M441.3 507.9l-0.9 0.7l-0.3 0.8M417.7 526.9l1 -1.5l-0.7 0.6M447.1 511.2l-1.6 1.3M577.6 409.1l-1 -1.2l-1 -1.7M565.1 417.3l0.7 0.5l-1.1 1.7M600.2 371.8l1.2 1.5l0.6 -0.5M529.7 443.4l-1.4 1.1M522.1 448.9l1.6 1.4l0.9 -0.7M564.1 409.1l0.7 0.9M619.3 367.8l1.8 -0.6l-1.6 1.3M603.6 371.6l-0.8 1.5l0.6 -1.1M769.7 236.6l0.9 -0.7M672.6 321.8l0.5 0.6M496.7 473.7l-1.3 -1l1.1 -0.9M684.2 307.5l1.4 0.4l-1.1 -0.2M599.7 375.6l-0.7 -0.9l-0.8 0.7M726.3 279.9l-1.6 -1M569.2 407.6l0.2 1.4M520.1 447.1l-0.8 0.6M481.6 481.8l0.6 0.8l-0.8 0.6M754.8 253.5l1.4 0.9l1.6 -1.3M493.8 469.7l2 -0.9l-1 -1.2M794.6 216.4l1.6 0.3M702 298.9l1.3 0.3M578 405.6l1.2 1.5M635.8 346.8l-1.2 0.9l-1.9 0.1M744.5 262.3l-0.6 0.5M428.8 524.1l-0.3 -1.4l1.6 -1.3M536.4 440.1l0.8 0.2l0.9 1.1M526.7 440.8l1.4 -1.1l-1.5 1.2M588 383.9l0.9 -0.7l-0.9 -1.1M694.8 295.3l0.9 1.1M624.7 361.1l1.2 1.5M661.8 332.7l-0.9 -1.1M768.2 244l0.8 1M553.1 421.4l1.2 -1l2 -0.1M617.4 361.2l1 1.2l1.2 1.5M516.7 447.6l0.4 -1.8M477 481.5l-1.6 1.3l-1.2 -1M457 506.4l-0.7 -1.6M445.7 510l1.6 -1.3l-0.8 1.7" fill="none" stroke="#fff" stroke-width="0.9"/>
<path d="M328.7 604.8L577.2 404.8M586.8 384.8L844.7 177.3" fill="none" stroke="#555" stroke-width="0.7" stroke-dasharray="1.8 2.4"/>
<path d="M319.6 585.4L321.6 583.8M358.9 557.9L360.9 556.3M372.1 543.4L375.4 540.8M401.4 523.6L405 520.7M428 502.9L430.6 500.8M459.3 476.2L461.8 474.2M472.4 466L475.4 463.6M512.3 433.1L514 431.7M536.7 412.2L538.3 410.9M551.9 398.4L555.8 395.2M594.8 367.6L598.6 364.6M614.2 353.2L617.8 350.3M630.9 335.6L635.4 332M664.8 309.8L666.4 308.5M683.3 293.4L687.2 290.2M707.8 277L710.8 274.5M749.8 241L753.3 238.2M767.8 227.2L772 223.8M788.5 209.9L790.7 208.2M824.9 183L827.8 180.7M324.5 591.5L330 587.1M368.9 553.5L373.2 550M395.6 534.7L401.2 530.2M411 522.1L416 518.1M442.9 496.2L449.2 491.1M468 477.7L472.8 473.8M512.4 441.5L515.7 438.8M536.2 419.2L540.7 415.6M562.5 400.2L566.5 397M606.1 386.8L609.2 384.3M634.2 364.2L640.3 359.2M651.8 347.4L657.8 342.6M698.4 310.3L701.3 308M726 291.9L730.5 288.3M764.2 259.9L770.5 254.8M805.6 225.1L808.3 222.9M841.9 194.4L847.2 190.1M338.8 609.3L340.9 607.6M379.2 579.6L381.1 578.1M422.4 542.9L424.3 541.3M461.1 513.9L463.7 511.8M475.9 499.8L478.3 498M519.9 462.9L521.9 461.3M531.6 453.5L535.3 450.5M574.7 419.6L577 417.7M588.2 407.6L591 405.4M603.9 399L607.5 396.1M619.3 383.9L622.4 381.5M639.5 368.1L642.7 365.5M674.4 338.3L677.1 336.1M692.3 328L695.5 325.5M713.1 307.1L717 304M756.3 272.3L759.9 269.4M788.1 247.5L791.1 245.1M829.6 218.2L832.8 215.7M311.2 575.1L315.7 571.5M335.9 552.8L338.5 550.7M356.4 540.5L359.2 538.2M395.6 507.5L399.6 504.3M430.9 477L432.6 475.6M457.8 455.4L461.3 452.6M477.9 439.7L481.6 436.7M502.8 418.7L505.9 416.2M516.8 408.6L518.9 406.9M534.8 394.8L537.7 392.4M573.2 363.9L577.6 360.4M617.1 330.9L619.8 328.7M634.5 317.6L637.4 315.2M658.7 294.4L662.4 291.4M699.7 265.1L703 262.5M726.7 241.6L730.5 238.6M760.3 213.5L763.7 210.7M779.3 200.3L781.7 198.4M824.3 164.7L827.7 161.9" fill="none" stroke="#a8a8a8" stroke-width="1.9"/>
<path d="M484.6 517.6a1.15 1.15 0 1 0 2.3 0a1.15 1.15 0 1 0 -2.3 0M483.6 528.8a1.15 1.15 0 1 0 2.3 0a1.15 1.15 0 1 0 -2.3 0M482.6 540a1.15 1.15 0 1 0 2.3 0a1.15 1.15 0 1 0 -2.3 0M497 507.5a1.15 1.15 0 1 0 2.3 0a1.15 1.15 0 1 0 -2.3 0M496 518.7a1.15 1.15 0 1 0 2.3 0a1.15 1.15 0 1 0 -2.3 0M495 529.8a1.15 1.15 0 1 0 2.3 0a1.15 1.15 0 1 0 -2.3 0M494 541a1.15 1.15 0 1 0 2.3 0a1.15 1.15 0 1 0 -2.3 0M509.4 497.4a1.15 1.15 0 1 0 2.3 0a1.15 1.15 0 1 0 -2.3 0M508.4 508.5a1.15 1.15 0 1 0 2.3 0a1.15 1.15 0 1 0 -2.3 0M507.4 519.7a1.15 1.15 0 1 0 2.3 0a1.15 1.15 0 1 0 -2.3 0M506.4 530.9a1.15 1.15 0 1 0 2.3 0a1.15 1.15 0 1 0 -2.3 0M505.4 542a1.15 1.15 0 1 0 2.3 0a1.15 1.15 0 1 0 -2.3 0M521.9 487.2a1.15 1.15 0 1 0 2.3 0a1.15 1.15 0 1 0 -2.3 0M520.9 498.4a1.15 1.15 0 1 0 2.3 0a1.15 1.15 0 1 0 -2.3 0M519.9 509.6a1.15 1.15 0 1 0 2.3 0a1.15 1.15 0 1 0 -2.3 0M518.9 520.7a1.15 1.15 0 1 0 2.3 0a1.15 1.15 0 1 0 -2.3 0M517.9 531.9a1.15 1.15 0 1 0 2.3 0a1.15 1.15 0 1 0 -2.3 0M516.9 543.1a1.15 1.15 0 1 0 2.3 0a1.15 1.15 0 1 0 -2.3 0M534.2 477.1a1.15 1.15 0 1 0 2.3 0a1.15 1.15 0 1 0 -2.3 0M533.2 488.3a1.15 1.15 0 1 0 2.3 0a1.15 1.15 0 1 0 -2.3 0M532.2 499.4a1.15 1.15 0 1 0 2.3 0a1.15 1.15 0 1 0 -2.3 0M531.2 510.6a1.15 1.15 0 1 0 2.3 0a1.15 1.15 0 1 0 -2.3 0M530.2 521.8a1.15 1.15 0 1 0 2.3 0a1.15 1.15 0 1 0 -2.3 0M529.2 532.9a1.15 1.15 0 1 0 2.3 0a1.15 1.15 0 1 0 -2.3 0M528.2 544.1a1.15 1.15 0 1 0 2.3 0a1.15 1.15 0 1 0 -2.3 0M545.6 478.1a1.15 1.15 0 1 0 2.3 0a1.15 1.15 0 1 0 -2.3 0M544.6 489.3a1.15 1.15 0 1 0 2.3 0a1.15 1.15 0 1 0 -2.3 0M543.6 500.5a1.15 1.15 0 1 0 2.3 0a1.15 1.15 0 1 0 -2.3 0M542.6 511.6a1.15 1.15 0 1 0 2.3 0a1.15 1.15 0 1 0 -2.3 0M541.6 522.8a1.15 1.15 0 1 0 2.3 0a1.15 1.15 0 1 0 -2.3 0M540.6 534a1.15 1.15 0 1 0 2.3 0a1.15 1.15 0 1 0 -2.3 0M539.6 545.1a1.15 1.15 0 1 0 2.3 0a1.15 1.15 0 1 0 -2.3 0M558 468a1.15 1.15 0 1 0 2.3 0a1.15 1.15 0 1 0 -2.3 0M557 479.1a1.15 1.15 0 1 0 2.3 0a1.15 1.15 0 1 0 -2.3 0M556 490.3a1.15 1.15 0 1 0 2.3 0a1.15 1.15 0 1 0 -2.3 0M555 501.5a1.15 1.15 0 1 0 2.3 0a1.15 1.15 0 1 0 -2.3 0M554 512.7a1.15 1.15 0 1 0 2.3 0a1.15 1.15 0 1 0 -2.3 0M553 523.8a1.15 1.15 0 1 0 2.3 0a1.15 1.15 0 1 0 -2.3 0M552 535a1.15 1.15 0 1 0 2.3 0a1.15 1.15 0 1 0 -2.3 0M570.4 457.8a1.15 1.15 0 1 0 2.3 0a1.15 1.15 0 1 0 -2.3 0M569.4 469a1.15 1.15 0 1 0 2.3 0a1.15 1.15 0 1 0 -2.3 0M568.4 480.2a1.15 1.15 0 1 0 2.3 0a1.15 1.15 0 1 0 -2.3 0M567.4 491.4a1.15 1.15 0 1 0 2.3 0a1.15 1.15 0 1 0 -2.3 0M566.4 502.5a1.15 1.15 0 1 0 2.3 0a1.15 1.15 0 1 0 -2.3 0M565.4 513.7a1.15 1.15 0 1 0 2.3 0a1.15 1.15 0 1 0 -2.3 0M564.4 524.9a1.15 1.15 0 1 0 2.3 0a1.15 1.15 0 1 0 -2.3 0M582.9 447.7a1.15 1.15 0 1 0 2.3 0a1.15 1.15 0 1 0 -2.3 0M581.9 458.9a1.15 1.15 0 1 0 2.3 0a1.15 1.15 0 1 0 -2.3 0M580.9 470a1.15 1.15 0 1 0 2.3 0a1.15 1.15 0 1 0 -2.3 0M579.9 481.2a1.15 1.15 0 1 0 2.3 0a1.15 1.15 0 1 0 -2.3 0M578.9 492.4a1.15 1.15 0 1 0 2.3 0a1.15 1.15 0 1 0 -2.3 0M577.9 503.6a1.15 1.15 0 1 0 2.3 0a1.15 1.15 0 1 0 -2.3 0M576.9 514.7a1.15 1.15 0 1 0 2.3 0a1.15 1.15 0 1 0 -2.3 0M595.2 437.6a1.15 1.15 0 1 0 2.3 0a1.15 1.15 0 1 0 -2.3 0M594.2 448.7a1.15 1.15 0 1 0 2.3 0a1.15 1.15 0 1 0 -2.3 0M593.2 459.9a1.15 1.15 0 1 0 2.3 0a1.15 1.15 0 1 0 -2.3 0M592.2 471.1a1.15 1.15 0 1 0 2.3 0a1.15 1.15 0 1 0 -2.3 0M591.2 482.2a1.15 1.15 0 1 0 2.3 0a1.15 1.15 0 1 0 -2.3 0M590.2 493.4a1.15 1.15 0 1 0 2.3 0a1.15 1.15 0 1 0 -2.3 0M589.2 504.6a1.15 1.15 0 1 0 2.3 0a1.15 1.15 0 1 0 -2.3 0M607.6 427.4a1.15 1.15 0 1 0 2.3 0a1.15 1.15 0 1 0 -2.3 0M606.6 438.6a1.15 1.15 0 1 0 2.3 0a1.15 1.15 0 1 0 -2.3 0M605.6 449.8a1.15 1.15 0 1 0 2.3 0a1.15 1.15 0 1 0 -2.3 0M604.6 460.9a1.15 1.15 0 1 0 2.3 0a1.15 1.15 0 1 0 -2.3 0M603.6 472.1a1.15 1.15 0 1 0 2.3 0a1.15 1.15 0 1 0 -2.3 0M602.6 483.3a1.15 1.15 0 1 0 2.3 0a1.15 1.15 0 1 0 -2.3 0M601.6 494.4a1.15 1.15 0 1 0 2.3 0a1.15 1.15 0 1 0 -2.3 0M620 417.3a1.15 1.15 0 1 0 2.3 0a1.15 1.15 0 1 0 -2.3 0M619 428.4a1.15 1.15 0 1 0 2.3 0a1.15 1.15 0 1 0 -2.3 0M618 439.6a1.15 1.15 0 1 0 2.3 0a1.15 1.15 0 1 0 -2.3 0M617 450.8a1.15 1.15 0 1 0 2.3 0a1.15 1.15 0 1 0 -2.3 0M616 462a1.15 1.15 0 1 0 2.3 0a1.15 1.15 0 1 0 -2.3 0M615 473.1a1.15 1.15 0 1 0 2.3 0a1.15 1.15 0 1 0 -2.3 0M614 484.3a1.15 1.15 0 1 0 2.3 0a1.15 1.15 0 1 0 -2.3 0M632.5 407.1a1.15 1.15 0 1 0 2.3 0a1.15 1.15 0 1 0 -2.3 0M631.5 418.3a1.15 1.15 0 1 0 2.3 0a1.15 1.15 0 1 0 -2.3 0M630.5 429.5a1.15 1.15 0 1 0 2.3 0a1.15 1.15 0 1 0 -2.3 0M629.5 440.7a1.15 1.15 0 1 0 2.3 0a1.15 1.15 0 1 0 -2.3 0M628.5 451.8a1.15 1.15 0 1 0 2.3 0a1.15 1.15 0 1 0 -2.3 0M627.5 463a1.15 1.15 0 1 0 2.3 0a1.15 1.15 0 1 0 -2.3 0M626.5 474.2a1.15 1.15 0 1 0 2.3 0a1.15 1.15 0 1 0 -2.3 0M644.9 397a1.15 1.15 0 1 0 2.3 0a1.15 1.15 0 1 0 -2.3 0M643.9 408.2a1.15 1.15 0 1 0 2.3 0a1.15 1.15 0 1 0 -2.3 0M642.9 419.3a1.15 1.15 0 1 0 2.3 0a1.15 1.15 0 1 0 -2.3 0M641.9 430.5a1.15 1.15 0 1 0 2.3 0a1.15 1.15 0 1 0 -2.3 0M640.9 441.7a1.15 1.15 0 1 0 2.3 0a1.15 1.15 0 1 0 -2.3 0M639.9 452.9a1.15 1.15 0 1 0 2.3 0a1.15 1.15 0 1 0 -2.3 0M638.9 464a1.15 1.15 0 1 0 2.3 0a1.15 1.15 0 1 0 -2.3 0M657.2 386.9a1.15 1.15 0 1 0 2.3 0a1.15 1.15 0 1 0 -2.3 0M656.2 398a1.15 1.15 0 1 0 2.3 0a1.15 1.15 0 1 0 -2.3 0M655.2 409.2a1.15 1.15 0 1 0 2.3 0a1.15 1.15 0 1 0 -2.3 0M654.2 420.4a1.15 1.15 0 1 0 2.3 0a1.15 1.15 0 1 0 -2.3 0M653.2 431.5a1.15 1.15 0 1 0 2.3 0a1.15 1.15 0 1 0 -2.3 0M652.2 442.7a1.15 1.15 0 1 0 2.3 0a1.15 1.15 0 1 0 -2.3 0M651.2 453.9a1.15 1.15 0 1 0 2.3 0a1.15 1.15 0 1 0 -2.3 0M650.2 465.1a1.15 1.15 0 1 0 2.3 0a1.15 1.15 0 1 0 -2.3 0M669.6 376.7a1.15 1.15 0 1 0 2.3 0a1.15 1.15 0 1 0 -2.3 0M668.6 387.9a1.15 1.15 0 1 0 2.3 0a1.15 1.15 0 1 0 -2.3 0M667.6 399.1a1.15 1.15 0 1 0 2.3 0a1.15 1.15 0 1 0 -2.3 0M666.6 410.2a1.15 1.15 0 1 0 2.3 0a1.15 1.15 0 1 0 -2.3 0M665.6 421.4a1.15 1.15 0 1 0 2.3 0a1.15 1.15 0 1 0 -2.3 0M664.6 432.6a1.15 1.15 0 1 0 2.3 0a1.15 1.15 0 1 0 -2.3 0M663.6 443.7a1.15 1.15 0 1 0 2.3 0a1.15 1.15 0 1 0 -2.3 0M662.6 454.9a1.15 1.15 0 1 0 2.3 0a1.15 1.15 0 1 0 -2.3 0M682 366.6a1.15 1.15 0 1 0 2.3 0a1.15 1.15 0 1 0 -2.3 0M681 377.8a1.15 1.15 0 1 0 2.3 0a1.15 1.15 0 1 0 -2.3 0M680 388.9a1.15 1.15 0 1 0 2.3 0a1.15 1.15 0 1 0 -2.3 0M679 400.1a1.15 1.15 0 1 0 2.3 0a1.15 1.15 0 1 0 -2.3 0M678 411.3a1.15 1.15 0 1 0 2.3 0a1.15 1.15 0 1 0 -2.3 0M677 422.4a1.15 1.15 0 1 0 2.3 0a1.15 1.15 0 1 0 -2.3 0M676 433.6a1.15 1.15 0 1 0 2.3 0a1.15 1.15 0 1 0 -2.3 0M675 444.8a1.15 1.15 0 1 0 2.3 0a1.15 1.15 0 1 0 -2.3 0M694.5 356.4a1.15 1.15 0 1 0 2.3 0a1.15 1.15 0 1 0 -2.3 0M693.5 367.6a1.15 1.15 0 1 0 2.3 0a1.15 1.15 0 1 0 -2.3 0M692.5 378.8a1.15 1.15 0 1 0 2.3 0a1.15 1.15 0 1 0 -2.3 0M691.5 389.9a1.15 1.15 0 1 0 2.3 0a1.15 1.15 0 1 0 -2.3 0M690.5 401.1a1.15 1.15 0 1 0 2.3 0a1.15 1.15 0 1 0 -2.3 0M689.5 412.3a1.15 1.15 0 1 0 2.3 0a1.15 1.15 0 1 0 -2.3 0M688.5 423.5a1.15 1.15 0 1 0 2.3 0a1.15 1.15 0 1 0 -2.3 0M687.5 434.6a1.15 1.15 0 1 0 2.3 0a1.15 1.15 0 1 0 -2.3 0M706.9 346.3a1.15 1.15 0 1 0 2.3 0a1.15 1.15 0 1 0 -2.3 0M705.9 357.5a1.15 1.15 0 1 0 2.3 0a1.15 1.15 0 1 0 -2.3 0M704.9 368.6a1.15 1.15 0 1 0 2.3 0a1.15 1.15 0 1 0 -2.3 0M703.9 379.8a1.15 1.15 0 1 0 2.3 0a1.15 1.15 0 1 0 -2.3 0M702.9 391a1.15 1.15 0 1 0 2.3 0a1.15 1.15 0 1 0 -2.3 0M701.9 402.2a1.15 1.15 0 1 0 2.3 0a1.15 1.15 0 1 0 -2.3 0M700.9 413.3a1.15 1.15 0 1 0 2.3 0a1.15 1.15 0 1 0 -2.3 0M699.9 424.5a1.15 1.15 0 1 0 2.3 0a1.15 1.15 0 1 0 -2.3 0M719.2 336.2a1.15 1.15 0 1 0 2.3 0a1.15 1.15 0 1 0 -2.3 0M718.2 347.3a1.15 1.15 0 1 0 2.3 0a1.15 1.15 0 1 0 -2.3 0M717.2 358.5a1.15 1.15 0 1 0 2.3 0a1.15 1.15 0 1 0 -2.3 0M716.2 369.7a1.15 1.15 0 1 0 2.3 0a1.15 1.15 0 1 0 -2.3 0M715.2 380.8a1.15 1.15 0 1 0 2.3 0a1.15 1.15 0 1 0 -2.3 0M714.2 392a1.15 1.15 0 1 0 2.3 0a1.15 1.15 0 1 0 -2.3 0M713.2 403.2a1.15 1.15 0 1 0 2.3 0a1.15 1.15 0 1 0 -2.3 0M712.2 414.4a1.15 1.15 0 1 0 2.3 0a1.15 1.15 0 1 0 -2.3 0M730.6 337.2a1.15 1.15 0 1 0 2.3 0a1.15 1.15 0 1 0 -2.3 0M729.6 348.4a1.15 1.15 0 1 0 2.3 0a1.15 1.15 0 1 0 -2.3 0M728.6 359.5a1.15 1.15 0 1 0 2.3 0a1.15 1.15 0 1 0 -2.3 0M727.6 370.7a1.15 1.15 0 1 0 2.3 0a1.15 1.15 0 1 0 -2.3 0M726.6 381.9a1.15 1.15 0 1 0 2.3 0a1.15 1.15 0 1 0 -2.3 0M725.6 393a1.15 1.15 0 1 0 2.3 0a1.15 1.15 0 1 0 -2.3 0M724.6 404.2a1.15 1.15 0 1 0 2.3 0a1.15 1.15 0 1 0 -2.3 0M742 338.2a1.15 1.15 0 1 0 2.3 0a1.15 1.15 0 1 0 -2.3 0M741 349.4a1.15 1.15 0 1 0 2.3 0a1.15 1.15 0 1 0 -2.3 0M740 360.6a1.15 1.15 0 1 0 2.3 0a1.15 1.15 0 1 0 -2.3 0M739 371.7a1.15 1.15 0 1 0 2.3 0a1.15 1.15 0 1 0 -2.3 0M738 382.9a1.15 1.15 0 1 0 2.3 0a1.15 1.15 0 1 0 -2.3 0M737 394.1a1.15 1.15 0 1 0 2.3 0a1.15 1.15 0 1 0 -2.3 0M753.5 339.2a1.15 1.15 0 1 0 2.3 0a1.15 1.15 0 1 0 -2.3 0M752.5 350.4a1.15 1.15 0 1 0 2.3 0a1.15 1.15 0 1 0 -2.3 0M751.5 361.6a1.15 1.15 0 1 0 2.3 0a1.15 1.15 0 1 0 -2.3 0M750.5 372.8a1.15 1.15 0 1 0 2.3 0a1.15 1.15 0 1 0 -2.3 0M749.5 383.9a1.15 1.15 0 1 0 2.3 0a1.15 1.15 0 1 0 -2.3 0M764.9 340.3a1.15 1.15 0 1 0 2.3 0a1.15 1.15 0 1 0 -2.3 0M763.9 351.4a1.15 1.15 0 1 0 2.3 0a1.15 1.15 0 1 0 -2.3 0M762.9 362.6a1.15 1.15 0 1 0 2.3 0a1.15 1.15 0 1 0 -2.3 0M761.9 373.8a1.15 1.15 0 1 0 2.3 0a1.15 1.15 0 1 0 -2.3 0M776.2 341.3a1.15 1.15 0 1 0 2.3 0a1.15 1.15 0 1 0 -2.3 0M775.2 352.5a1.15 1.15 0 1 0 2.3 0a1.15 1.15 0 1 0 -2.3 0M774.2 363.6a1.15 1.15 0 1 0 2.3 0a1.15 1.15 0 1 0 -2.3 0" fill="none" stroke="#949494" stroke-width="0.75"/>
<path d="M644 474.5L670 466L700 443.5M612.5 498L640 487L672 465.5M706 442L722 437.5M744 414L752 411.5" fill="none" stroke="#a0a0a0" stroke-width="0.55"/>
<path d="M249 549L290 564.7M248 550.2l1.6 -2.2l1.5 0.6M252 546.1L291.6 561.6M251 547.3l1.6 -2.2l1.5 0.6M255 543.3L299.7 561.1M254 544.5l1.6 -2.2l1.5 0.6M258 540.4L304.9 559.5M257 541.6l1.6 -2.2l1.5 0.6M260.9 537.6L301.8 554.5M259.9 538.8l1.6 -2.2l1.5 0.6M263.8 534.7L313.3 555.6M262.8 535.9l1.6 -2.2l1.5 0.6M266.7 531.9L314.4 552.4M265.7 533.1l1.6 -2.2l1.5 0.6M269.4 529L312.4 547.8M268.4 530.2l1.6 -2.2l1.5 0.6M272.1 526.1L314.5 545M271.1 527.3l1.6 -2.2l1.5 0.6M274.7 523.3L308.7 538.7M273.7 524.5l1.6 -2.2l1.5 0.6M277.3 520.4L310.6 535.8M276.3 521.6l1.6 -2.2l1.5 0.6M279.7 517.6L321.7 537.3M278.7 518.8l1.6 -2.2l1.5 0.6M282.1 514.7L321.9 533.8M281.1 515.9l1.6 -2.2l1.5 0.6M284.3 511.9L323.9 531.1M283.3 513.1l1.6 -2.2l1.5 0.6M286.5 509L320 525.6M285.5 510.2l1.6 -2.2l1.5 0.6M288.6 506.1L326 524.9M287.6 507.3l1.6 -2.2l1.5 0.6M290.7 503.3L326.4 521.5M289.7 504.5l1.6 -2.2l1.5 0.6M292.6 500.4L325.8 517.6M291.6 501.6l1.6 -2.2l1.5 0.6M294.6 497.6L324.7 513.5M293.6 498.8l1.6 -2.2l1.5 0.6M296.5 494.7L329.9 512.7M295.5 495.9l1.6 -2.2l1.5 0.6M298.3 491.9L332.6 510.6M297.3 493.1l1.6 -2.2l1.5 0.6M300.2 489L332.5 506.9M299.2 490.2l1.6 -2.2l1.5 0.6" fill="none" stroke="#989898" stroke-width="0.6"/>
<path d="M285.5 514.7l0.8 1M303.3 520.6l0.9 -0.8l1.7 -2.3M313 534.8l-1 -1.2l-0.2 3.3l0 -1.3M333 496.3l-0.9 -1.8l2.4 1l-1.6 -0.6M334.5 516l0.2 1.5l-1.8 2l-1.1 -1.6M326.2 521.3l2.2 -1.8l1.3 1.7M347.8 481.7l0.8 -1.9M310.3 521.5l2.2 2.7l-1 2.2l1.2 1.9M313.1 539.3l0.8 2.7l2 1.6M291.8 512.3l0.4 2l1.3 1.2M291.8 528.7l-0.4 -2l1.2 -1l0.6 -1.9M283.3 541.5l2.8 0.1l2.5 2.2M276.1 522.3l0.1 -1.7l-0.1 -1.7l3.2 -1M337.4 513.5l0.2 -3.4M326.7 501l-3.1 -1.6l2.8 -1.3l3.1 0.5M290.4 501.5l1.5 1.8l-2.5 2l1.1 -1M302 490l-1.4 -2.5l-1.6 1M337.6 488.2l-1.5 1.9M325.8 523.1l2.6 -2.1M357 490.7l1.4 -1.2l1 3.3l-1.7 -2.1M324.2 478.8l0.7 2.1l-0.2 -1.5l-0.7 -3.3M301.6 498.9l-0.6 -1.4M348.1 489.5l0.7 -1.8M347.5 484l-1.7 -0.2l-1.9 2.3l-0.2 3.5M348.3 479.8l-1.2 1.2l-2.2 -2.7M325.7 521.4l2.7 -2.2l-0.8 -0.9l-2.7 2.2M297.4 500.7l1.3 -1l2.6 -1.7M330.1 464.3l3.1 -0.1M315 490.3l-3.2 -0.1l1.5 -0.9M298 495.5l-1.6 -1.8M341.7 498.7l0.8 -1.9M277.4 532.9l0.1 -1.7l0.3 1.5M297.4 519.1l-2.6 1.7l-3.1 1.3M328.2 460.2l1.3 0.9l-1.9 -2.4l-1.8 1.5M330.1 472.3l2.3 -1.7M331.9 517.2l-0.7 1.1l0.9 1.1M320.7 494.7l0.9 -1.4l-0.8 -1.7l2.4 2M313.4 535.1l2.7 0.5l1.2 -1M329.5 467.2l-2.1 0.4M327.4 519.8l-1.1 -1.2l1.5 -0.5l1.4 -2.5M277.9 528.4l-1 0.8l-1.4 1.1l-1.2 0.3M315.2 493.3l-0.6 1.2l0.1 -1.3l-2.4 -1M274.9 520.9l-2.5 0.3l2.8 -1.4M317.5 475.3l-1.8 -1.8M347.8 491.5l0.9 0.9l-2.3 -0.1M293.2 541.8l1.5 -1.1M323.9 490.2l0.1 -2.8M284.5 528.9l1.7 -1.4M315.7 517.1l1.7 -1.1l-2.9 -0.5M276.4 528l2.2 -1.4l-1.2 0.3M300.4 527.5l-2.3 1.9l1.2 -2.1l-1.9 -0.1M289.4 533.5l-2.2 -0.1l-1.3 -1.5l-2.8 -1.9M295 524.9l-0.1 1.5M338 502.6l0.9 -2.5l-1.2 -1.5M351.7 498.8l-1.8 -0.6l3 1l-1.5 0.5M318 529.4l-2.9 0.5l-0.8 -3.1M274.9 525.6l0.3 1.9l-1.6 0.3l2.7 -2.1M316.7 509.5l2.2 2.7l-2.5 2M286.2 539.3l2.9 -1.8M318.9 524.8l-1.6 0.3M303.2 487l-0.9 -3.2l-2 -0.5M269.2 533.5l-2.2 1.7l2.2 -0.3l-2.6 2.1M326.7 472.1l0.8 3l-0.5 2M276.2 536l-1.5 -1.6M337.9 501.4l2.2 1.1l-1.1 -1.3M321.9 527.4l-1.3 1.3M343.2 483.9l1.3 -1.4l3 1.4l1.4 -0.1M325 501.8l1.9 0.3l1.2 -1.4M283.2 545.8l-0.4 -3.2l-3.1 1l-1.4 1.1M308.7 518l3.2 0.8l-0.6 2.4M293.3 504.4l1.5 1.5M327.2 526.4l-1.3 1l-3.3 0.9l-2.8 -1.3M330.2 520.6l2.7 -2.2M301 488.1l-0.6 -1.9M309 516.9l-2.4 1.9l-2.9 -0.2M302.6 528.2l2.3 0.4l1 -0.8l3.4 -0M323.8 476.2l2.8 -1.5M305.5 502.7l1.4 0.1l1.1 1.4M325.4 478.3l-1.4 1.5l-3.3 0.1l-2.2 -2.7M310.9 494.1l1.4 0.5M306.2 535.7l-2.3 -1l1.4 -1.2M301.1 538.7l-1.4 1.2M294.1 518.8l2.4 -0.4l-1.8 1.8l-0.5 -3M320.3 528.9l2.2 -2.2M312.9 476l-2.7 2.2l0.3 2.3M286.6 540.9l3.2 0.7l1.8 0.6M309.1 497.7l-1 -2.1l1.5 1.9M329.4 474.6l0.4 2.9l0.6 -3.3l-0.8 -1.8M328.9 479.6l2.4 -1.5l2.1 0.8M297.1 499.9l-0.9 1.1l1.6 -1.3l-1.3 -2.3M332.8 519.7l-0.9 1.8l2.1 -0.6l-2.9 0.1M268.1 535l1.1 -0.9M325.7 463.2l2.4 -2M325.8 474.6l0.8 -1.2l2 -1.6l1.1 1.4M288.3 528.4l-2 1.6M332.8 503l1.6 0.2l-1.3 3.1M324.8 505.7l-0.9 3.1M296.6 509.3l1.4 2.7l2.1 -0.9M276.9 531.4l1.8 -2.5l1 -1.2l2.1 2.5M298.1 508.5l1.4 -1.5l1.3 -1.5l3 1.4M357.9 505.1l-3.1 0.4l0 -1.2M296.3 498.4l0.7 3.2l-2.9 -0.8M323 522.4l-1.7 -2.6l-1.4 -1.8M292.5 510.9l0.4 -1.8l0.3 -2l-2.7 0.4M333.9 522.6l-0.7 1.8l-1.6 -2M306.2 496.3l-2.3 -0.6l-1.3 -1.6l-0.2 -2.8M345 506.9l1.1 -0.9l-2.9 1.9l-3 0.5M296.3 518l-1.7 -0.4M314.9 473.4l0.8 1l0.3 -2.8l2.5 -2M338.5 479.5l-1.3 1.1M297.1 532.9l-2 2.1l3.1 0.4M337.2 487.7l1 2l0.3 1.9M319.2 509.4l0.7 -1.2M344.4 495.8l-1.6 -2.9l0.2 -1.7M285.1 535.3l-1.8 2.2l-0.7 -2l-0.1 -2.3M285.9 535.3l1.2 -0.6l-1 -1.2l-2.9 -1.6M318.1 485.4l1 2M307.7 527.4l1.7 -1.4M335.8 486.5l3 1.8l0.3 2.1l-0.6 -1.8M299.1 534.9l0.9 -1l-1.2 1.1l2 2.4M338.1 513.3l1.3 3.1M308.3 515.6l1.4 1.5l1.2 -2.6l0.9 1.4M338.9 507.3l0.8 -2.1M317.9 495.2l2.4 -1.9l1.1 2.3l-0.4 -1.5M339.3 517.2l-2 0.7l1.9 2.8l2 -0.6M322.4 528.2l1.3 -0.9l-1.6 2.5M307 499l2.7 -0.6M322.7 480.8l-0.6 3.1l2.1 2.5l-2.8 -0.2M328.8 465l-0.7 -1.2l-0.7 -1.3l2.1 2.4M319.3 489.1l-1.5 0.4l1.3 -1.7M323.2 509l1.5 -0l-1.2 -2.8l-0.5 3.2M329.5 473.3l-2.1 1.1l-1.2 -1.4M283.8 547.6l2.3 0.3M336.9 499l2.5 -1.9l-1.8 1.5l-0.4 -2.6M335.9 482.2l0.8 1M337.3 471l1 -0.8l1.6 2l1.6 2.7M277.2 541.6l0.3 1.4l1.5 -1.9M304.9 500.9l2 2.5l-1.8 -2.2l-0 -3M341.3 484.7l2.6 1.2M352.2 509.4l2 2.7M302.7 496.6l1.2 1.4M353.6 492.9l0.6 -1.2l1.4 2.6M315.4 511.8l-1.7 -1.2M274.6 524.5l-1.7 -2l-0.6 -1.2M320.2 496l-1.7 1.4l-2.3 1.3M318.2 486.9l1.2 -1.3l1.5 -1.2M309.5 545.3l2.7 1.2l0.1 2l1.5 1.9M273.6 530.7l2.1 -0.5l0.3 -1.2l-1.8 0.8M302.7 502.3l-3.1 1.5l0.8 1l-2 1.4M302.3 532.9l0.1 -2.2l2.7 2.1M343.8 491.4l-1.7 1.4M320.3 511.4l1.1 0.6M300.1 504.1l1.7 -1.4M319.7 486.9l-1.1 0.9l-0.3 1.7M328.1 506.3l-1.2 -1.5l0.1 1.5M299.2 546.5l1.3 1.6M306.9 485.9l1.7 2.1l2.2 -1.7l2.9 1.3M342.3 472l1.9 2.4l0.6 -2l2 1.1M298 526.3l-0.7 -2.6l1.9 2.3l0.5 2.9M303.6 505.1l2.9 -0.2M321.7 486.4l-3.1 0.5l2.1 -1.7l-2.4 -2.4M329.6 501.5l-0.1 -2.4l1.7 -1.9l-1.6 -2M330.8 501.3l-1.9 1.1l-2.7 0.1M336.9 483.7l-2 -2.5l-1.6 -0.9l1.5 -0.7M266.8 531.6l1 -2.1l2.3 -2.4l2.2 -1.7M323.5 500.9l0.5 -1.1M308.5 544.6l0.9 2.9l-1.2 0.8l-0.3 1.7M296.8 539l2.1 2.1M355.6 497l-1.1 1.3l0.5 2.5l1.5 -2M330.9 476.8l-2.8 1.8l-1.6 1.3" fill="none" stroke="#989898" stroke-width="0.8"/>
<path d="M317 514.6l0.7 1.7l3.4 -0.3l-1.4 -2.7M319.2 507.3l-2.7 -0.6M314.4 519.2l0.4 -2.6l2.2 0.9l0.3 2M319.8 509l-2 -2.4l2 2.4l-2.5 2M313.4 519.7l-2.5 2.3l-1.5 0.4l-0.2 2.6M306.2 518l0.7 1.8M311.6 516l2.6 -2.1l2 -1.6l1 1.3M319.2 520.9l0.4 -1.6l1.6 -1.2l-0.7 -3.1M314 521.2l-1.3 -1.3l-1.2 -3.3M307.8 518.2l-1.6 -2l2.3 -2.2M314.5 516.7l-1 3M313.4 516.7l-0.9 -1.1l1.5 1.9M311.9 513.9l-1.4 1.2l-1.6 1.2l-3.1 -0.8M318.1 523.9l2 0M319.8 520.6l-2.7 1.8l2.6 -0.4M318.9 510.5l0 -1.6M308.7 519l-1.2 0.9l-1.4 0l2.3 -1.8M315.5 522.9l2.1 -0.9M303.8 519.2l-0.8 2.4M313.4 513.5l2.3 0.3l1.1 -3M309.4 520.6l1.3 1.6l-0.6 1.4M315.8 509.9l-1.6 0.8M314.1 518.6l-2.3 0.7M317.8 509.9l0.4 2.5l2.4 -2l1.6 -0.5M316.3 512.7l-1.3 0.3M307.5 518.1l1.1 0.8l-1 1l-1.3 1M318.8 522.9l-3.2 -1.3l2.5 0.4M315.5 511.6l-0.9 1.7l-1.7 2.7l2.2 2.7M315 509.4l-0.6 1.1M316.7 517.3l1.6 2.1l1.5 0.5M317.6 515.2l1 2.1M306.1 517.8l1.7 -1.4l1.1 0.6M312.2 512.8l0.3 -1.8M301.3 523l0.8 0.9l-1.4 0.5M313.1 520.8l-0.8 -2.4M311.7 521.9l-1.2 2.3l-1.1 0.7M307.7 519.3l-1.7 -1.7l0.4 -3l2.7 1.2M305.6 521.7l0.8 1l-0.8 -2.2l-1 -2.2M318.5 508.7l-1.1 -0.6l-1.7 0.9l-1.9 1.5M318.3 519.7l1.5 1.8l-0.9 -1.4M314.7 513.3l-2.7 0.2l1.9 2.4l1.6 0.3M301.2 523.8l-2.5 -1.5l1.5 -0.1M304.7 524l1.4 1.7l-0.4 -2.3l-1.3 -0.2M308 522.5l1.8 1.7l-1.3 0.2l2 2.5M319.2 511.9l-2.2 -2.7l0.9 -0.9M313.9 511.3l-1.2 1.9l2.4 -2.1l0.4 1.3M312.3 518.2l-1 -0.7M312.6 517.3l1.5 1.4l-1.6 -2.1l1.2 -1M308.9 517.4l-1.5 1.5M318.8 516.1l0.9 2.9M312.1 522.7l-1.8 3l0.5 1.8M309.9 519.8l-1.2 3.2l2.1 2.8M316.8 517.6l1.9 2.4l-2.8 0.8l-1.2 -0M306.2 517.7l1.9 1M313.1 517.7l0.7 1.5l-1.5 -1.9l-2.6 1.1M318.2 508.4l-1.8 0.4l1.4 2.4M315.4 521.2l-1.9 1.5M300 523.1l2.6 2M306.9 519.8l2.9 -1.2l0.7 2.1M310.5 523.8l-0.2 -3.2M313.9 510.5l-0 1.7M310.7 514.1l1.5 -0.6l-1.3 -0.2M302.4 522l2.3 -1.7M318.5 515.4l-3.1 -0.7l-1.8 -2.2M309.2 518.3l1.3 -1.1M319.1 522.8l-1 0.8M314.1 521.5l-1.4 -1.7l2 -2.1M302.7 522.5l-2.6 2.1l0.8 2.2M313.1 519.3l-1.9 0.3M306.5 521.8l1.3 -1.9l0.2 -1.5M317.8 511.9l-1.8 -1.5M303.6 519.4l1.1 1.4l-1.9 1.6l-2.1 2.5M301.1 521.1l-3.2 -0.4l1 0.8l-1.6 1.3M311.8 513.2l0.7 -1l-1.6 -1.1M315.3 519.3l2.4 2.2M311.7 514.7l2.6 1.3l0.8 1.6M319.9 523.7l0.8 -2.5l2 1.5M297.6 523.8l1.5 1.8l-2.2 -1.6M305.4 520.4l-2.3 -0.2l-3.4 -0.5M303.6 520.4l-0.4 1.5M300.3 522.2l1.6 -1.3M301 522.6l-3.2 0.5l-1.6 0.1l2.2 -1.8M305.9 518.3l1.8 -2.6M318.9 522.4l-1.8 -2.3l1.8 2.3l1.6 -0.8M316.5 514.2l1.6 -0l1.4 1.8l2.5 0.8M313.9 511.6l1 1.2M319.9 521.7l-1.7 -1.9l-1.2 -1.5M304.4 520.6l-1.2 -1.4l1.3 1.6l3 -0M316.5 521.1l-0.7 -1.4l3.1 1.3l-1.9 0.1M307.5 518.6l-3.3 -0.2l-1.5 1.2l-2.8 1.3M311.4 521l-2.6 2.1l-2.2 0.7M314.3 511.6l1.7 2.9M305 521.5l-0.4 -2.7M303.5 523l0.8 1l-0.8 -1.6M318.8 512.3l-1 1.8M314.8 523.7l-1 -1M313.9 510.8l-1.6 -2.8l1.5 -0.2M314.3 511.7l-2.3 -1M317.6 508.6l-1.4 -3.2M309.2 514.3l1 -0.8M304.8 519.1l-2.9 -1l1.2 -2.5l-1 0.9M318.4 522.7l-3.1 0.9l-2.1 1.7M310.5 514l2 -0l-1.8 1.5M311.1 519l-1.1 -2.8l3.2 -1.4M303.4 519.9l-1.8 -2.7l-1.6 -2M303.4 523.9l2 1l1 -2.1l3 1.3M318.7 523l2.6 -1.7l2 -1.6l0.3 -2.5M303.1 523.1l0.5 -1.1l0.8 -1.1M308.2 516.5l2.5 -0.9l3.3 0.3l0.4 -1.4M319.7 514.3l-2.2 -2.5l-0.1 -1.5l-0.1 -1.9" fill="none" stroke="#989898" stroke-width="0.8"/>
<path d="M438.4 456l0.9 -0.4l-1.1 0.1M437.7 455.2l1.4 -1l0.1 0.8M437.7 454.9l-0.9 -1.2l2 0.1l-0.5 0.9M437 453.9l0.8 -1.2l0.6 2.1M435.8 457.5l1 1.3M439.4 452.4l-0.2 1.8l1.8 -0.2M438.1 451.1l1.3 -1.2l0.6 -1.1l1.5 -0.2M440.2 451.9l-0.3 -1.4M440.6 453.2l-0.7 -1.7l-1.1 -0.4M439.2 453.9l-0.5 1.4l1.1 -0.4M442.5 450.9l0.8 -1.5l-1.3 0.2M441.5 452.3l-0.6 1.1M441.8 452.5l-1.8 -0.4M441.1 453.5l0.8 -0.2M441.5 450.5l0.2 2.1M445.9 447.5l-1.3 0.8l-0.7 1.9M446.4 447.1l0.9 1.9l1.2 1.4l-0.1 -1.3M443.2 450l-1.1 -1.4l-1.3 1.2l-0 1.3M444.8 448.5l-0.6 1.9M444.4 449l-1.1 0.2M447 445.3l-0.9 -0.2M449.7 443.3l0.5 -1.9l-1 1.7l0.8 -0.2M447.6 443.7l0.8 -1.1l-0.7 -0.9l1.7 0.4M448.9 445.6l0.4 1.8l-0.9 -1.5M449 444.8l1.3 0.6l-0.7 0.8l-0.7 -0.7M451 443.2l0.2 0.9l-0.3 -1.3l-2 0.2M451.3 444l1 -0.8l1.2 -0.7l0.1 -2.1M450.3 444.6l-1.1 -0.6l0.1 -1.1l-0.3 -2M449.9 441.6l1.7 0.1l-1.7 1.1M449.6 444.1l-0.9 -1M454.5 442l-1.8 0.5l-0 -1.9l-1.5 1.3M454.2 441.4l-0.1 -2.2M453.9 441.1l1.8 0.4l0.5 -0.8l-1.1 -0.2M452.7 440.7l-0.1 -1.6M452.9 437l-0.1 0.9l-0.2 -0.8l-0.4 -1.3M454.8 440l0.3 1.1l-0.2 1.4l0.7 1.5M457.5 441.1l0.3 -1.3l0.3 1.6l0.7 -1.5M454 441.4l-0.5 -1.7M456 442.8l2 0.2M455.3 440.8l1.3 -0l0.3 -1.6M456.2 437.1l1.1 1M458.1 437.8l-1 0.9l1.3 0.4l0.9 -0.5M457.8 437l-1.6 -0.2l-0.2 0.9M458.1 436.2l-1.8 0.9l-0 -1.4l1.2 -1.3M457.7 437.5l-1.3 0l-0.3 -1.5l-1 0.3M461 435.4l-1.1 1.6l-0.3 -1.5M460 437.6l1.7 -0.5l-1.2 -0.3l0.8 0.2M462.5 436.2l0.1 -1.1l0.4 1.6M458 435.1l-0.8 -2l0.5 -0.6M461.1 434.7l-1.2 -0.1l-1.9 0M462 435.4l-1.5 -1.4l1.5 0.9l-0.4 -1.1M462.8 434.8l1 -1.4l0 1.5M462 436.3l-1 1.6l-0.2 -1.2M463.2 436.2l1.9 -0.1l-1.1 -1.3M463.6 435.9l-0.7 1.7l1.2 0.6l-1.4 1.1M464.2 430.8l-1.4 1l0.7 -0.6M463.1 429.6l1 0.4l1.5 0.2M465.9 429.2l0.7 -0.8l-0.3 -1.9M464 430.6l-0.4 -1.3l0.3 1.5M465.3 431.9l-0.5 0.9l0.6 2.1M467 434.7l-0.5 -0.7l-1.4 -0.2M468.2 432.7l0.3 1.5l0.4 1.3M466.8 430.8l-0.7 -0.5l0.6 1.2l1.1 -0.3M466.1 432.6l1.1 1.6l0.7 -1M466.3 430.7l-0.1 -0.9l-1 -0.2l-0.8 -1.8M469.4 428.2l0.3 1.7l1.1 0.1l-1 0.6M468.6 429.2l-0.2 -1.4l-0.8 0.3M470.5 428.3l0.4 1.1l0.3 1.5l-1.1 0.2M470.5 426.6l1.5 1.4l-0.2 1.4l0.9 -0.5M469.5 427.8l-2.1 -0.3l2 0.3l0.5 -1.2M473.3 425.2l1.8 0.5l0.5 0.7M471.2 428.5l2.1 -0.6l-1.6 1.5l-1.1 1M474 426l0.8 1.5l-0.8 -0.5M473.4 426.6l-0.2 1l2.1 -0.5l-0.6 -1.6M474.6 429.3l1.5 0.4l0.1 2l0.2 1.8M475.1 424.3l0.6 -1.1l1.1 -1.8l-1.3 1.7M476 421.2l1.3 -0.4l-0.7 -0.4M476.9 423.7l-2 -0.4l1.3 -1.8M475.9 423.6l1.1 0.5M477.5 423.8l-0.6 1.1M480.5 420.5l0.7 -1.2M477 422.1l-1.7 0.9M478.7 423.5l-0.2 1.6l-0.4 1.2M479.1 424.2l0.3 1.9l-1.4 -0.4l-2 0.6M477.7 424.8l-0.3 1.6l-0.5 1.5l0.4 1.2M479.1 419.1l1.5 -1.1l0 2.2l-0.9 -0.4M480.5 420.4l0.6 1.5l-0.5 1.6l-0.9 -0.4M478.8 418.4l0.2 1.9l0.6 2M479.9 418.8l-1 1l1 0.5M479.8 419.2l-2 0.3l-0.7 -1.9M482.8 419.6l0.3 -1.4M480.5 418.9l0.9 -1.8M483.4 417.7l0 1.8l0.1 1.2M482.9 415.7l-0.1 0.9M483.1 418.2l0.1 1l-1.3 -0.3M484.3 416.3l-0.6 -0.8l-1.2 1.4l-2 0.7M484 415.7l0.7 -1.1l-1.2 -0.2M483.6 417.5l0.4 -1.3M482.2 416.9l-0.4 -2.1l-2.1 -0.3M483.7 417.9l0.4 -0.7l-1.8 0.8l1 -0.8M595.9 328.3l1.6 -0.5M595.7 327.2l-2.1 -0.5l0.8 -1.5M595.1 327.6l-1.1 -1.8l-1 -1.5M596.1 329.2l-0.8 -0.6M601.9 320.2l-1 -1.8M602.1 322.9l-0.8 -0.9l0.1 -1.5M603 322.6l-0 -1.7M602.8 320.9l0.7 -1.5l1.2 -0.5M606.8 317.7l-1.9 0.5M606.3 318.9l1.5 1.3l-0.4 1l-0.8 -0.2M605.1 319.3l1 0l-1 1.4M606.5 317.7l1.3 -0.9l-1 -0.5M611.8 316l-1.5 -1.3M611.3 316.9l2 0.7l1.2 1.1M612.3 315.8l0.3 1.9l1.2 0.8l1 -0.5M610.9 315.8l-0.1 -1l1.4 -1.3M615.6 311.8l-0.4 -1l1 1.2l-2 -0.9M615.3 309.9l0.8 0.6M614.5 312.2l-0.4 -1.6l1.5 1.2M613.9 312.6l1.6 -0.9M620.8 307.9l-1.6 -0.7l0.9 -1.7l1 -0M620.2 307l-1 1.7l-0.9 -0.3l-1.6 0.3M621.5 307.2l-0.5 1.1M622.2 307.3l0.5 2l-0.2 1.6M627.7 298.1l1.1 -0M626.9 300.2l0.5 -0.9l0.5 1.2M628 298.7l0.8 -0.2M626.2 300.4l0.2 0.8M633.2 297l-0.4 -0.9l1.9 -0.7M632.5 294.7l0.7 -0.8M631.8 295.7l1.4 0.2M632.2 295.8l0.1 1.5l0.2 -1.2l-0.5 -1.9M638.4 292.8l-0.2 1.5l1.3 0.1M638.2 292.9l0.9 -0l0.3 -1.8l-0.3 -1.3M638.6 292.4l-0.2 1.5l-1 0.1l-1.5 -0.4M638.7 292.5l0.1 1.6l1 -0.7M642.4 288l0.7 0.9l0.2 0.8M642 287.8l-1 0.6l0.9 0.1l-1.8 -0.3M642.1 287.6l1.5 -0.7l1.9 -0.8l-1.8 -0.9M642.2 286l0.1 -1.3l0 -1.5M650.6 282.4l0.5 -1.9M648.8 283l-0.3 1.4M649 282.8l-0.2 2l-0.4 0.8l1.4 -0M648.4 282.2l-0.1 1.8l1 -0.3l-1 0M691 246.5l-0.1 1l1 -0.4M691.2 246.6l0.5 1.1l1.5 0.6M690.8 246.7l-1 0.8l0.9 -1.6l-1.1 -0.4M689.1 246.2l0.6 -1.9l-1.7 0.9M691.2 245.4l-2 0.2l0.7 1.2l0.3 0.9M691.5 245.6l-0.8 0.6l-1.2 -0.4M691.7 245.5l-0.6 -1.1M691.7 245.8l-0.1 -1.6M693.8 243.7l-0.8 0.2l-0.6 1.7l1.1 -1.2M694 243l-1.4 0.4l-0.9 -1.6l0.8 -0.6M694.7 242.2l-1.6 0.4M695.6 241.6l-1.1 -0.6l-0.3 1.6l1.1 0.6M696 241.7l1.7 0.7l-1.9 -0.7l1.2 -0.9M696.5 241l-0.7 -0.3l-1.2 0.8M696.9 241.2l0.5 -1.6M696.7 239.6l-1 0.7M700.3 235.7l-1.1 -0.4l2 0.2M699.7 235.6l-1 -0.5M700.2 233.8l0.5 2l-0.8 -0.9l0.8 1.5M701.1 234.7l-1.2 -0.5M701.4 234.6l0.9 1l-1.1 -0.6l-2 0.6M701.1 235.3l-1.8 -0.3l-1.5 -1.5l0.5 -0.7M702.2 234.6l1.1 -0.9M701.3 233.6l-0.9 0.4M703.8 234.7l1.1 0.3l-1.4 -0.6l-1.1 1.4M704.3 233.8l-0.3 -1M702.9 234.5l1 0.4M704.1 234.9l-1.8 0.5l1.3 -1.4l-0.5 -1.3M707.1 230.7l-0.9 -1l-0.7 0.5M705 231.7l0.9 1.8l-1.2 -1.1l0.1 -1.2M706 231.6l-1 0.9l2 0M704.5 231.5l0.4 -1.9M709.7 228.7l-1.6 1.2l0.9 -1.2l0.9 -1.1M707.3 228.1l-0.4 0.7l1.8 -0.4M708.2 228l0.9 0.7l1.3 0.2l-0.2 1M708.6 228.8l-0 -0.8M713.3 224.7l0.4 -1.6l0.8 -0.9l0.2 1M712.6 223.7l-1.1 -1.3M713.5 225.9l-1 1.3l0.2 -1.7M714.7 224.6l2 -0.3M716 222.1l0.1 -1.6l-2 0.8l0.8 1M714.8 222.5l-0.2 -1.1l-0 2.1l1.2 -0.5M715.5 221.9l1.6 1.4M715.4 221.8l-0.2 2.1M719.1 222.6l-0.3 -1.5l-1.7 -0.5l0.5 -1.8M718.4 221.9l-1.4 -1.4l1.6 -0.5l-0.7 -0.4M716.7 221.6l0.2 1.5M719 221l-1.8 -1.2M721.4 215.6l-0.4 0.8l-1 0.1M721.3 216.5l-1 -0M720.8 216.4l-0.2 -0.8l1.2 -1.7l1.3 -1.3M722.3 217.6l-2 0.4M726 212.2l0.1 1.1M724.3 215l-0.8 -1.6M724.3 213.9l-0.5 1l-1.2 1.4l0.2 -2.1M725.5 215.2l-1 1.7l-0.9 0.7l1.4 0.8M725.9 210.9l1.6 0.2M726.6 209.4l-0.7 -0.6M727.6 211l1.4 -1.6l0.8 0.3l-1.2 -1.4M726.4 211.1l0.7 2.1l-1.5 -0.6l-2.2 -0.2M729.2 209.5l-1.7 -1.3l-1.1 -1M730 208.8l-0.6 -0.5l-0.1 1l-1.5 1.5M731.2 208.5l0.4 -1M731.3 208.8l1.3 -1.6l-1.7 0.4l-1.4 -0M731.5 208l0.1 -1l0.5 1.6l0.6 1.4M732.3 207.1l-1.8 1.2l-1.5 1.5M731.8 207.3l1.3 -0.3M732.9 207.6l0.9 1.7l-0.4 -1.5l-0.8 0.1M735.4 207.1l-1.6 0.5M735.1 205.7l-2 -0.3l-1 -0.3l-1.9 -0.6M733.6 205.7l-2 -0.1l1 0.5M735.9 205.5l-1.1 0.9M737.7 201.2l0 -1.1l1 -0.1l-1.8 0.6M738.4 200.8l-2 -0.6l1.3 -1.1l0.1 -2M738.6 201.3l0.5 -0.7l1.4 0.1M737.9 201.8l1.5 -1.2l-1.3 -0.3M741.7 199l-1.9 0.7M741.8 198.2l-1.3 -1l0.9 -0.2M743 198.8l0.1 -2.1l-0.3 1.3M740.9 197.9l-0.1 -0.9M744 199.5l-0.5 -1.1M742.3 198.4l-1.8 0.4M744.6 198.8l-0 -0.9l1 1.8M742.8 199.3l-1 -0.7l0.1 -2.1l-1.9 0.3M746.1 197.1l1.6 0.7M745 198l-0.9 1l-0.6 0.5M745.8 198.3l-0.9 -0M744.7 198.3l0.4 -1.5M747.6 196.1l1 0.5M749.3 194.8l0.2 1.1l-0.2 -0.9M747.9 194.9l-0.7 -0.6l0.8 -1.3M749.1 195.7l1.9 -0.3l0.1 -1.1l-0.1 1.2M752.2 191.5l-1.4 1.5M750.7 190.5l-0.4 -0.8M750.9 192l0.6 -0.5l-0.1 -1.8M752.3 192.1l0.4 -1.4M753 192l-1.1 -0.3l0.9 0.8l-0.7 1.3M753.3 192.6l1.4 0.7l-2 0.6l-0.8 -0.6M752.9 195l0.5 1.1l-0.6 0.7M752.6 192.3l0.8 1.5l0.4 -1M755.2 191.6l-0.3 -0.9l-0.8 0.9M755.2 192l1.4 -1.1l-1.2 -1.1M753.7 191.3l0.1 1.3l1.8 -0.8M754.4 191.7l-1.1 1.9l0.7 1.9l-0.7 -0.5M756.8 188.3l0.9 -1.6l-0.7 0.5l-0.2 -1.4M758.2 189.2l0.1 -1.1l1.6 0.5M758.2 188.3l-0 -1.9l-1.4 -0.6l0.6 -1.9M758.1 188.4l-1.2 -1.8l1.3 -0.9l0.7 -0.5M760.9 186.7l1.6 0.2l1.7 -1.1M760.4 185l-1.1 0.2M758.2 185.4l0.8 -0.3l0.8 1l1.9 1M757.9 186.1l0.4 1.5l1.2 1.1M762 185.6l-1.2 0l0.2 -1.6M764.3 184.7l1.6 0.9l-1.1 0.2l0.1 -2.1M762.2 183l0.6 0.9l-1 -0.2l-0.6 0.7M763.1 184l-1.7 -0.7l1.5 -0.1l1.6 0.7M766.4 181.8l0.5 1.4l1.4 0.3l-0.3 1M766.1 182.9l-1.5 0.2l0.8 -1.8M766.3 181.7l-1.1 0.3l0.8 -0.4l0.3 0.9M764.4 181.9l0.4 -1.3l-0.6 0.8M769.6 180.6l0.9 -1.2M770.2 179.8l1.4 -0.3M769.3 180.4l1.2 1.1l-0 -1.3M769.4 180.5l0.7 2l-0.8 -1.4M770.7 179.5l-0.6 0.9l-1.9 1M772.3 178.6l-0.8 -0.1M773.5 177.9l0.8 -0.8M769.9 178.4l-0 -1.2M772.7 175.6l1.3 1.3l-1.5 -0.7l0.9 -0.4M773.9 177l-1.2 -1.5M774.1 178l0.3 -1.4l1.1 0.8M773.6 177l-1.3 -0.8l-0.9 -1.2M774 177.8l1.2 -1.6M773.7 176.8l0.9 0.9l-1.8 0.9l-1.9 0.3M775.4 176.3l1 -0.3l-0.9 -0.4l1.5 -0.7M773.3 176.3l-1.9 -1l-0.8 -1.3l0.5 0.8M776.4 173.4l0.7 -1.6M777.6 172.3l1.3 1.2l0.9 1.9M776.9 174.1l-1.1 -1.5l-0.8 -0.2M778 173.7l-0.9 0.2M781.9 171.5l-0.9 -0.5M780.1 172.2l1.1 0.2M781.1 173.4l-0.1 -1.5l-0.2 -0.9l-0.9 0.7M781.7 171.8l-0.5 0.7l1.9 0.7l-1 -1.3M783.5 170.6l-1 -0l0.2 1.1M782.8 169.7l-0.9 -0.2l0.6 1M784.1 170.2l-0.8 1M784.2 169.3l0.8 -0.5M785.8 167.7l1.9 0.6l0.7 -1l0.1 0.9M786.1 168.1l0.4 0.7l-0.2 -1M787.2 167.2l0.7 0.8l1.5 -0.5M786.2 168.2l1.1 0.8l1.3 -1.1M789.7 164.8l0.6 1.4l-1.1 -0.9l1.4 -1M789.1 164.8l-1.5 -1l-0.7 -1.4M788.3 165.1l1.2 0.1M789.1 165.6l0.7 0.5l1.5 -0.8l-0.5 -2M789.4 166.2l-1.1 1.8l-0.9 -0.9l-1.7 0.6M790.8 164.8l0.8 1.3l-0.4 0.9l-0.9 -1.4M791.7 164.3l-1.3 -1.7l-1.1 1.6M789.6 164.5l0.4 -1.2l-1.2 0.4l1.9 -0.7M793.7 161.8l-1.3 -1.3M793.7 159.9l0.9 -1.3M793.5 160.2l-0.6 -1.9l1 0.2M794.9 160.8l0.3 1.3l1.1 -0.2l1.9 0.3M795.8 157.8l-1.7 1.2l-1 1.8M795.3 159l-0.4 -1.3M795.4 160.8l0.2 -1.1l-1.2 0.8l1.1 -0.5M795.9 159.8l-0 1.3l1.8 1l-0.7 1.6M503.7 404.5l0.1 0.8l-1.3 -0.5M506 405.3l1.1 -1.4l0.1 1.8M507.1 404.5l0.8 -0l1 1.8M512.4 394.1l0.3 -0.8l0.5 -1.5M513.2 395.7l1.6 -0.6l0 -1l1.4 -0.2M513.6 395.7l1.3 -1.4l1.5 1.3M520.9 388.8l-0.9 -1.4l1.5 0.9M521.7 387l-0 1.9l-1.2 0.1M521.1 389.2l-2.1 0.6l0.4 -1.6M530.4 380.7l1.1 1.7M532.5 380.4l0.5 1.9l-0.6 2M533.2 381.4l-1.7 0.4l1.5 -0.2M540.2 376l1.3 -0.9l1.6 0.6M539.3 373.3l-0.8 -1.7l0 1.5M538.5 374.6l0.9 1l1 -2M546.1 371.1l0 1l1.1 0.8M545.5 370.5l1.2 -0.3M544.9 371.4l0.1 1.2l2 -0l0.3 -1.4M553.3 363.9l-1.2 0.8l1 1.1M553.4 363.1l1.2 0.6l1.3 1.6l-1.1 -1.8M553.2 364.5l-0.2 -1l-0.8 1.7" fill="none" stroke="#9c9c9c" stroke-width="0.95"/>
<path d="M736.8 205.5L741.6 201.9M747.7 197.3L756.4 190.6M760.1 187.9L769.3 181M775.5 176.3L780.7 172.3M785.4 168.8L793.8 162.1M436.6 456L438.3 454.7M442.9 450.9L447.5 447.3M451.8 443.9L455.7 440.8M459.1 438.1L463.6 434.5M467.3 431.6L471.2 428.4M477.4 423.5L479.4 421.9" fill="none" stroke="#a2a2a2" stroke-width="2"/>
<path d="M585.3 322.6l1.5 -3.1M600.9 315l-1.2 -1.5M574.9 349.7l1.6 -1.3M614 313.7l2.5 -2l-0.2 -1.5l1.2 -2.4M487.6 397.1l-1.4 -1.2l-1.4 2.9M470.5 428l-2 1.6M602 314.1l1.4 -1.2M498.2 392.8l1.1 -1.1M425.1 454.4l0.3 -1.3l-1.4 -0.8l-1.6 1.9M579.1 339l-0.5 1.4M776.1 175.5l-2.3 1.9M574.5 339.9l-3.1 1.5M437.4 441.4l2.5 -2l-0 -3.3l-2.7 -0.8M694.4 231.4l-1.8 -2.2l-2.6 -0.1M518.2 394l1.8 -2.6l1.4 -2l-2.5 2M623.6 293.9l-1 -1.2l-2.2 0.2l1.3 -1.6M630.9 293.5l1.5 -1.1M538.9 371.1l3.4 -0.5l-1.5 -1.9l-2.9 -0.1M589.1 334.5l-0.3 2l-1.9 0.9M780.1 166.2l1.3 2.4l0.7 -1.3M425.5 445.4l-1.5 1.2M609.2 320.1l-1.6 2.6l1.4 1.8l1.8 -1.4M599.1 326.3l2.1 -0.8l-2.3 -2.1l-0.1 3.4M548.7 365l-1.4 1.1M533.6 383.2l1.1 -3.3l1 -1l-2.2 -0.2M716.4 221.3l1.6 2M451.2 429.8l-1.1 0.4M572.4 335.3l0.3 -1.7l-2.4 -1.8l1.3 -3.1M758.9 185l0.7 2.8M563.2 358.9l2.4 -1.9l0.2 1.6l-1.6 1.2M436.1 458.2l-0.8 -2l1.4 0.5M678.9 251.8l-1.4 -1.8l-0.1 -1.5l-0.8 -1.5M374.4 484.8l3.2 -0.2l1 -2.3M574.8 327l-0 -1.3M497.1 391.2l2.1 -1.7l1.3 -2.9l1.4 1.8M461.8 436l-2 -2.1M687.3 247.2l-1.4 -0.6M750.2 193l2.9 1.4M337.1 522l-1.6 0.2l-1.5 1.2M323.3 528.5l2.8 1.8M563.1 352.8l-1.3 -1.4l1.3 1.6l0.6 -1.7M732.2 206.1l2.7 -2.2l-1.8 1.4l-1.3 1.1M437.5 442.5l1.1 1.4M508.1 386.9l-1.8 -2.2l0.6 -1.3l2.9 0.9M558.3 338.1l1.9 1.1M338.4 520.3l-1 -1.2l-0.8 1.7l-2.3 1.9M716.5 216.2l-2.4 1.9M503.3 392l0.6 1.7l2.3 2.3M592.6 309.6l-2 -2.5M686.3 236.1l1 1.3l-0.8 -1l0.6 -1.2M660.2 260.2l-2 1.1l1.2 -2.4l-3.2 1.3M588.4 336.6l-1.9 -2.4M694.5 244.2l2.9 -0.3l1.4 0.9l0.9 3.4M591.4 322.3l0.4 -1.3l1.4 -3.2l2.1 1.8M625.5 283.3l-1.9 -2.4l-1.1 0.9M642.1 290.3l2.8 2.1M617.9 300.9l-1.5 -2.3M780.7 164.8l-2.7 2.2l1.1 2.5M599 324.8l-1.6 1.3l2.2 -1.6l-2 -2.5M745.4 197.7l-0.3 2.7l1.1 -1.9M727.2 206.5l-2.4 0M391.1 472.7l-3 1.7l1.8 0.6l-2.5 -1.1M475.8 423.1l2.1 2.7M765.7 184.2l1.5 0.3l1.8 2.3l-0.5 1.9M571 335.4l0.9 2l1.6 0.8l1.3 -2.1M662.7 257.9l2.4 -2l0.5 -2.4M682.6 248.2l2 -0.3l1.9 -1.2M791.3 163.5l1.7 -1.4M495.9 408.1l-1.4 -0.2l1 -1.4M546.8 353l1.9 2.1l-2.5 -1.4l1.8 -0.8M482.8 410.9l1.7 1.5l-1 2M710.7 224.8l-2.4 -2.3M750.6 182.7l0.7 3.2l2 -1.6l1.5 0M571.6 333.2l2.5 0.3M584.9 339.2l-0.9 0.8l2.1 -1.2l-3.2 -1M530.2 368.4l2 -0.7l-1.6 -2M544 351.7l0 -3M734.3 203.3l-2.2 1.4M660.8 258.6l-1.6 0.4l1.6 0.4l2.1 -2M470.1 415.3l-2.2 -0.7l3 1.1M752.6 191.2l1.8 2.7l0.6 -1.3l-0.9 1.9M362.8 494.5l-2.5 2.2M621.3 286l1.1 -0.9l-1.6 0l-1 0.8M472.2 412.6l0.8 1l-2.1 -2.6l0.8 -1.7M431.1 440.5l1.5 -1.4l-0.8 1.1M518.4 387.9l1.9 2.4l-1.5 1.2M750.4 192.7l-0.6 1.1l2.4 0.9M749.2 186.6l-0.8 -2.6l1 1.3l0.8 1M699.4 229.9l-2.9 0.3M608 318.5l-2.9 1l-1.1 0.9l1.6 0.6M442.2 447.3l-0.6 1.4M677.8 252.3l2.6 1.9l0.8 3l0.9 -1M364 493.9l1.2 -0.9l-0.3 1.7l-1.8 1.4M570.5 337.1l-1.8 -2.3l0.1 1.2l-1.7 -0.2M663.3 263.5l2.1 -1.6M563.9 356.9l2.1 -0.9l-1 -2.8M716.1 210.4l1.1 2.4l1.9 -0.6l-0.3 1.6M442.5 435.1l1.7 2.9l-1.3 -3M706.2 225.6l2.4 -1.5M577.9 347.1l1.2 0.3l2.2 -1.5M631.3 278.7l1.1 1.4l2.3 1.2M765 179.2l-2.1 1.7l1 1.4l-1.1 1.8M705.7 229.2l0.5 1.7l-1.2 0.9M413.7 457l2.2 -1.8l-1.8 0.4l-0.5 2.1M448.1 439.6l2.5 -0.2M470.9 412.5l-1.4 0.2l-1.6 1.5l-0.7 2M598.7 315.7l-2.2 1.8l-2.4 1.9M511.2 394.4l-0.8 -1.1M585.2 318.5l-1.4 -0.4l2 -1.6M700.5 226.7l-0.4 1.4l-1.6 -0.2M430.5 447.2l1.4 1.8l-1.9 0.3l-0.5 2M464.7 436.8l-2.4 -1.8M497.8 393.3l0.8 1.7l-1.7 1.3M474.5 414.6l-0.2 -1.7l1 -0.8l1.1 0.9M547.7 361.5l0.8 -2.3l0.1 -1.3M471.7 413.1l2.4 1.6l-1.1 -2.3l-1.8 -2.2M575.5 338.9l1.6 -1.3M537.1 355.7l-2.7 -1.1l1.4 -0.9M712.2 225.9l-2.1 1.7l2.3 -0.5l-0.2 2.4M718.9 218.3l1.6 -2.1M562.2 342.7l-2.7 -1.8M691.9 246.6l1.6 1.5l-1.6 -1.9M665.4 254.7l1.8 2l2.1 0.4l-1.2 -1.6M481.4 423.8l-0.8 -1l-1.9 1.5l1.2 0.2M694.1 233.1l0.2 2.2M432.9 455.4l-1.2 -1.4M565.8 346.6l-0.2 -1.3M620.9 286.4l-1.1 -1.6l-0.8 -1l-1.6 2.2M599.3 306l-0.7 -3.4l1 2l1.3 -1.6M789.1 158.5l-1.7 1.3l-1.8 -1.2l0.8 -1.5M564.2 339.8l-1.9 -1.2l2.2 -1.8l-1.9 1.5M408.8 457.8l1.7 2.2l-0.3 -1.2M460 433.7l1.5 -1.4M764.6 178.6l-0.6 3.1M531.5 380.7l-1.1 -2.8l1.4 -1.1l-2.7 -0.5M622.7 306.8l-1 -1.6l-0.6 -3.1l-1.3 0.6M511.5 399.4l-1.7 -2.1l-1.9 0.8M561.3 337.3l2.2 -1l-1.2 -3.2l1.4 -3.2M610.9 299.6l-0.3 2.7l-2.2 -1.7l-1.6 0.2M521.7 375l-1.5 2.2M541.1 375l-1.9 1.5l-0.8 -2.1l-1.4 0.4M759.2 180.2l1.8 -2.2l-1.2 -1.4l0.5 3M723.3 212.6l1.4 1.6M472.7 414.1l-0.9 -0.7l1.5 -0.6M640.3 279l1.1 -2.3M499.3 389.5l1.3 0.3M555.3 363.9l0.1 -1.8M684.8 235.9l0.8 -3.2M720.1 219.1l0.8 1l-0.7 1.1l0.8 -2M761.7 174.7l2.1 -1.7M519.5 379.8l0.5 1.7l2.2 -1.7M581.8 324.4l2.6 2.2l2.4 -2.4M520.4 382.3l2.5 -2.3l-1.5 0.4M610.8 304.2l1.6 2l0.7 -3l2.5 -1.2M543.9 363.8l-2 -2.5l-1 0.8M566.9 350.8l-0.5 -1.5l1.4 1.7l1.5 -1.2M461.6 422.8l-2.4 -1.1l2.8 -1.9M500.5 389.1l1 -0.8l-1.4 2.2M560.7 335.4l-0.8 1.3l2.2 2.7M428.2 444.2l-0.8 -1.2l-2.4 1.9M716.7 215.3l-2.8 0.1l2.6 -2.1l-0.9 -3.1M612.4 316.9l-0.9 1.8l-1.4 -2.7M573 350.3l1.4 -1.2M530.3 371.3l-1.6 -0.2l-1 -1.2l1.8 0.5M461.6 436.5l-1.7 -2.1l-2.1 -2.7l-0.7 1M742.4 193.7l-1.8 1.4l-0.2 1.6M520.2 368.3l-0.6 -3M381.9 485l2.4 -1.6l-0.3 -1.6l2.6 -1.5M493.1 414.9l-2.5 2M549.3 349.9l-1.9 0.7l2.6 -1.4M521.6 387.5l-1.8 1.4l1.9 -1.6l2 -1.6M465.5 425l-3.2 -0.7l2.2 0.5M630.5 296.8l-1.4 -0.7l1.3 1.3M657.8 266.2l1.8 1.2l-1.2 -2.4M564.5 347.3l-2.3 0.5M561.6 348.8l1.8 0.8l-0.7 3.3M644.3 273.4l1.6 1.1M494.8 408.9l0.8 -1.6l-0.8 -2.7M626.2 300.6l1.3 -1.3l-2.4 1.9l0.2 1.3M690.8 235.7l-3.3 0.8l1.6 -1.3M446.1 434.2l1.8 -1.5M588.5 336.9l-1.6 2.1l1.1 3.3M584.7 319.5l0.2 2.9l0.3 -3.4l-1 -1M684.9 238.4l1.8 -0.1l-1.2 -1.5M757.1 183.2l3.4 -0.2M494.4 408.3l-2 -0.3M561.9 357.1l1.2 -1l1.8 -1.5M568.9 354.6l1 1.3l-2 -0.7l-1.6 1.3M564.9 351.5l-1.6 2.6M795.7 156.6l-1.9 1.5M736.2 195l2.8 1.2M621.5 295.4l-1.7 1.2l-1.7 -0.5l-2.4 1.9M753 189l1.8 -1.6l1.6 3l-2.4 1.1M517.3 386.6l1.1 0.7M459.7 423.7l-1.8 -2.3M479.4 405.7l-2.5 0.6l-1.1 -1.4M498.3 404.7l-0.7 -3l-1.8 -2.3M619.6 310.9l1.5 -1.8M618.6 289.4l0.5 1.7l1.9 0.3M675.5 243l2.1 1l-1.8 2.4M625.3 299.9l-0.8 -2.5M502.2 397.7l2.2 -1.3l-2.7 -0.8M588 328.6l1.3 2.4l-0.4 1.3M568.4 351.8l1.5 -1.6M753.6 189.2l1 -1l-0.6 1.2M472 410.1l2.8 0.3l1.4 2.8M750.3 194l1.9 -1.5l-2.8 0.3l-1.3 -1.7M518.3 386.4l0.9 -1.6l0.2 -3.1l-0.9 1.9M677.2 251.9l2.3 -1.2l2.3 -0.5M523.1 387.8l2.5 2.4l-0.8 3.2l-2 0.1M477.2 419.1l1.8 -0.3l-2.4 2l2.7 -2.1M480.7 420.2l-1.7 -2.1l-1.6 1.3M449.7 447l2.5 -2l1.2 -0.6M604 314l0.3 -1.2l-1.5 2.4l-1.4 -0.8M493.4 414.6l1.8 -0l-1.4 -0.7l2.7 2.2M622.1 303.6l1.2 -0.9l1.3 3.1M685.3 249.4l-2.3 -0.7M711.2 214.8l-0 -1.6l1.6 0.9l1.8 0.9M598 312.5l-1.6 0.3M651.1 269.3l-0.7 2.3l-0.9 -2.8l-1.4 -0.2M445.2 453.7l-0.9 -1.1l-1.5 1.2l1 1.3M690.9 234.8l2.3 -1.9l0.4 1.7l-2.1 1.7M541 357.6l1.7 2.1l1.7 2.2l-2.8 -0.3M647 282.3l-1.7 1l0.9 1.2M731.8 197.6l1.1 1.6l2.2 -1.9M781.6 157.3l1.5 0.2M482.5 419.5l2.1 -0.6l-2.3 -2.2l-1.2 1M671.8 260.6l1.1 -0.9l-2 -2.7M788.6 162l-2 0.4l1.9 -0.5M619.2 301.4l-1 3.3l-1.4 2.7M398.5 467.2l0.8 1l-0.5 -2M508.1 384.7l-1.1 0.9l-2.6 -0.7M607.1 309l2.4 -1.3M702 234.4l-0.6 -1.3l-2.2 1.7l-2 -1.3M473.6 422.2l-1.7 1.4M682.2 251.5l1.7 2.1l1.2 -0l-1.6 -3M483.7 398.3l2.2 1M468.9 427.4l1.6 1.9M590.9 321.3l1.9 -1.6l-2.7 2.2M451.9 434.7l2.5 1.1l1.1 1.3l-1.8 1.5M589.9 336.3l1.4 0.9l-2.5 1.5l2.5 1.4M646.8 283.9l2.2 -1.8l2.1 -1l1.7 -1.3M438.1 445.1l-2.6 -1.2M675.6 259.5l0.4 -2M449 424.7l-0.1 -1.2l-1.4 -3l1 -1.1M421.6 454l2.1 2l-0.5 1.4l-2 -0.2M398.1 475.8l-1.3 0.4l-1.5 -1.8l1.9 2.5M609 298.8l-1.8 1.5M481.7 414l1.9 0.8M769.8 167.8l1.4 1.1l-0.8 2l-2.8 0.7M769 179.5l2.5 -2l1.1 2.6l-2.4 1.9M586.8 323.9l3.2 -0.1l2 -1.3M531.5 382.3l1.9 -0.9M545.5 357.4l1.7 -2.8l-2.4 0.9l3 1.4M619.8 287.1l2 -1.6M590.2 315.4l-0.1 -2.3M743 192.1l-2.1 -2.2l-2.9 -0.9l1 1.2M441.7 451l1.8 2.3l-2.3 -1.8M522.3 369.3l1.3 1M724.7 210.6l-2.4 1.9l3.3 0.5M544.2 366.8l2.7 1.8M704.6 222.6l0.5 2.6M620.4 287.7l-2.3 1.9M618.5 294.9l-0.9 -0.8M745.6 189.5l-2.7 2.2l-1.6 -1.7M636 290l-1.7 0.3l1.3 -0.1l-2 -0.1M714.7 216.4l-2.6 2.1l-1.6 1.3l2.4 1.7M585.7 323.4l1.2 1.4l-2.2 -1.8l-2.1 -1.8M411.8 454.8l-1.4 1.1M404.9 461.7l-1.8 1.4M673 226l-3.4 0.1l-1.6 -1.5M378.4 451.7l0.8 2.3l-0.1 1.8M539.2 332l1.8 2.3l-2 1.6l-2.7 -1.5M490.6 385.6l2.7 1.5M685.5 232.1l0.6 -1.4M385 455.9l-1.9 -1.3l-3 1.4M693.2 220.8l-2.8 0.2l2.2 -1.4M427.7 412.7l2.3 -1l2 -1.6M676.3 215l0.7 2M372.1 460.3l0.7 -2.7l-1.5 -1.9M375.9 463.7l-0.4 -3.3M634.9 269.9l-1.5 0.7l-1.6 0.2M463.5 400.2l2.9 1.7M413 421l1.5 -0.5l0.9 -2.8M323.7 503.1l-0.1 3M387.7 449.3l-1.9 -0l1.2 -2.6M357 496l-1.2 1.7l-2.9 -0.2M628.1 274.7l-1.6 -1.9M401.1 448.9l-1.3 -1.4l1.6 -1.2l1.7 2.5M586.5 282.6l1.3 0.7l1.9 2.4M655.4 247.3l-0.2 2.9l-1 -2.7l-0.6 1.4M404 443.4l2.4 -1.9M539 323.9l3.1 -0.3l-1.2 -0.4M584.6 293l-1.1 2.6M631 271l0.2 -3.3M516.7 363.3l-0.6 -3.4M446.2 425.5l2.7 -1.8l-2.2 -2.1l3.4 0.5M674.2 227.5l2.2 -2.1M478.2 394.6l-0.8 1.2l0.5 -1.2M584.2 302.4l2.7 2.1l-0.9 -1.3l-1.6 -1.8M661.2 251.7l-2.5 -1.5l-1.1 -1.3l2.6 2.1M498.9 354.4l-3.3 0.8M322.8 513.7l0.2 -1.8l-1.7 1.9M578.9 299.5l-1.5 0.1l-2 -0.1M483.9 366.6l3 -1l-0.3 1.4M447.6 407.8l-2.3 1.9l-0.7 -3M532.2 349.3l-2.4 1.9l-0.8 -1M502.3 381.6l0.2 1.7l-1.5 -0.9l-1.2 1.1M406.8 435.7l1.3 2l-0.5 2M433.9 436l0.9 -1.9M416.3 439.2l0.3 1.8M421.1 426.5l-0.9 0.8l-2.1 -2.5M616 287l-1.5 -2.1l-0.5 2.7M484.5 395.5l-1 -1.2l-1.7 0.8M627.5 263l-1.8 -1.2l0.4 -3.1M366.9 486.1l-0.8 1.6l1.2 -1.9l-0.3 -1.3M634.5 270l0.8 -1.9l1 -1.5M330.9 497.1l-1.6 -0.6l-2.5 2.1l-0.7 -1.2M658.8 238l1.3 -1.1l2.3 -1.9M380.2 472.7l-1.6 0.1l-1.5 -1.9l1.9 1.9M581.1 310.5l0.7 2.3l1.4 -1M443.7 411.3l-2.6 -1.9l-1.2 0.4l-1.2 -0.8M444.4 409.5l-1.9 -1l0 3.2M512.6 364.3l-2.2 1.8l-3.2 -0.5M655.5 236.3l0.9 -1.2l-2.1 -1.1M469.9 401.9l1.9 2.9l-3.4 -0.4l0.3 -3.3M470.7 402.5l-2.6 -0.2l2.1 2M439 425.5l-1.3 -0.5l-1.4 1.2M451 398.8l-0 1.3l-0.9 0.8l1.1 0.7M584.1 307.7l1.4 2.2M391.1 461l-0.3 1.4l1.6 -1.6M629.1 258l-0.8 1l-1 0.8M386.5 453.4l-2.8 -2l-0.3 2.7M316.5 507.6l1.3 -1.9M399.8 454.9l-1.9 1.5l1.7 0.8l-1.4 -1.1M506.1 350.4l0.2 -1.4M696.1 214.5l2.1 2.7l1.8 -1.5M411.1 435.8l1.5 2.2M599.6 292l1 1.9M349 487.1l-2.1 -2.7l-1.7 1.4l2.2 -1.8M670.2 229l1.3 0.6M524.8 356l1.1 1.3l2.2 -1.5l1.4 0.7M468.9 389l3.1 -1.3l1.2 -0.9M398.7 460l-2.4 1.9M422.5 441l1.6 0.6l1.6 2l-2.4 0.1M539.8 339.5l-1.3 1l-1.9 2.5M373 469.8l2.1 2.6M415.9 422l1.9 2M345.5 479.2l0.4 2M389.9 450.9l0.8 1l1.8 -1.4M693.6 211.1l0.9 -0.8l-1.2 1.5M436.3 403.5l-2.1 -1.7M343.4 508.6l2.5 -2l1.6 -0l-1.7 2.6M309.1 507.9l-2 -2.4l-0.6 1.1M552.8 336.1l-1.6 1.5M318.6 512.4l0.2 1.9l1.9 -1.8M448.8 402.7l2.1 -1.7l1 3.1l-0.7 1.7M410.4 428.2l-2.3 0.5M522.5 334.6l0.5 1.2l1.1 -0.9M677.4 222.1l-2.8 -0.9l1.2 0.2l-2.5 -2M627.5 255.3l0.9 2l-0.2 2.3M407 447.1l-1.9 1.6l1.1 -2.1l2.4 -1.9M389.4 468.4l1.3 1.6l2.7 -1.1M370.7 475.4l1 3.2l-2.1 1.7l-2.4 0.5M659.8 243.2l-0.4 -2M422.1 430.6l-0.1 -3.2M655.6 232.3l1.3 1.6l-0.8 1.2l-1.9 1.2M507.6 376.5l-0.1 1.8l2.6 0.5l-1.4 -1.7M589.4 300.5l0.4 1.5l1.6 2.2l-1.7 0.2M647.3 256.5l-0.3 -1.5M494.3 387.6l-3.4 -0.4l-3 -0.1M328.4 513.3l-2.9 1.2l0.3 2.1l1.7 -1.4M655.1 228.5l-2.8 1.5l1.9 1.4l-0.7 3.1M467.8 393.9l0.9 3l-1.1 -0.5l-2 -0.2M475.3 398.2l-1.1 -3M464.7 397.7l0.2 -2.8M660.8 235l2.1 -0.5l-1.8 1.4M417.8 424.9l2.6 1.5l0.4 -2.2l0.2 -1.4M452.7 401.7l-1.7 -2.5l0.7 -1.5M696.6 217l1.2 3.1l-1.8 1.5l1.8 1M640.8 257.6l0 3.1M406 455.3l1.4 -1.1M340 486.3l3.3 -0.3M614.7 270.4l2.5 -0.1M654.6 253.2l-1 -0.7l2.2 -1.1l-2.7 -0.2M685 208.6l-0.9 0.8l2.7 -2.2M383 445.9l-1.1 -2.1M487.6 371.3l-1.2 -1.1M594.4 295.6l-2.9 -0.9M597.3 275l-0.8 -0.9l3 -0.5" fill="none" stroke="#989898" stroke-width="0.7"/>
<path d="M645.3 265.6l-1.1 -1.4l1.2 -1M622 261.1l0.4 -2.1l-2.6 2.1M623.7 256.1l-0.3 1.5M622.4 257.1l-0.9 -2.7l-2.3 1.7l-2.6 2.1M622.9 266.9l1.9 1.5l1.2 1.7l-0.8 -2.2M619.2 267l3 -0.9M620.1 258l1.3 -1.2l-1.5 -1.8M622.1 267.6l2.2 2.1l0.9 -1.5l2.3 -2.2M641.7 255.2l0.9 1.8M637.3 247.8l1.3 1.7M622.4 259.8l-1.3 -0.2M634.9 258.4l-3.3 -0.1l0.3 3.2M643.8 255l0.6 2.1M629.2 265l1.3 1.6l-1.3 -1.5M630.6 268.3l2.1 2.6l-0.4 3.4M628.9 257.2l1.1 -0.9M632.4 255.2l-0.2 -1.2l-0.4 -2.6M622.7 261l2.4 -2l-2.2 1.8M614.6 268.2l-0.5 -2.3M631.6 251.4l1.9 2.7M640.8 254.3l-3.1 0.7l1.9 -0.1l2 2.5M632 252.1l-1.7 1.7l0.2 3.1M634.6 254.4l-0.6 1.5l-0.6 -2.2l2.8 0.3M642.6 254.6l1 1.8l-0.1 1.5l-1.2 -0.6M630.6 253.1l-0.8 -1l-0.8 -2M641.8 262.5l2.5 1.6M626.7 268.5l1.5 -1.6l1.2 1.5l-1 0.8M645.4 258.2l1.7 0.5l-0.4 -2.6M650.9 264.6l-1.2 3.1M635.9 257.7l-2.1 1.7M637.6 247.7l1.9 2.3M636 269.9l2.5 -1.4l1.1 1.3l-2.2 0.6M619.3 266.4l-1.7 1.4l-1.6 0.5l2.4 -0.2M635.5 252.4l-2.3 1.9l2.1 -1.7l0.9 1.2M623.9 260.1l0.8 1M628 256.3l-0.5 2l1.5 -1.2M639.2 268.6l-2.1 -2.6M638.4 258.8l-1.3 -2.4l-1.9 1.5l1.2 -0.9M642.2 254.1l-1 2.1M632.7 262.7l-0.6 1.9M641.3 261.9l-1 1.2l-2 -1.9l0.5 1.6M619.4 261.2l0.5 -2.2M616.8 269.5l-1.2 0.7l2.1 2.6M617.6 265.9l0.4 -1.6M631.3 262.5l-0.1 1.2M633.8 262.2l2.1 2.6l0.9 0.8M625 254.1l-0.9 1.2M641.2 261.3l2.4 -2l-1.9 -2.1l-1 -1.3M635.7 261.3l-1.5 1.2l-1.3 -1.6M628.3 261.4l1.4 2.4l-3 0.5l-2.6 2.1M640.4 264.5l1.6 2l1.9 2.3M636.6 268.9l-0.2 -1.8M637.1 250.1l0 -2.5l0.7 3.4M638.9 253.2l0.7 -1.5l1.2 -1l0.3 -1.9M619.7 264.1l2.6 -2.2l0.5 2l0.1 1.4M639.8 251.6l1.7 -1.3M616.6 262.8l1.4 1.8l-0.6 3.3M646 258.7l-2.9 -1.5l1.2 1.5l2.1 -1.7M632.8 255.7l-1.8 1.5l-0.4 -2.6M627.2 261.2l0.4 -1.8M614.3 263.7l2.4 -2l-2.2 -0.4M647.8 268.2l1.3 0.7l2.6 -2.1M618.1 263.3l-1.5 2.4M622.3 269.3l0.6 2.9l-1.4 -1.7M621.3 258.6l-2.8 -0.4l2.3 -1.8M638.5 269.3l-0.5 1.9M629.7 259.1l1.7 2.1l-1.2 -1.5l-2.7 2.2M640.7 269.7l1.4 -1.3l-2.4 -0.1l-1.1 3.1M612.9 267.2l1 2.1l-0 1.6l1.5 -1.2M617.7 268.9l2.4 1.4M645.3 261.8l1.9 2.4M636.2 259.2l1.9 0.4l-0.9 -0.9l2 1.5M630.7 253.2l-1.9 2.6l0.1 -1.5l-2.5 -1.4M632.9 258.5l-1.8 -2.2l1.4 1.7l2.6 1.2M631.4 263.5l1.9 1.7l2.7 1.6M628.8 259.2l2.5 -2.3M618.8 260.9l-0.2 1.4l-1.6 1.3l-1.7 -0.4M629 264.5l-1.6 -1.9l0.2 1.8M627.4 267.2l1.6 1.2l-2 1.7M646.4 266l-1.9 1.6M642.7 268.3l-0.8 -1M628.3 259.3l1.6 -1.3M645.4 261.1l3.2 1M635.4 261.8l-1.2 1.2M616.2 260.6l1.4 1.5M629.5 253.9l-1.7 -0.3M641.3 253.2l-0.7 1.8M636.7 259.8l1.2 1.4l2.2 0.3l-0.4 1.3M631 262.3l-1.9 -0.4l-2.3 2.6M630.5 257.1l-1.4 -1.7l0.8 0.9l1.6 2M630.2 254.3l0.8 0.9l1.6 1.8M639.1 253.3l-0.4 -1.8M619.5 269.4l-0.6 1.7l2.3 -1.9l-0.5 -1.3M633.8 260.6l0.5 -1.3l2.2 2.3M643.3 255.6l0.6 1l1.8 -1.7l1.8 2.2M631.5 269.8l2.6 -2.1l-1.3 -3M638.9 264.8l-2.2 -2.1l-0.9 -1.9M623.4 266.5l-0.7 1.1M625.5 268.1l-0.7 1.5l1.5 2.5M636.8 251l-1.9 0.7M647.8 262.5l0.8 -2.1l-1.6 1.3l1.4 1.7M614.5 266.4l-1.2 -1.5l3.4 0.3M629 256.3l0.2 -2.4M621.4 266.7l-1.9 -2.4M628.3 253l0.9 -1.3l1.2 1.5M635.3 255.7l3.1 -1.5l1.3 1.7l0.5 2.7M639.1 249.7l-0.3 -1.2l-2 1.6M637.2 253.5l-2.1 2.5l-0.3 -2.7M638.7 257.9l1.5 -2.2l0.1 1.4M635.7 252.1l-1.8 -2.2l-2.1 -0.5l2.8 1.9M635.8 248.8l2.4 -0.4l-1.8 -2.3l-1.6 1.6M638.6 258.2l-2.8 -1l-1.4 1.7l2.1 -1.7M637.6 247.7l1.8 2.6l-2.2 2.4M631.6 261l1.4 2.6l-2.9 0.2l1 -1M627.3 264.4l-0.4 1.4l0.2 -2.2M631.3 263.5l-2.2 0.8l1.9 2.4M613.2 269.3l-2.8 -0.8l-1 0.8M633.6 262l-2.4 1.9l-0.9 -1.1M618.9 264.2l2.9 1l-1.8 -2.2M628.8 258l-1.2 -1.5l1.9 1.1l1.9 2.4" fill="none" stroke="#989898" stroke-width="0.85"/>
<path d="M398 398C404 410 412 425 414 445C416 462 418 470 421 476M385 420C392 436 398 450 402 470M421 399C438 402 446 410 448 420C449 427 447 430 449 436M441 386C455 384 470 392 478 402C486 410 492 408 498 406M424 350C436 365 452 380 470 392M468 349C474 360 488 372 497 380M520 338C540 330 556 332 566 336C574 340 572 350 566 354M596 258C604 270 610 282 626 286C640 288 650 282 660 276M612 232C618 246 630 262 648 270M640 246C652 250 660 256 664 268M716.7 182.4L757.7 147.9L762 150.8L773.5 167.3L779 169M763.5 140.7C770 147 776 151 780.7 153C786 156 794 156 800 153M742 134L748 131M346 470C352 478 362 488 372 497M360 452C372 466 384 480 392 490M330 488C340 496 352 506 360 512M600 312C610 318 616 322 622 318M534 322C545 318 556 316 568 318" fill="none" stroke="#a0a0a0" stroke-width="0.55"/>
<path d="M797.8 268.3l-1.5 1.2M773.7 314.4l2.2 0.1l1.7 2.1M768.5 323.1l-1.6 1.3l0.7 -1.1l1.6 -1.1M762.8 297l1.2 -0.7M789.2 273.8l-1.1 0.8l0.9 -1.2l-0.1 -3M761.8 326.5l1.2 0.6M780.4 332.2l1.4 -1.1M769.4 325.6l3.1 -0.2l-1.6 -2l2.4 0.2M786.5 284.6l2.3 0.4M798.9 318.1l1.9 2.9l2 -1.6l-2.7 0.1M795.4 338.6l1.8 -0.3l-1.7 -2.1M790.4 281.4l-1.9 1.5l-0.5 1.9M745.4 297.9l0.7 3.4l-1.7 -2.1M749.9 292.1l0.6 -3.2l-3.1 -0.4M769.8 277.8l0.2 -1.3l-0.8 -1M764 280.3l0.3 -2.6M785.1 332.1l-1.5 1.2M778 302l-1.8 1.4M755.1 288.8l1.9 0.8M725.9 319.2l-1.2 -1.8M784.6 310.6l2.3 -1.6M796.5 320.2l-0.9 -1.1l1.6 2l-2.1 -2.7M769.3 311.3l2 -2.4l-1.8 -2.2l-2.5 2.2M776.3 295.8l-0.6 1.6M786.7 303l2.1 2.6l-2.2 1.8l-1.4 2.4M772.7 297.1l-2.1 1.2l-0.6 2.2M776.5 315.9l1.8 -2.8l-2.5 2l-0.8 2.2M776.7 315.4l-2.1 2.1M770.3 304.1l-2.1 -2.7l2 -1.6M789.9 344.9l-1.1 -1.4l1.2 -0.6l2 2.5M781.9 303.4l3.5 -0.2M792.2 259.2l0.6 3.2M747 304.8l2.2 1.7l-1.9 1.5M756.1 306.5l-1.8 1.5l-1.7 2.1l-0.4 2.1M729.6 320.3l1.6 2l1 -0.8l0.8 1.1M754.6 324.3l2.4 0.6M783.1 327.5l-0.3 3.3l1.2 -0.9l-0.1 3M795.1 289.8l-1.1 -1.3l1.4 2.1M751.7 299.2l-1.3 -1.7l-2.6 2.1l-1.2 -0.8M783.6 303.1l3.2 1.3M790.2 321.6l1 -0.8l1.1 1.4l-1.3 -0.8M760 309.7l1.4 0.3l-2.4 1M766.5 325.6l-1.4 -1.7M790 281.8l1.2 -0.9M798 276.1l1.1 -0.9l1.7 -1.4l2.2 2.7M777.4 327.5l-1.7 0.9M764.3 314.8l-1.7 0.9M777.9 314.8l-1.2 1.4l0.5 -1.1M742.8 316.2l0.4 1.3M795.8 309.1l1.6 3l-0.1 -1.4M792.7 312.3l-0 1.4M743.2 314.4l-0.9 -2.4M772.4 323.9l-1.6 -2.6l-1.3 1.1M753.1 315.6l0.8 0.9l1.5 -1.7M777.4 296.4l0.4 1.2l1.2 2l-2.1 0.7M753 291.3l-1.2 0.6l-1.1 3.3M777.8 303.2l0.9 -0.8M744.4 306.9l-3.3 0.3M794.5 304.5l-1.5 -0.9M774 272.2l1.5 -1.8l1 1.3M769.4 323.8l-0.6 -1.2l1.1 1.3l1.2 -1.8M789.9 302.7l1.9 -0.7M765.1 309.9l1.1 -2.5l1.9 1.5M768.4 280.5l-1.3 -1.7M783.1 278.3l1.3 0.5l1.5 -1.2M734.1 304.4l-2.8 -2.1M779.2 287.4l-1.4 1.1l-2.5 2.1M787.7 337.9l1 1.6l-1.2 -1.2M747.4 306.9l2.1 1.6l-1.9 1.5M781.1 267.5l-1.7 -2.2l0.6 -3.3l1.6 1.9M740.5 317.4l2.1 -1.7l2.7 -2.2l0.8 -1.5M782.8 291l-2.1 -2.6l1.2 1.5l1.9 -1.5M757.8 321.1l1.1 -2.5l-1.8 -2.2l1.3 -0.9M745.7 319.8l-0.2 -2.6M795.7 254.8l3.2 0.7l-1.4 1.1M796.4 314.7l-1.2 1l0.6 -2.4l1.4 -0.5M773 317.1l-0.5 -2.9M757.2 305.8l2.2 -1.8l-2.7 -0.3M769.5 279.5l-1.6 -1.3M764.4 293l1.1 -1M792.5 274.9l1.5 0.1l-1.2 1.5M755.5 289.4l-1.5 -1.9l-0.9 -1.1l-2.2 -2.3M778.9 278.8l-0.9 2.3M739.5 314.9l1.6 2.3l-1.8 0.5M799.4 300.1l-1.6 1.3l-1.9 -2.3l1.8 -1.4M757.8 318.8l-0.5 2.4l1.5 -1.2M799.4 315.7l-0.9 -2.1l1.2 1.5l-1.9 -2.4M785.4 309.1l-2.3 1.8M778.8 290.6l-0.1 1.4M784.1 335.2l-1.8 1l-0.5 1.4l1.8 2.2M772.5 300.4l-1.8 0.1M797.4 296.7l-0.1 2l2.1 2.6l-1.4 -0.6M745.6 318.9l-1.6 -2l-1 -2.7l-2.5 2M757.1 319.1l0.2 -2.8l2.7 0.1M766.8 301.6l2.6 -2.1l-2.3 -1.2M772.7 310.7l2.2 0.2M786.2 321l0.7 -1.2M765.1 295.4l2.1 2.7M791.6 275.6l-1.7 1.4l1.5 -0.6l-0.4 -3M787.7 285.8l-2.2 1.8M782.6 307l-1.9 1.5l0.4 -1.3l-1.1 0.9M793.3 306.7l1.5 -1.2l-0.1 3.3l-1 1.2M788 260.7l-0.8 -1M777.5 317.2l1.1 -1.7l2.1 -1.7M796.9 327.6l1 -0.8M785.7 303.2l-0.5 -1.1l2.6 -1.9l-3.1 -0.8M743.6 300.6l-2.1 0.1l-2 -2.5M768.4 300.7l-1.3 2.6l1.2 -2.5l-2.2 -2.7M790.5 292.3l-2.2 1.7M755.9 292.6l0.3 2l-1.5 -3l-2 1.6M778 285l-1.6 2M789.5 329.5l-2.9 -0.8l-0.4 -1.2l-2.4 -0.2M780.3 267l0.5 2.6l-3 -0.5M793.1 256.2l-2 -2l-2 2l-1.6 -0M793 322.2l2.2 -2.1M770.7 298.5l1.2 1.5l1.6 -1.3l-2.5 2M775 301.9l2.4 -1.2l-1.5 0.3l3 -1.6M756.8 292.2l-1.9 0.4l1.6 1.4l-1.6 2M797.6 294.5l-1.2 0M723.1 314.8l1.1 -0.9M790 334.7l2.6 0.6M734.4 312.3l-1.6 -2.3M795.2 269.5l0.8 1.1l-2.2 0.6M765.4 290.4l-2.6 2.1l-1.4 1.1l2.3 -1.8M788.4 336.6l1 -0.8l-0.8 -1M794.5 261.9l1.1 1.4M789.3 344l-0.7 2l1.5 -1.2l-0.9 -3M779 303.3l-0.8 -1l-0.3 -1.8M764.3 298.7l3.1 0.4l-0.4 1.2M758.5 291.1l1.4 0M743.1 321.2l-1.1 0.9l-1.6 -1.5M789.8 333.7l1.3 0.9M763.1 316l1.6 -1.3l0.4 -2.7M753.3 302l-1.7 1.4M763.2 296.8l0.5 -1.6l-2.8 -0.8M787.1 337.2l-2.1 -1.2l1 2.1M792.1 276.6l1 2.4l-2.4 -0.2l-1.8 2.9M775 297.5l0.3 -1.8M791.6 295.4l0.7 -2.5l0.5 1.8l-1.6 -0.4M763.5 320.2l-1.4 0.7l-1.1 0.8M781.5 310l-0.7 1.2l-1.8 0.5M754.1 307.5l-1.1 0.9l2.5 -2l-2.5 1M774.6 318.2l-1 0.8M727.9 320.1l-2.6 2.1l2.1 -1.7M793.1 335.3l1.2 -0.2l-0.4 -1.9M762.6 313.5l2.1 2.6l2.2 -1.3M741.5 320.6l-1.1 -1.4l1.5 -1.2l1.8 -1.4M782.6 278l-1.3 0.5l-0.4 2.9l-0.2 1.3M756.8 313.1l-0.6 1.2M778 328.4l-2.2 -1.3l1.7 1.3l-0.4 -2.2M773.6 302l2 -0.8l-2 -2.5M761.6 286.4l1.1 1.4M796.5 269l-1.9 -2.3l1.6 2l1.6 -1.3M753.4 292.4l0.9 1.1l3.4 0.1l1.3 -1M792.1 302.9l-1.7 -0.8l-1.1 2.9M772.5 291.9l-2.6 2.1l-0.1 1.5M780.6 283.5l1.9 1.4M784.1 340.5l0.6 -1.6M797.1 318.1l2.7 -2.1l-2.3 0.5l0.2 -1.3M775.5 270.6l1 -0.8l-2.3 1.9l2.5 -2M794.8 303.6l-2.1 0.3M761.5 288.9l2.7 -1.6l-0.7 -2M785.4 315.3l-1.6 -2l-0.7 2.7l1.1 -0.9M770.3 329.5l-1.6 3l-0.6 -1.8l-1.3 1.2M781.3 301.1l-1.3 -2.5M780.1 318.5l-2.9 -1.8l-0.5 -1.4M739.8 315.4l-2.9 -1.2M797 258l2.1 2.7l-3.2 -1.1l2.5 -2.1M769.8 280.7l-1.6 -0.3l2.4 -0.4M786.5 324.7l0.7 1.5M791.6 286.3l2.7 -2.2l0.8 1M780.7 274.8l1.1 1.4l-1.3 0.2l1.2 -1M772.1 285.9l1 1.2M795.7 255.7l-1.5 1.2l-1.1 2.7M785.1 309.5l-2.4 -2.3l0.5 -2.9M789.3 282.7l-1 0.8M756.2 299.4l-1.9 -0.7l1.9 -2.3l1.6 1.8M745.9 318.1l-2 -0.5l-1.9 -2.8M757.7 287.1l0.7 2.2l-0.7 1l2.1 2.3M732.4 316.4l-2.8 -1M797.4 334.1l1.5 1.1M793 316.7l2.6 -2.1M780.4 273.7l0.4 -1.9l-0.9 -1.1l-1.5 -0.8M785.7 321l2.4 -1.9M751.2 305.6l1.3 -1M782.1 289.1l2.1 1M757.4 320l0.3 -1.3l1.5 -1.2l1.7 -1.4M794.5 320.7l2 -0.9l-1.7 1.4M790.5 268.9l0.1 -1.2l1.9 -2.6l1.3 1.6M744.2 310.8l-0.8 -1l0.9 -1M766.8 329.8l-1.7 -0.8M790.3 343.3l0.2 1.3M774.8 315.9l1.9 -1.5l1.1 3M784.7 302.2l-1.5 -2.5l1.5 -1.2l-1.9 1.5M781.3 266l1.7 0.1l-1.3 -0.4l-2.3 -0.2M783.9 267.2l-2.2 -0.8l1.4 0.8M765.7 312.3l0.3 1.3l-2.5 -1l0.7 -2.8M781.2 312.2l-1.1 0.9l-1.1 -1.4l1 -0.7M756.4 314.4l-2.3 0.8l-1.1 0.9l2.6 0.5M752.2 318.4l1.2 -3.2M797.6 326.6l-0.3 -2l0.5 -1.7l1.4 1.7M776.5 290.8l-1.1 0.9l-2 0.6M784.2 310.4l2 2.5l-0.6 -1.3M790.9 289.9l0.9 2.6M761.7 302.5l-1.1 1l2.2 -1l0.2 2.5M794.7 276.4l-1.8 1.5l-1.6 -2l2.1 1.2M760.9 310.9l1.5 0.7M752.8 312.2l1 -2.6l-0.3 3.1M781.9 311.6l-2.2 -2.7M750.5 322.8l0.9 -2.3l0.1 2.7M752.4 294.7l-0.7 -1.3l0.8 -1l-1.6 0.7M755.6 319.7l1.5 -0.6l-0.6 -2.2M778.7 316.7l-1.2 1l1.1 -0.9l-1.6 -2M763.7 284.3l-2 1.6M788.1 325.8l-1.8 1.4l-1.7 2.9M781.1 308.2l-2.2 1.1l1.2 -0.7M788.8 335.4l2.2 -1.7M794.5 263.1l-0.4 -3.1l0.7 -1l0.4 -1.4M764.4 298l1.2 0.5M759.4 324l-1.1 -1.2l-1.5 1.8M786.6 322l-0.8 2.2M764.5 324.7l-0.1 1.8M771.8 311.4l2.2 -1.8l-1.1 -1.1l-3.3 -0.3M778.5 289.8l2.1 2.6l-1.2 -1.5M790.7 266.7l3.1 0.3M784.1 308.6l2.1 2.6l0.7 1.6M786.2 275.7l-0.6 1.2l-2.1 1.7l-2.5 -2M785.2 303.8l2.5 -2l-1.8 1.4l-2 -2.5M796.4 280.8l1.1 -0.9M783.8 290.3l2.4 -0.9M771 287.7l1.3 -1.1l-1.6 2.3M789.2 262.8l0.3 2.3l3 0.1l-0.4 -1.8M739.6 301.1l2.5 -1.1l-2.7 -1l-1.7 1.4M780.7 269.2l-1.6 -2M794.5 309.3l2.5 -2l-0.7 -1.7M774.1 334.2l1.1 -0.9l-1.2 -1.5M755.6 301.9l1.7 2.1l1.6 0.2M744.6 296.3l-0.2 2l-1.7 -1.6l1.3 1.6M783.4 274l-0.8 2.5l-2.5 2.2l-0.3 1.9M782.7 297l-2.1 -2.7l1.1 3.3M781.6 329.9l-2.8 -0.6l1.2 0.9M795.9 338.7l-1.2 1l-1.8 1.5l1.9 0.8M771.4 290.5l1.1 -0.9l0.4 -3.1l-1.9 1.5M784.5 344.3l0.8 -1.1l1.7 -1.9l2 -1.6M788.9 282.4l-2.3 -0.1l2.1 -2l0.3 2.2M776 312.9l-1.5 1.2M766.8 296.4l-1.6 -0.4l-1.3 1l-2.3 -1.3M775.2 315.2l3 1.6M749.1 296.4l2.6 -2.1l2.6 -2.1l1.1 -0.9M792.7 266l-1.2 -2l-3.4 0.1M762.8 288.4l-1 -1.9l2.3 -1.8l2.1 2M793.2 297.6l-2.2 1.8M799.4 258.5l0.8 1l-1.6 -2.3l-0.9 2.3M763.8 289.9l1.6 -1.3M780.4 315.7l1.7 2.1M752.4 324l0.7 -3.2l-3.4 0.3M759.9 321.6l1.2 1.5l-2.1 2.7M750.4 296.9l1.1 -3M770.8 277.1l0.1 -2.2l-2.3 0.9M726.1 312l-1.7 -2.1M795.5 282.4l1.3 1.6l-1 0.8M753.6 313l2.7 -1M749.7 316.8l2 0.2l-1.4 -1.7M769.8 328.3l-3.1 -1.3M790.9 277.3l0.4 2.7l1.5 -1.2l1.5 0.9M767.8 276.8l2.7 -2.2l-1.3 1.2M730.4 313.9l2.5 1.9M797.9 273.5l1.4 -1.1l1.8 2.2l0.1 1.6M779.6 313.7l-0.8 -1M766.6 292.6l1.3 0M788.6 336.9l-1.1 2.3l1.3 -0.6M765.6 318.8l-1.6 -0.3l1.4 -1.2M764.5 288l1.7 -1.4M748.3 307.8l-1.9 -2.3l-1.6 -1.5M791.5 286.3l-2.4 1.9l-1.8 -0.5M755.6 290.3l-1.5 0.7l0.3 -3.2M786.5 313l-1.8 1.4l1.9 0.6M764.8 299.1l-1 -2.9l-1.4 0.2l-1.2 0.5M794.3 323.2l1.2 1.5M753.5 291.9l1.8 2.9l-1.1 2.1l1.2 -1M792.2 286.2l-1.9 -2.4M743 317l-2 -1M790.6 335.9l-1.5 1.2M772.3 313.2l1.1 -0.5l0.7 -2.6M785.8 339.4l1.1 -0.9l-3.1 -1.3l2.4 -2.1M761.3 307.2l2.8 1.3l-1 -1.2l-2.3 1.8M786.4 324.2l1.5 2.1M754.6 322.7l-1.1 -1.3M746.7 304.7l1.4 -1l-1.4 0.8M752.2 291.3l0.3 2.1l-2 1.6l-0.2 2.3M761.6 297l-2.3 0.6l1.1 1.4l-1.9 2.8M749.9 300.7l1.7 -1.4l-1.4 -1.7M751.1 323.7l-0.9 -3l-1.2 1l2.2 0.2M763.9 298.6l-0.2 1.8l2.6 -2.1M795.3 291.6l1.6 2M756.4 322.6l3 0.5l-1.3 2.1M725.8 315l-2 1.6l-0.4 1.1M798.8 310.2l-2.1 -2.6l-2.4 1.9l-1.8 -1.9M757.6 317.4l-1.2 -2.6M794.6 320.7l-1.8 0.5l-0.3 -2.5l2.2 2.7M773.5 285.9l1.4 -1.1l-1.2 -1.3M793.8 329.3l1.2 -0.3l1.2 -0.9M754.4 295.2l-1.6 -2M785.1 277l-1 0.7l-1.4 1.1M785.8 283l-1.5 -0.9M749.6 322.1l-2.6 1l1 1.2l1.3 1.7M772.1 322.4l1.4 1.7l-1.9 -2.3l1.7 -1.3M785.7 312.8l-2.2 0.7l1.2 2.3l-1.1 0.9M766.4 282.9l-1.4 -0.6l1.5 1.9M786.6 264.7l0.8 -3.1M793.2 286.3l2.9 -1.4l-1.4 -2.8M797.1 270.7l1.1 0.7M798.5 326.6l-1.4 -1.7l1.9 2.4M760.4 308.3l-1.5 1.2l1.6 -1.3M771.8 309.9l2 2.4l0.8 -2M791.6 273.8l-2 -1.8l1.6 -1.3M761.5 308.7l-2.4 1.9l-1.1 0.9l-2.6 1.5M797.6 301.7l0.5 1.7M758.3 292.6l0.7 1.1M766.1 304.5l-2.6 2.1l1.8 0.4M754.5 308.8l1.3 1.6l1.4 -0.7M787.3 323l-0.9 1.2M745.8 302.5l-2 -1l-1.1 0.9M785.8 293.3l-0.6 -1.2M779.9 324.1l-2.6 2.1M768.7 310.6l1.3 -2.9l-1.7 1.4M790.4 332.6l3.1 -0.1l-1.2 -1.5l2.8 1.7M778.7 299l-1.8 1.4M790.1 269.4l-2 2.4l-3.2 0.5l1.3 -1.1M790.1 294.4l1.9 -1.5l1.8 -1.5l1.3 -1.1M779 325.5l2.3 -2.5l-2.1 -2.6M784.6 273.1l1.1 1.3l-2.4 -1.8l0.3 -2.8M769.8 289.4l1.1 1.4l-0.1 -2.9M793.2 284l-1.7 -1.6l1.8 2.6l2.2 -1.8M780.3 295l-1.6 0.5M794.7 279.1l-0.7 -1.4M785.6 284.9l0.8 1.1l2 -0.9M788.7 344.1l0.4 1.4l0.8 -1.6l0.5 1.7M734.1 319.8l2.9 0.2l-0.1 2l-2 -0.5M754.8 302.8l2.6 -2.1l-0.3 -3.1M793.7 331.7l-2 1.6l-0.9 -1.1M753.5 296l1.4 1.8l2.1 2.1M785.8 326.7l-2.4 1.7M770 311.3l-1.8 -2.2l-1.3 -2.5M765.8 286.4l1.8 -1.5M751.8 310.1l-1.6 -0.3M780 308.7l1.1 1.2l-1.4 -0.5l-3.2 -1.5M778.1 322.8l-1.4 1.1l-1.8 3l0.2 2.2M791.2 323.3l1.8 1.1l2.8 -0.7l-2.2 1.8M734.3 317.8l-1.7 2.8M787.9 292.7l-1 1.7l2 -1.6M797.6 325l1.9 -0.1l-1.2 2.6l-1.5 1M795.7 323.9l1.9 2.4l1.3 0.5l-2.2 1.8M769.5 323.6l-2.2 1.7M799.2 316.3l2 2.5l1.7 -0.6M781.7 312.8l-0.2 2l-1.4 1.1M785.8 275.8l2 2.5M773.4 329.5l-1.2 -1.9l-1.2 1.4M761.9 307l-0.7 1.9M768.9 327.3l-0.8 -0.9l-2.4 1.9l-1.7 -2.2M784.2 299.6l-1.7 0.2l2 0.2l-2.4 2.1M782.1 322l1.4 -1.3l1.9 2.3l-1.6 0.6M787.1 291.6l-1.2 1l1.9 -1.5M787.8 334.6l1.4 2.5l-0.9 3.4l1.7 -1M798.3 261.4l0.3 -2.5l-0.2 3l-1.6 0.3M745.9 320.2l1.5 1.8l-2.7 -1.7l-2 -2.4M794.6 299.6l1.5 1.8l-1.7 2.2l2.6 -2.1M733.5 317.9l2 2.5M795.1 317.2l-1.3 1.1l-1.4 2.6M762.5 293.1l-1.4 1.1l-2.3 1.9l0.7 -2.4M761.8 323.1l-1 0.8l-2.6 -2l3.5 -0.1M779.1 289.2l1.7 -2.4M783.6 309.4l-1.1 -1.4M732.3 312l-1.4 1.7l1.7 1.1M797.8 282.9l-2.9 1l2.9 -0.4M791.6 331.6l-0.9 -1M736.9 304l-0.3 2.5l1.7 -0.4l1.5 2.6M779.3 333.1l1.5 1.1M794.6 256.3l1.5 -1.5l-1.1 0.9l-0.8 1M789.6 318.5l1.1 1.3l-1.3 -1.6M772.5 310.2l1.9 -0.6l-1.5 0.6l0.5 1.6M770.4 319l1.5 -3.1M781.5 305.1l1.5 1.8l0.6 -1.5l-0.7 -3.4M792.4 271.4l-2.9 0.3M778.4 315l1.3 -2.1l-1.1 -3.1l0.5 3.1M724.4 317.4l-1.7 2.2l1.8 1M751.3 300.7l-0.8 -1.4M798.2 281.6l1.3 -1l-1.7 -2.2l2.7 2.1M783.8 337.5l0.2 1.3M794 286.2l-1.7 -2.2l1.3 1.6l1.8 -1.4M780.7 301.8l1.8 -2.5M754.3 294l2.8 0.7l-2.6 2.1l1.9 2.4M744.7 295.7l-2.4 1.9M786.6 265.8l-1.3 1.8l-0.8 -1M763.3 309.1l-0.4 -2.1l1 -1M788.2 294.3l-1.9 0.3l-2.3 1.4M782.8 275.9l-2.8 -0.6l1.2 -1.1l-2.1 0.7M780 338.4l-3 -0.2M746.7 299.9l1.5 3l1 2.8l-1.9 1.5M725.6 317.8l1.2 2.4M775.1 271.4l-1.7 1.4l-2.3 -2M765.1 279.9l2.7 -2.1l-1.5 -3.1M750.4 323.7l1.3 1.4l3.4 -0.3l1.1 0.4M738 320.2l-0.8 -2.3M750 299.1l0.9 -3.3l1.2 1.5M758.3 312.6l2 2.4M776.8 273.2l0.8 1M796.5 317.2l1 -0.8M731.1 310.5l1.2 2l0.9 0.9l-1.1 1.9M783.4 265.4l-1.3 -2l-0.9 -1.2M777.3 300.1l2.8 -0.2l2.1 -1.7l1.8 -1.4M776.9 326.5l0.7 2l-0 1.9M785.3 298.6l1 1.2l1.8 2.3l1 -0.8M743.3 300l2.3 1.9l-1.2 2.8l-3.1 0.5M775.8 286.6l0.9 -1.3M783.6 298.5l-1.9 -2.4l1.7 -1.4l2.4 -2M781.7 306.9l3.1 0.8M778.5 318l0.3 3l0.5 -1.1M742.5 311.4l-1 0.8M733.1 321.2l-2.7 1.4M787.4 284.9l0.4 2.8l0.6 1.1M765.2 304.7l-2.2 1.4M761.6 324l1 1.3l-0.5 -1.8M762.6 314.4l-1.5 -1.3l-1.9 1l2.3 -1.8M773.5 299.7l-2.5 2l1.9 -1.6l2.1 2.6M787.1 266.8l1.5 1.8l0.1 -1.2l-0.4 -1.9M752.5 294.6l2.1 -1.7l1.6 2.1l-1.8 2.4M792 314.4l1.1 -2.4l1.4 1.7l-0.4 3.1M790.8 282.3l-1 -1l-2.1 1M745.4 321.1l0.7 2.6l1.7 0.1M789.4 307.4l-2.8 0.5l1.3 -1M739.1 307.8l-2.2 1.7l-3.3 -0.7l1.5 1.9M768.3 304.8l-1.1 0.9M793 330.3l1.5 0.1M796.9 301.4l1.7 -0.4M782.9 308.4l1.8 -1.4l-2 1.6l-2 1.6M787.7 271.2l2.2 -1.8M795.1 278.8l2 2.5l0.5 -1.1M784.3 302.9l3.2 -1l-2.5 2M785.8 307.2l-2.1 -2.4l-1.6 -0.6M789.6 292.9l-2.7 2.2l-1.5 -1.3M780.6 287l1.4 -0.3l1.5 1.9M791.4 269.1l-0.3 2M737.5 303.7l0.4 -2.7l-2.8 0.9M757.8 324.4l1.3 1.5l2.4 -1.9M771.1 322.6l1.3 -1l-3 -1M771.9 326.3l0.8 1l1.6 2l-1.5 -0.5M797.1 311.6l1.7 1.4l2 2.4M786.1 275.5l-1.8 -1.2l1.7 -1.1l-2.7 -1.2M795.4 255.2l-0.1 -1.3l-1.9 -2.3l1.2 -0.6M773.3 278.9l0.6 1.6M756.6 299.8l0.4 -1.3l-1.8 -0.9l1.8 -1.5M750.6 319.9l-2.8 -1.8M775.3 332.6l-1.6 2.7M783.6 270.4l1.4 -1.4l1.7 2.1l-1.3 0.2M791.8 341.1l-1.6 1.3M775.6 317.8l2 1.2l0.9 1.1l-1.3 -1.6M736.8 302.3l0.8 1.3l1.5 -0.2l1.8 -0.3M763.6 294.7l1.4 -1.2l3.2 0.3l-0.1 2.1M780.5 267.9l-1.5 0.4l-2.2 -2.7M730.4 311.8l1.1 -0.9M794.9 301.6l-2.3 0.2M762.3 323l-1.5 -0.4l-1.2 -0.4l-1.8 -2.3M783.4 315.4l-0.8 -1M780.6 301.3l-2.3 1.9l-1.1 -1.4l2 1.4M762.2 302.7l-1.6 -2M734.2 308.8l-0.1 3.1M760.4 317.2l1.6 -1.3M769.2 296.2l1.9 -1.5M731.4 307.2l-0.7 2.6l0.9 -1.4M749.4 293.8l1 3.1l-2.3 0.9M741.5 304.2l-2.4 -1.6M754.8 306.9l2.3 0.4l1.5 -1.2l-0.3 -1.2M747.3 299.3l-1.2 3.2l-1.5 1.7l-0.9 -1.1M782.7 268l-1.9 -2.4M778.7 317.4l-2.2 -0.1l-1.4 -2.7l-0.7 -1.7M762 325.3l0.4 -1.4M765.9 315.6l-0.4 1.1l-2 -2.7M773.9 272.4l-1.6 1.3M733.4 305.4l-1.5 -0.8l1.3 -1l-0.8 1.6" fill="none" stroke="#989898" stroke-width="0.9"/>
<path d="M785.1 276.6l-2.1 0.5l-1.1 -3.2M790.4 331.2l2.9 -1.4M733.1 314l-3.2 1.4l1.8 2.4M784.8 333.2l2.8 -0.3l-3.1 2.5M782.4 276.8l2.2 -0.7l-2 -2.4M774.1 289.9l1.8 -1.5l-2.2 -1.6M765.9 314.5l3 -2.4l0.1 2.3M772.7 296.6l3.6 -0.1l3.5 1.7M788.2 313.3l-2.3 -0.5l-0.9 -2.3M780.9 296.6l2.3 2.9l0.4 -3.8M780.7 330.3l-0.7 3.8l2.6 -1M772.1 285.4l2.2 -1.8M788.6 287.6l-2.5 2M773.5 323.2l0.4 3.9l2.8 0.5M783.3 282.5l0.4 -2.4l-2.5 -1.2M781.4 266.3l-2.5 0.4l2.6 -1.3M793.8 290l2.5 0.1l1.6 -3.4M787.4 286.1l-0.8 -2.4l0.6 2.2M794.1 281.7l-2.8 2.2l-2.3 0.2M772.8 319.8l-1.5 -2.2M727.7 309.9l-1.8 1.5l3.6 -1.1M746.9 307.2l1.7 2.1M789.5 317.4l-2.3 -0.1M730.3 317.6l-2.3 1.9M792.6 280.5l3.1 1.7M789 335.5l2.4 2.8l-2.4 2.3M748.2 306.7l-0.2 3.4M745.4 302.7l2 2.5l1.7 -2.1" fill="none" stroke="#a8a8a8" stroke-width="1.8"/>
<path d="M745 300L770 330L801 372M760 287L796 330" fill="none" stroke="#fff" stroke-width="2.2"/>
<path d="M743.5 301L768.5 331L799 372M746.5 299L771.5 329L801 368" fill="none" stroke="#a0a0a0" stroke-width="0.5"/>
<path d="M407 411.5H473V413H407Z" fill="none" stroke="#858585" stroke-width="0.5"/>
<path d="M355 542.3L349 549H362Z" fill="#b5b5b5" stroke="#888" stroke-width="0.5"/>
<path d="M661.9 207.4H670M662.3 207.4V209.5M314 432.5H321.9M318.5 429.3V435.6" fill="none" stroke="#858585" stroke-width="0.8"/>
<polyline points="308.8,548.8 339.8,522.2 425,457 432.5,466.2 491.2,419.5 562.5,361.2 580.3,347.5 633.5,300 661.5,276.5 732,211.5 793.5,165 801,158" fill="none" stroke="#000" stroke-width="1.5" stroke-linejoin="miter"/>
<polyline points="355,542.2 432.5,487.3 801,189.7" fill="none" stroke="#000" stroke-width="1.15"/>
<polyline points="432,548.8 801,247" fill="none" stroke="#000" stroke-width="1.15"/>
<polyline points="443,549 456.9,535 560,451.2 636.2,390 724.5,320.5 762,328" fill="none" stroke="#000" stroke-width="1.55"/>
<polyline points="432.2,488.6 483.1,549.5" fill="none" stroke="#000" stroke-width="1.3"/>
<polyline points="571.7,549 801,363.8" fill="none" stroke="#505050" stroke-width="2"/>
<polyline points="582,537.3 801,360.4" fill="none" stroke="#9a9a9a" stroke-width="0.6"/>
<polyline points="785,310 784,271.6 801,259" fill="none" stroke="#000" stroke-width="1.35"/>
<path d="M766.3 324L782.5 311" fill="none" stroke="#000" stroke-width="1" stroke-dasharray="2.5 2.5"/>
<path d="M662.8 274.6L670 284.2M665.4 272.6L672.6 282.2M669.5 284.8L673.2 281.8" fill="none" stroke="#000" stroke-width="1.5"/>
<polygon points="497.2,399.6 503.7,393.2 508.8,398.6 502.3,405" fill="none" stroke="#000" stroke-width="1.3"/>
<polyline points="501,394.5 499.5,383.2 525.3,365.2" fill="none" stroke="#333" stroke-width="0.6"/>
<path d="M367.5 474.6H300.6L362 549M447.5 432H406.2M447.5 432L490.5 470.5M481.2 485L507.5 517H549.5M532.2 308.4H598.5L633.5 351.3" fill="none" stroke="#111" stroke-width="0.7"/>
<path d="M801 146.3V296.3" stroke="#000" stroke-width="1.6"/>
<path d="M297.5 549.5H452" stroke="#000" stroke-width="1.5"/>
<circle cx="339.8" cy="522.2" r="1.15"/><circle cx="425" cy="457" r="1.15"/><circle cx="432.5" cy="466.2" r="1.15"/><circle cx="491.2" cy="419.5" r="1.15"/><circle cx="562.5" cy="361.2" r="1.15"/><circle cx="580.3" cy="347.5" r="1.15"/><circle cx="633.5" cy="300" r="1.15"/><circle cx="661.5" cy="276.5" r="1.15"/><circle cx="732" cy="211.5" r="1.15"/><circle cx="793.5" cy="165" r="1.15"/><circle cx="456.9" cy="535" r="1.15"/><circle cx="553" cy="457" r="1.15"/><circle cx="604.6" cy="415.4" r="1.15"/><circle cx="625.6" cy="398.5" r="1.15"/><circle cx="651" cy="378" r="1.15"/><circle cx="671" cy="362" r="1.15"/><circle cx="703" cy="337.8" r="1.15"/><circle cx="724.5" cy="320.5" r="1.15"/><circle cx="762" cy="328" r="1.15"/><circle cx="355" cy="542.2" r="1.15"/>
</g>
<text x="410" y="377" font-size="5.3" font-weight="bold" font-style="italic" fill="#111" textLength="48" lengthAdjust="spacingAndGlyphs" text-anchor="start">город Волгодонск</text>
<text x="666" y="407" font-size="5.3" font-weight="bold" font-style="italic" fill="#111" textLength="48" lengthAdjust="spacingAndGlyphs" text-anchor="start">город Волгодонск</text>
<text x="328.6" y="555" font-size="5.3" font-weight="bold" font-style="italic" fill="#111" textLength="83" lengthAdjust="spacingAndGlyphs" text-anchor="start">Линия совмещения с листом 6</text>
<text transform="translate(806 257) rotate(-90)" font-size="5" font-style="italic" font-weight="bold" fill="#222" textLength="80" lengthAdjust="spacingAndGlyphs">Линия совмещения с листом 8</text>
<text x="300.4" y="463.8" font-size="3.7" font-weight="bold" fill="#000" stroke="#000" stroke-width="0.22" textLength="58.3" lengthAdjust="spacingAndGlyphs" text-anchor="start">Зона планируемого размещения</text>
<text x="300.4" y="469" font-size="3.7" font-weight="bold" fill="#000" stroke="#000" stroke-width="0.22" textLength="67" lengthAdjust="spacingAndGlyphs" text-anchor="start">объекта капитального строительства</text>
<text x="300.4" y="473.6" font-size="3.8" font-weight="bold" fill="#000" stroke="#000" stroke-width="0.22" textLength="18.5" lengthAdjust="spacingAndGlyphs" text-anchor="start">№6 (ЗОС)</text>
<text x="405.6" y="430.8" font-size="3.7" font-weight="bold" fill="#000" stroke="#000" stroke-width="0.22" font-style="italic" textLength="34" lengthAdjust="spacingAndGlyphs" text-anchor="start">Граница охранной</text>
<text x="405.6" y="436" font-size="3.6" font-weight="bold" fill="#000" stroke="#000" stroke-width="0.22" font-style="italic" textLength="40.5" lengthAdjust="spacingAndGlyphs" text-anchor="start">зоны кабеля связи №2</text>
<text x="509" y="515.8" font-size="3.7" font-weight="bold" fill="#000" stroke="#000" stroke-width="0.22" font-style="italic" textLength="33" lengthAdjust="spacingAndGlyphs" text-anchor="start">Граница охранной</text>
<text x="509" y="521" font-size="3.6" font-weight="bold" fill="#000" stroke="#000" stroke-width="0.22" font-style="italic" textLength="40.5" lengthAdjust="spacingAndGlyphs" text-anchor="start">зоны кабеля связи №1</text>
<text x="532.3" y="302.6" font-size="3.7" font-weight="bold" fill="#000" stroke="#000" stroke-width="0.22" textLength="66" lengthAdjust="spacingAndGlyphs" text-anchor="start">Зона планируемого переустройства</text>
<text x="532.3" y="307.7" font-size="3.5" font-weight="bold" fill="#000" stroke="#000" stroke-width="0.22" textLength="45" lengthAdjust="spacingAndGlyphs" text-anchor="start">кабеля связи ПАО "РС" №1</text>
<text transform="translate(506 441) rotate(-38.8)" font-size="3.8" font-weight="bold" fill="#000" stroke="#000" stroke-width="0.22" textLength="35" lengthAdjust="spacingAndGlyphs">Зона планируемого</text>
<text transform="translate(509.5 444.5) rotate(-38.8)" font-size="3.8" font-weight="bold" fill="#000" stroke="#000" stroke-width="0.22" textLength="37" lengthAdjust="spacingAndGlyphs">размещения объекта</text>
<text transform="translate(512.5 448.5) rotate(-38.8)" font-size="3.8" font-weight="bold" fill="#000" stroke="#000" stroke-width="0.22" textLength="20" lengthAdjust="spacingAndGlyphs">кабеля №2</text>
<text transform="translate(576.5 421.5) rotate(-38.8)" font-size="4.3" font-weight="bold" fill="#000" stroke="#000" stroke-width="0.22" textLength="20" lengthAdjust="spacingAndGlyphs">М.чайкина</text>
<text transform="translate(554.7 500.5) rotate(-38.8)" font-size="4.3" fill="#222" font-style="italic" font-weight="bold" textLength="33" lengthAdjust="spacingAndGlyphs">М.чайкина (?)</text>
<text transform="translate(500.5 382.8) rotate(-35)" font-size="3.9" font-weight="bold" fill="#000" stroke="#000" stroke-width="0.22" textLength="30" lengthAdjust="spacingAndGlyphs">ЛЭП 0,4кВ</text>
<text transform="translate(423 543.5) rotate(-38.8)" font-size="3.9" fill="#222" font-weight="bold" textLength="23" lengthAdjust="spacingAndGlyphs">М.чайкина</text>
<text transform="translate(633 352) rotate(-38.8)" font-size="4" fill="#555" textLength="16" lengthAdjust="spacingAndGlyphs">авт.дор.</text>
<text x="324.5" y="524" font-size="3.9" font-weight="bold" fill="#000" stroke="#000" stroke-width="0.22" text-anchor="start">35(5)</text>
<text x="343.5" y="524" font-size="3.9" font-weight="bold" fill="#000" stroke="#000" stroke-width="0.22" text-anchor="start">(5)</text>
<text x="412" y="455.5" font-size="3.9" font-weight="bold" fill="#000" stroke="#000" stroke-width="0.22" text-anchor="start">37(5)</text>
<text x="431" y="458" font-size="3.9" font-weight="bold" fill="#000" stroke="#000" stroke-width="0.22" text-anchor="start">38(5)</text>
<text x="419.5" y="466.5" font-size="3.9" font-weight="bold" fill="#000" stroke="#000" stroke-width="0.22" text-anchor="start">335</text>
<text x="424" y="471" font-size="3.9" font-weight="bold" fill="#000" stroke="#000" stroke-width="0.22" text-anchor="start">4(3)</text>
<text x="477" y="419" font-size="3.9" font-weight="bold" fill="#000" stroke="#000" stroke-width="0.22" text-anchor="start">39(5)</text>
<text x="492.5" y="425.5" font-size="3.9" font-weight="bold" fill="#000" stroke="#000" stroke-width="0.22" text-anchor="start">1(3)</text>
<text x="549" y="360" font-size="3.9" font-weight="bold" fill="#000" stroke="#000" stroke-width="0.22" text-anchor="start">40(7)</text>
<text x="564.5" y="369.5" font-size="3.9" font-weight="bold" fill="#000" stroke="#000" stroke-width="0.22" text-anchor="start">132</text>
<text x="566.5" y="346" font-size="3.9" font-weight="bold" fill="#000" stroke="#000" stroke-width="0.22" text-anchor="start">41(9)</text>
<text x="582" y="354.5" font-size="3.9" font-weight="bold" fill="#000" stroke="#000" stroke-width="0.22" text-anchor="start">441</text>
<text x="622" y="298.5" font-size="3.9" font-weight="bold" fill="#000" stroke="#000" stroke-width="0.22" text-anchor="start">42(9)</text>
<text x="636" y="306" font-size="3.9" font-weight="bold" fill="#000" stroke="#000" stroke-width="0.22" text-anchor="start">441</text>
<text x="646.5" y="277" font-size="3.9" font-weight="bold" fill="#000" stroke="#000" stroke-width="0.22" text-anchor="start">43(9)</text>
<text x="654" y="268.5" font-size="3.9" font-weight="bold" fill="#000" stroke="#000" stroke-width="0.22" text-anchor="start">47(9)</text>
<text x="668.5" y="274" font-size="3.9" font-weight="bold" fill="#000" stroke="#000" stroke-width="0.22" text-anchor="start">446</text>
<text x="667.5" y="289.5" font-size="3.9" font-weight="bold" fill="#000" stroke="#000" stroke-width="0.22" text-anchor="start">453</text>
<text x="719" y="209.5" font-size="3.9" font-weight="bold" fill="#000" stroke="#000" stroke-width="0.22" text-anchor="start">44(9)</text>
<text x="732" y="218" font-size="3.9" font-weight="bold" fill="#000" stroke="#000" stroke-width="0.22" text-anchor="start">345</text>
<text x="782" y="164.5" font-size="3.9" font-weight="bold" fill="#000" stroke="#000" stroke-width="0.22" text-anchor="start">48(9)</text>
<text x="794" y="171.5" font-size="3.9" font-weight="bold" fill="#000" stroke="#000" stroke-width="0.22" text-anchor="start">46</text>
<text x="459.5" y="542.5" font-size="3.9" font-weight="bold" fill="#000" stroke="#000" stroke-width="0.22" text-anchor="start">3(7)</text>
<text x="554" y="464" font-size="3.9" font-weight="bold" fill="#000" stroke="#000" stroke-width="0.22" text-anchor="start">8(7)</text>
<text x="608" y="421" font-size="3.9" font-weight="bold" fill="#000" stroke="#000" stroke-width="0.22" text-anchor="start">7(7)</text>
<text x="627" y="404" font-size="3.9" font-weight="bold" fill="#000" stroke="#000" stroke-width="0.22" text-anchor="start">6(7)</text>
<text x="651.5" y="385.5" font-size="3.9" font-weight="bold" fill="#000" stroke="#000" stroke-width="0.22" text-anchor="start">5(7)</text>
<text x="671.5" y="370.5" font-size="3.9" font-weight="bold" fill="#000" stroke="#000" stroke-width="0.22" text-anchor="start">4(7)</text>
<text x="703.5" y="343" font-size="3.9" font-weight="bold" fill="#000" stroke="#000" stroke-width="0.22" text-anchor="start">3(9)</text>
<text x="724.5" y="328.5" font-size="3.9" font-weight="bold" fill="#000" stroke="#000" stroke-width="0.22" text-anchor="start">2(7)</text>
<text x="756" y="334.5" font-size="3.9" font-weight="bold" fill="#000" stroke="#000" stroke-width="0.22" text-anchor="start">1(7)</text>
<text x="783.5" y="318" font-size="3.9" font-weight="bold" fill="#000" stroke="#000" stroke-width="0.22" text-anchor="start">150(10)</text>
<text x="720.5" y="316.5" font-size="3.9" font-weight="bold" fill="#000" stroke="#000" stroke-width="0.22" text-anchor="start">18</text>
<text x="775" y="309" font-size="3.9" font-weight="bold" fill="#000" stroke="#000" stroke-width="0.22" text-anchor="start">26</text>
<text x="322.2" y="432.9" font-size="6.2" fill="#858585" textLength="18.6" lengthAdjust="spacingAndGlyphs" text-anchor="start">А56100</text>
<text transform="translate(318 454) rotate(-90)" font-size="5.6" fill="#858585" textLength="21.5" lengthAdjust="spacingAndGlyphs">505333</text>
<text x="670.2" y="208" font-size="5.6" fill="#858585" textLength="19.5" lengthAdjust="spacingAndGlyphs" text-anchor="start">А56 500</text>
<text transform="translate(667.2 229.1) rotate(-90)" font-size="6.8" fill="#858585" textLength="21.8" lengthAdjust="spacingAndGlyphs">2031КЗ</text>
</svg>
</body></html>
